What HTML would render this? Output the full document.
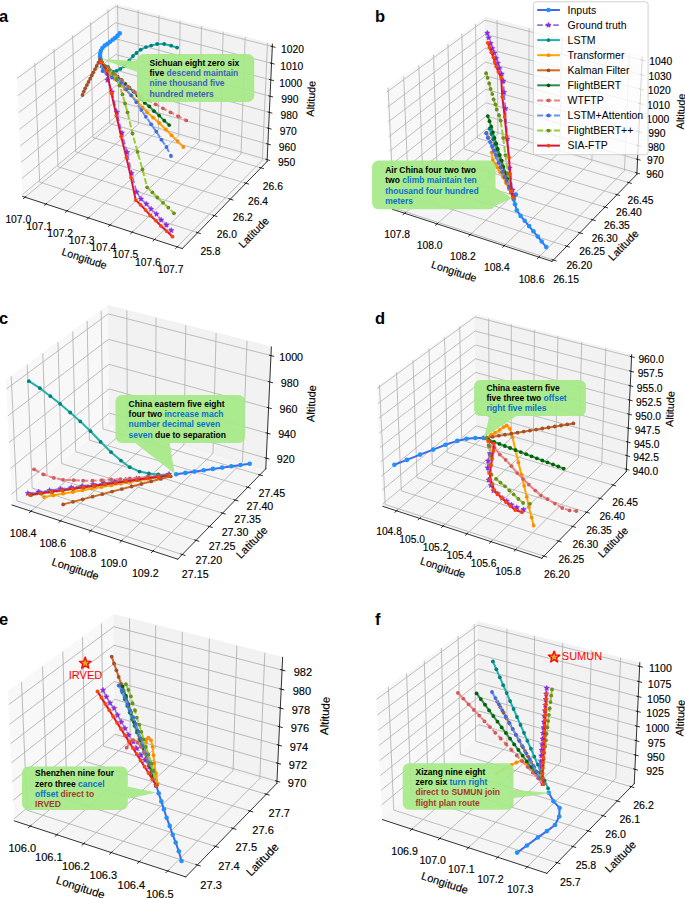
<!DOCTYPE html>
<html><head><meta charset="utf-8"><title>Trajectory prediction figure</title><style>html,body{margin:0;padding:0;background:#fff;overflow:hidden;width:685px;height:898px}svg{display:block}</style></head><body>
<svg width="685" height="898" viewBox="0 0 685 898" version="1.1">
 
 <defs>
  <style type="text/css">*{stroke-linejoin: round; stroke-linecap: butt}</style>
 </defs>
 <g id="figure_1">
  <g id="patch_1">
   <path d="M 0 898 
L 685 898 
L 685 0 
L 0 0 
z
" style="fill: #ffffff"/>
  </g>
  <g id="patch_2">
   <path d="M 1.1715 266.4865 
L 285.3605 266.4865 
L 285.3605 -1 
M 1.1715 -1 
L 1.1715 266.4865 
" style="fill: none; opacity: 0"/>
  </g>
  <g id="pane3d_1">
   <g id="patch_3">
    <path d="M 22.629729 196.4146 
L 116.478218 117.748936 
L 115.173634 4.298985 
L 16.834011 76.062763 
" style="fill: #f2f2f2; opacity: 0.5; stroke: #f2f2f2; stroke-linejoin: miter"/>
   </g>
  </g>
  <g id="pane3d_2">
   <g id="patch_4">
    <path d="M 116.478218 117.748936 
L 267.071558 161.520474 
L 272.445703 44.16287 
L 115.173634 4.298985 
" style="fill: #e6e6e6; opacity: 0.5; stroke: #e6e6e6; stroke-linejoin: miter"/>
   </g>
  </g>
  <g id="pane3d_3">
   <g id="patch_5">
    <path d="M 22.629729 196.4146 
L 182.266025 248.551814 
L 267.071558 161.520474 
L 116.478218 117.748936 
" style="fill: #ececec; opacity: 0.5; stroke: #ececec; stroke-linejoin: miter"/>
   </g>
  </g>
  <g id="grid3d_1">
   <g id="Line3DCollection_1">
    <path d="M 25.107595 197.223871 
L 118.825902 118.431315 
L 117.620346 4.919155 
" style="fill: none; stroke: #b0b0b0; stroke-width: 0.799969"/>
    <path d="M 45.919617 204.021077 
L 138.531777 124.159035 
L 138.163786 10.126318 
" style="fill: none; stroke: #b0b0b0; stroke-width: 0.799969"/>
    <path d="M 67.027348 210.914862 
L 158.494451 129.961396 
L 158.986507 15.404271 
" style="fill: none; stroke: #b0b0b0; stroke-width: 0.799969"/>
    <path d="M 88.437136 217.907299 
L 178.718976 135.839867 
L 180.094242 20.754467 
" style="fill: none; stroke: #b0b0b0; stroke-width: 0.799969"/>
    <path d="M 110.15551 225.00052 
L 199.210539 141.795955 
L 201.492885 26.178399 
" style="fill: none; stroke: #b0b0b0; stroke-width: 0.799969"/>
    <path d="M 132.189192 232.19672 
L 219.974463 147.831208 
L 223.18849 31.677602 
" style="fill: none; stroke: #b0b0b0; stroke-width: 0.799969"/>
    <path d="M 154.545098 239.498159 
L 241.016215 153.947215 
L 245.187283 37.253655 
" style="fill: none; stroke: #b0b0b0; stroke-width: 0.799969"/>
    <path d="M 177.230348 246.907162 
L 262.341408 160.145606 
L 267.495663 42.908179 
" style="fill: none; stroke: #b0b0b0; stroke-width: 0.799969"/>
   </g>
  </g>
  <g id="grid3d_2">
   <g id="Line3DCollection_2">
    <path d="M 34.737572 62.997559 
L 39.662639 182.137278 
L 197.713394 232.699012 
" style="fill: none; stroke: #b0b0b0; stroke-width: 0.799969"/>
    <path d="M 53.990124 48.947924 
L 58.005204 166.762176 
L 214.320808 215.65572 
" style="fill: none; stroke: #b0b0b0; stroke-width: 0.799969"/>
    <path d="M 72.601241 35.366378 
L 75.762583 151.877589 
L 230.371097 199.184176 
" style="fill: none; stroke: #b0b0b0; stroke-width: 0.799969"/>
    <path d="M 90.602456 22.229912 
L 92.962341 137.460411 
L 245.891832 183.256083 
" style="fill: none; stroke: #b0b0b0; stroke-width: 0.799969"/>
    <path d="M 108.023265 9.516999 
L 109.630337 123.488965 
L 260.908797 167.844983 
" style="fill: none; stroke: #b0b0b0; stroke-width: 0.799969"/>
   </g>
  </g>
  <g id="grid3d_3">
   <g id="Line3DCollection_3">
    <path d="M 267.1571 159.652461 
L 116.45741 115.939367 
L 22.53763 194.502103 
" style="fill: none; stroke: #b0b0b0; stroke-width: 0.799969"/>
    <path d="M 267.870533 144.072892 
L 116.283917 100.85197 
L 21.769315 178.547533 
" style="fill: none; stroke: #b0b0b0; stroke-width: 0.799969"/>
    <path d="M 268.592497 128.307044 
L 116.108448 85.592792 
L 20.991463 162.394932 
" style="fill: none; stroke: #b0b0b0; stroke-width: 0.799969"/>
    <path d="M 269.323145 112.351556 
L 115.930971 70.158882 
L 20.203896 146.040591 
" style="fill: none; stroke: #b0b0b0; stroke-width: 0.799969"/>
    <path d="M 270.062635 96.202987 
L 115.751449 54.547222 
L 19.40643 129.480705 
" style="fill: none; stroke: #b0b0b0; stroke-width: 0.799969"/>
    <path d="M 270.811128 79.857809 
L 115.569848 38.754723 
L 18.598879 112.711377 
" style="fill: none; stroke: #b0b0b0; stroke-width: 0.799969"/>
    <path d="M 271.56879 63.312411 
L 115.386131 22.778225 
L 17.781049 95.728606 
" style="fill: none; stroke: #b0b0b0; stroke-width: 0.799969"/>
    <path d="M 272.33579 46.563091 
L 115.200261 6.614493 
L 16.952743 78.528291 
" style="fill: none; stroke: #b0b0b0; stroke-width: 0.799969"/>
   </g>
  </g>
  <g id="axis3d_1">
   <g id="line2d_1">
    <path d="M 22.629729 196.4146 
L 182.266025 248.551814 
" style="fill: none; stroke: #000000; stroke-width: 0.8; stroke-linecap: square"/>
   </g>
   <g id="xtick_1">
    <g id="line2d_2">
     <path d="M 25.923528 196.537886 
L 23.472237 198.598779 
" style="fill: none; stroke: #000000; stroke-width: 0.799969; stroke-linecap: square"/>
    </g>
    <g id="text_1">
     <g transform="translate(0.7 2.3)" stroke="#000" stroke-width="0.15"><text style="font-size: 10.299601px; font-family: 'Liberation Sans', sans-serif; text-anchor: middle" x="17.574021" y="220.347779" transform="rotate(-0 17.574021 220.347779)">107.0</text></g>
    </g>
   </g>
   <g id="xtick_2">
    <g id="line2d_3">
     <path d="M 46.72638 203.325383 
L 44.302613 205.415465 
" style="fill: none; stroke: #000000; stroke-width: 0.799969; stroke-linecap: square"/>
    </g>
    <g id="text_2">
     <g transform="translate(0.7 2.3)" stroke="#000" stroke-width="0.15"><text style="font-size: 10.299601px; font-family: 'Liberation Sans', sans-serif; text-anchor: middle" x="38.405471" y="227.279602" transform="rotate(-0 38.405471 227.279602)">107.1</text></g>
    </g>
   </g>
   <g id="xtick_3">
    <g id="line2d_4">
     <path d="M 67.824598 210.209252 
L 65.429386 212.329147 
" style="fill: none; stroke: #000000; stroke-width: 0.799969; stroke-linecap: square"/>
    </g>
    <g id="text_3">
     <g transform="translate(0.7 2.3)" stroke="#000" stroke-width="0.15"><text style="font-size: 10.299601px; font-family: 'Liberation Sans', sans-serif; text-anchor: middle" x="59.533949" y="234.310263" transform="rotate(-0 59.533949 234.310263)">107.2</text></g>
    </g>
   </g>
   <g id="xtick_4">
    <g id="line2d_5">
     <path d="M 89.224517 217.191558 
L 86.85893 219.34191 
" style="fill: none; stroke: #000000; stroke-width: 0.799969; stroke-linecap: square"/>
    </g>
    <g id="text_4">
     <g transform="translate(0.7 2.3)" stroke="#000" stroke-width="0.15"><text style="font-size: 10.299601px; font-family: 'Liberation Sans', sans-serif; text-anchor: middle" x="80.965852" y="241.441891" transform="rotate(-0 80.965852 241.441891)">107.3</text></g>
    </g>
   </g>
   <g id="xtick_5">
    <g id="line2d_6">
     <path d="M 110.932655 224.27443 
L 108.597798 226.455898 
" style="fill: none; stroke: #000000; stroke-width: 0.799969; stroke-linecap: square"/>
    </g>
    <g id="text_5">
     <g transform="translate(0.7 2.3)" stroke="#000" stroke-width="0.15"><text style="font-size: 10.299601px; font-family: 'Liberation Sans', sans-serif; text-anchor: middle" x="102.707765" y="248.676677" transform="rotate(-0 102.707765 248.676677)">107.4</text></g>
    </g>
   </g>
   <g id="xtick_6">
    <g id="line2d_7">
     <path d="M 132.955719 231.460055 
L 130.652738 233.67332 
" style="fill: none; stroke: #000000; stroke-width: 0.799969; stroke-linecap: square"/>
    </g>
    <g id="text_6">
     <g transform="translate(0.7 2.3)" stroke="#000" stroke-width="0.15"><text style="font-size: 10.299601px; font-family: 'Liberation Sans', sans-serif; text-anchor: middle" x="124.766462" y="256.016876" transform="rotate(-0 124.766462 256.016876)">107.5</text></g>
    </g>
   </g>
   <g id="xtick_7">
    <g id="line2d_8">
     <path d="M 155.300612 238.750685 
L 153.030693 240.996448 
" style="fill: none; stroke: #000000; stroke-width: 0.799969; stroke-linecap: square"/>
    </g>
    <g id="text_7">
     <g transform="translate(0.7 2.3)" stroke="#000" stroke-width="0.15"><text style="font-size: 10.299601px; font-family: 'Liberation Sans', sans-serif; text-anchor: middle" x="147.148918" y="263.464807" transform="rotate(-0 147.148918 263.464807)">107.6</text></g>
    </g>
   </g>
   <g id="xtick_8">
    <g id="line2d_9">
     <path d="M 177.97444 246.148639 
L 175.738812 248.427621 
" style="fill: none; stroke: #000000; stroke-width: 0.799969; stroke-linecap: square"/>
    </g>
    <g id="text_8">
     <g transform="translate(0.7 2.3)" stroke="#000" stroke-width="0.15"><text style="font-size: 10.299601px; font-family: 'Liberation Sans', sans-serif; text-anchor: middle" x="169.862313" y="271.022861" transform="rotate(-0 169.862313 271.022861)">107.7</text></g>
    </g>
   </g>
   <g id="text_9">
    <g transform="translate(0 2.3)" stroke="#000" stroke-width="0.15"><text style="font-size: 10.699586px; font-family: 'Liberation Sans', sans-serif; text-anchor: middle" x="83.202413" y="259.678118" transform="rotate(-341.912962 83.202413 259.678118)">Longitude</text></g>
   </g>
  </g>
  <g id="axis3d_2">
   <g id="line2d_10">
    <path d="M 267.071558 161.520474 
L 182.266025 248.551814 
" style="fill: none; stroke: #000000; stroke-width: 0.8; stroke-linecap: square"/>
   </g>
   <g id="xtick_9">
    <g id="line2d_11">
     <path d="M 196.382153 232.273137 
L 200.379286 233.551853 
" style="fill: none; stroke: #000000; stroke-width: 0.799969; stroke-linecap: square"/>
    </g>
    <g id="text_10">
     <g transform="translate(0 2)" stroke="#000" stroke-width="0.15"><text style="font-size: 10.299601px; font-family: 'Liberation Sans', sans-serif; text-anchor: middle" x="210.472783" y="253.448944" transform="rotate(-0 210.472783 253.448944)">25.8</text></g>
    </g>
   </g>
   <g id="xtick_10">
    <g id="line2d_12">
     <path d="M 213.005309 215.244249 
L 216.955117 216.479699 
" style="fill: none; stroke: #000000; stroke-width: 0.799969; stroke-linecap: square"/>
    </g>
    <g id="text_11">
     <g transform="translate(0 2)" stroke="#000" stroke-width="0.15"><text style="font-size: 10.299601px; font-family: 'Liberation Sans', sans-serif; text-anchor: middle" x="226.871472" y="236.169576" transform="rotate(-0 226.871472 236.169576)">26.0</text></g>
    </g>
   </g>
   <g id="xtick_11">
    <g id="line2d_13">
     <path d="M 229.071042 198.786389 
L 232.974425 199.980733 
" style="fill: none; stroke: #000000; stroke-width: 0.799969; stroke-linecap: square"/>
    </g>
    <g id="text_12">
     <g transform="translate(0 2)" stroke="#000" stroke-width="0.15"><text style="font-size: 10.299601px; font-family: 'Liberation Sans', sans-serif; text-anchor: middle" x="242.719742" y="219.470186" transform="rotate(-0 242.719742 219.470186)">26.2</text></g>
    </g>
   </g>
   <g id="xtick_12">
    <g id="line2d_14">
     <path d="M 244.606926 182.87131 
L 248.464772 184.026565 
" style="fill: none; stroke: #000000; stroke-width: 0.799969; stroke-linecap: square"/>
    </g>
    <g id="text_13">
     <g transform="translate(0 2)" stroke="#000" stroke-width="0.15"><text style="font-size: 10.299601px; font-family: 'Liberation Sans', sans-serif; text-anchor: middle" x="258.044848" y="203.322055" transform="rotate(-0 258.044848 203.322055)">26.4</text></g>
    </g>
   </g>
   <g id="xtick_13">
    <g id="line2d_15">
     <path d="M 259.638749 167.472595 
L 263.451934 168.59065 
" style="fill: none; stroke: #000000; stroke-width: 0.799969; stroke-linecap: square"/>
    </g>
    <g id="text_14">
     <g transform="translate(0 2)" stroke="#000" stroke-width="0.15"><text style="font-size: 10.299601px; font-family: 'Liberation Sans', sans-serif; text-anchor: middle" x="272.872275" y="187.698332" transform="rotate(-0 272.872275 187.698332)">26.6</text></g>
    </g>
   </g>
   <g id="text_15">
    <g transform="translate(0.8 2)" stroke="#000" stroke-width="0.15"><text style="font-size: 10.699586px; font-family: 'Liberation Sans', sans-serif; text-anchor: middle" x="255.516006" y="233.026659" transform="rotate(-45.742112 255.516006 233.026659)">Latitude</text></g>
   </g>
  </g>
  <g id="axis3d_3">
   <g id="line2d_16">
    <path d="M 267.071558 161.520474 
L 272.445703 44.16287 
" style="fill: none; stroke: #000000; stroke-width: 0.8; stroke-linecap: square"/>
   </g>
   <g id="xtick_14">
    <g id="line2d_17">
     <path d="M 265.892272 159.285576 
L 269.689765 160.387105 
" style="fill: none; stroke: #000000; stroke-width: 0.799969; stroke-linecap: square"/>
    </g>
    <g id="text_16">
     <g transform="translate(1.2 1.8)" stroke="#000" stroke-width="0.15"><text style="font-size: 10.299601px; font-family: 'Liberation Sans', sans-serif; text-anchor: middle" x="285.421253" y="164.514456" transform="rotate(-0 285.421253 164.514456)">950</text></g>
    </g>
   </g>
   <g id="xtick_15">
    <g id="line2d_18">
     <path d="M 266.597908 143.710036 
L 270.418831 144.799472 
" style="fill: none; stroke: #000000; stroke-width: 0.799969; stroke-linecap: square"/>
    </g>
    <g id="text_17">
     <g transform="translate(1.2 1.8)" stroke="#000" stroke-width="0.15"><text style="font-size: 10.299601px; font-family: 'Liberation Sans', sans-serif; text-anchor: middle" x="286.240903" y="148.963504" transform="rotate(-0 286.240903 148.963504)">960</text></g>
    </g>
   </g>
   <g id="xtick_16">
    <g id="line2d_19">
     <path d="M 267.311977 127.948341 
L 271.156622 129.025313 
" style="fill: none; stroke: #000000; stroke-width: 0.799969; stroke-linecap: square"/>
    </g>
    <g id="text_18">
     <g transform="translate(1.2 1.8)" stroke="#000" stroke-width="0.15"><text style="font-size: 10.299601px; font-family: 'Liberation Sans', sans-serif; text-anchor: middle" x="287.070325" y="133.227145" transform="rotate(-0 287.070325 133.227145)">970</text></g>
    </g>
   </g>
   <g id="xtick_17">
    <g id="line2d_20">
     <path d="M 268.034632 111.997133 
L 271.903294 113.061262 
" style="fill: none; stroke: #000000; stroke-width: 0.799969; stroke-linecap: square"/>
    </g>
    <g id="text_19">
     <g transform="translate(1.2 1.8)" stroke="#000" stroke-width="0.15"><text style="font-size: 10.299601px; font-family: 'Liberation Sans', sans-serif; text-anchor: middle" x="287.909696" y="117.302042" transform="rotate(-0 287.909696 117.302042)">980</text></g>
    </g>
   </g>
   <g id="xtick_18">
    <g id="line2d_21">
     <path d="M 268.766029 95.852972 
L 272.659009 96.903869 
" style="fill: none; stroke: #000000; stroke-width: 0.799969; stroke-linecap: square"/>
    </g>
    <g id="text_20">
     <g transform="translate(1.2 1.8)" stroke="#000" stroke-width="0.15"><text style="font-size: 10.299601px; font-family: 'Liberation Sans', sans-serif; text-anchor: middle" x="288.759194" y="101.184779" transform="rotate(-0 288.759194 101.184779)">990</text></g>
    </g>
   </g>
   <g id="xtick_19">
    <g id="line2d_22">
     <path d="M 269.506327 79.512338 
L 273.423932 80.549599 
" style="fill: none; stroke: #000000; stroke-width: 0.799969; stroke-linecap: square"/>
    </g>
    <g id="text_21">
     <g transform="translate(1.2 1.8)" stroke="#000" stroke-width="0.15"><text style="font-size: 10.299601px; font-family: 'Liberation Sans', sans-serif; text-anchor: middle" x="289.619006" y="84.871858" transform="rotate(-0 289.619006 84.871858)">1000</text></g>
    </g>
   </g>
   <g id="xtick_20">
    <g id="line2d_23">
     <path d="M 270.255689 62.971621 
L 274.198233 63.994832 
" style="fill: none; stroke: #000000; stroke-width: 0.799969; stroke-linecap: square"/>
    </g>
    <g id="text_22">
     <g transform="translate(1.2 1.8)" stroke="#000" stroke-width="0.15"><text style="font-size: 10.299601px; font-family: 'Liberation Sans', sans-serif; text-anchor: middle" x="290.489319" y="68.359693" transform="rotate(-0 290.489319 68.359693)">1010</text></g>
    </g>
   </g>
   <g id="xtick_21">
    <g id="line2d_24">
     <path d="M 271.014283 46.227124 
L 274.982085 47.235859 
" style="fill: none; stroke: #000000; stroke-width: 0.799969; stroke-linecap: square"/>
    </g>
    <g id="text_23">
     <g transform="translate(1.2 1.8)" stroke="#000" stroke-width="0.15"><text style="font-size: 10.299601px; font-family: 'Liberation Sans', sans-serif; text-anchor: middle" x="291.370327" y="51.644612" transform="rotate(-0 291.370327 51.644612)">1020</text></g>
    </g>
   </g>
   <g id="text_24">
    <g transform="translate(1.8 0)" stroke="#000" stroke-width="0.15"><text style="font-size: 10.699586px; font-family: 'Liberation Sans', sans-serif; text-anchor: middle" x="312.855012" y="98.842372" transform="rotate(-87.378092 312.855012 98.842372)">Altitude</text></g>
   </g>
  </g>
  <g id="axes_1"/>
  <g id="patch_6">
   <path d="M 370.8625 279.3535 
L 655.1675 279.3535 
L 655.1675 -1 
M 370.8625 -1 
L 370.8625 279.3535 
" style="fill: none; opacity: 0"/>
  </g>
  <g id="pane3d_4">
   <g id="patch_7">
    <path d="M 392.329488 209.252998 
L 486.216284 130.555224 
L 484.911168 17.058966 
L 386.531405 88.852036 
" style="fill: #f2f2f2; opacity: 0.5; stroke: #f2f2f2; stroke-linejoin: miter"/>
   </g>
  </g>
  <g id="pane3d_5">
   <g id="patch_8">
    <path d="M 486.216284 130.555224 
L 636.871093 174.344629 
L 642.247432 56.939122 
L 484.911168 17.058966 
" style="fill: #e6e6e6; opacity: 0.5; stroke: #e6e6e6; stroke-linejoin: miter"/>
   </g>
  </g>
  <g id="pane3d_6">
   <g id="patch_9">
    <path d="M 392.329488 209.252998 
L 552.030944 261.411493 
L 636.871093 174.344629 
L 486.216284 130.555224 
" style="fill: #ececec; opacity: 0.5; stroke: #ececec; stroke-linejoin: miter"/>
   </g>
  </g>
  <g id="grid3d_4">
   <g id="Line3DCollection_4">
    <path d="M 404.634074 213.271676 
L 497.871237 133.942859 
L 497.059324 20.138169 
" style="fill: none; stroke: #b0b0b0; stroke-width: 0.800296"/>
    <path d="M 437.079005 223.86819 
L 528.565149 142.864367 
L 529.071091 28.252219 
" style="fill: none; stroke: #b0b0b0; stroke-width: 0.800296"/>
    <path d="M 470.242755 234.699471 
L 559.882177 151.966991 
L 561.761107 36.538185 
" style="fill: none; stroke: #b0b0b0; stroke-width: 0.800296"/>
    <path d="M 504.14948 245.773407 
L 591.841491 161.256302 
L 595.15116 45.00159 
" style="fill: none; stroke: #b0b0b0; stroke-width: 0.800296"/>
    <path d="M 538.824428 257.098245 
L 624.463053 170.738102 
L 629.263978 53.648195 
" style="fill: none; stroke: #b0b0b0; stroke-width: 0.800296"/>
   </g>
  </g>
  <g id="grid3d_5">
   <g id="Line3DCollection_5">
    <path d="M 388.110727 87.699518 
L 393.831063 207.994348 
L 553.393739 260.01293 
" style="fill: none; stroke: #b0b0b0; stroke-width: 0.800296"/>
    <path d="M 403.669581 76.345375 
L 408.633748 195.586444 
L 566.818004 246.236332 
" style="fill: none; stroke: #b0b0b0; stroke-width: 0.800296"/>
    <path d="M 418.814211 65.293514 
L 423.059405 183.494573 
L 579.882354 232.829094 
" style="fill: none; stroke: #b0b0b0; stroke-width: 0.800296"/>
    <path d="M 433.560942 54.532022 
L 437.122257 171.706811 
L 592.601073 219.77656 
" style="fill: none; stroke: #b0b0b0; stroke-width: 0.800296"/>
    <path d="M 447.925252 44.049602 
L 450.835822 160.211829 
L 604.987698 207.064835 
" style="fill: none; stroke: #b0b0b0; stroke-width: 0.800296"/>
    <path d="M 461.921826 33.83554 
L 464.212952 148.998853 
L 617.055068 194.680746 
" style="fill: none; stroke: #b0b0b0; stroke-width: 0.800296"/>
    <path d="M 475.564607 23.87966 
L 477.265879 138.057632 
L 628.815368 182.611785 
" style="fill: none; stroke: #b0b0b0; stroke-width: 0.800296"/>
   </g>
  </g>
  <g id="grid3d_6">
   <g id="Line3DCollection_6">
    <path d="M 636.934999 172.949082 
L 486.200738 129.203328 
L 392.260684 207.824228 
" style="fill: none; stroke: #b0b0b0; stroke-width: 0.800296"/>
    <path d="M 637.557182 159.362199 
L 486.049428 116.044969 
L 391.590667 193.910897 
" style="fill: none; stroke: #b0b0b0; stroke-width: 0.800296"/>
    <path d="M 638.185846 145.633783 
L 485.896616 102.756074 
L 390.913405 179.847119 
" style="fill: none; stroke: #b0b0b0; stroke-width: 0.800296"/>
    <path d="M 638.821093 131.761609 
L 485.742281 89.334691 
L 390.22878 165.63044 
" style="fill: none; stroke: #b0b0b0; stroke-width: 0.800296"/>
    <path d="M 639.463027 117.743409 
L 485.586399 75.778828 
L 389.536672 151.258354 
" style="fill: none; stroke: #b0b0b0; stroke-width: 0.800296"/>
    <path d="M 640.111754 103.576863 
L 485.428948 62.086454 
L 388.836956 136.728298 
" style="fill: none; stroke: #b0b0b0; stroke-width: 0.800296"/>
    <path d="M 640.767383 89.259606 
L 485.269903 48.255497 
L 388.129506 122.037653 
" style="fill: none; stroke: #b0b0b0; stroke-width: 0.800296"/>
    <path d="M 641.430024 74.789218 
L 485.10924 34.283841 
L 387.414195 107.183743 
" style="fill: none; stroke: #b0b0b0; stroke-width: 0.800296"/>
    <path d="M 642.09979 60.163231 
L 484.946934 20.169329 
L 386.690889 92.16383 
" style="fill: none; stroke: #b0b0b0; stroke-width: 0.800296"/>
   </g>
  </g>
  <g id="axis3d_4">
   <g id="line2d_25">
    <path d="M 392.329488 209.252998 
L 552.030944 261.411493 
" style="fill: none; stroke: #000000; stroke-width: 0.8; stroke-linecap: square"/>
   </g>
   <g id="xtick_22">
    <g id="line2d_26">
     <path d="M 405.446036 212.580835 
L 403.006661 214.656325 
" style="fill: none; stroke: #000000; stroke-width: 0.800296; stroke-linecap: square"/>
    </g>
    <g id="text_25">
     <g transform="translate(0.1 1.7)" stroke="#000" stroke-width="0.15"><text style="font-size: 10.303805px; font-family: 'Liberation Sans', sans-serif; text-anchor: middle" x="397.10647" y="236.468535" transform="rotate(-0 397.10647 236.468535)">107.8</text></g>
    </g>
   </g>
   <g id="xtick_23">
    <g id="line2d_27">
     <path d="M 437.876429 223.162134 
L 435.480696 225.283368 
" style="fill: none; stroke: #000000; stroke-width: 0.800296; stroke-linecap: square"/>
    </g>
    <g id="text_26">
     <g transform="translate(0.1 1.7)" stroke="#000" stroke-width="0.15"><text style="font-size: 10.303805px; font-family: 'Liberation Sans', sans-serif; text-anchor: middle" x="429.582884" y="247.275308" transform="rotate(-0 429.582884 247.275308)">108.0</text></g>
    </g>
   </g>
   <g id="xtick_24">
    <g id="line2d_28">
     <path d="M 471.024793 233.977692 
L 468.675247 236.146199 
" style="fill: none; stroke: #000000; stroke-width: 0.800296; stroke-linecap: square"/>
    </g>
    <g id="text_27">
     <g transform="translate(0.1 1.7)" stroke="#000" stroke-width="0.15"><text style="font-size: 10.303805px; font-family: 'Liberation Sans', sans-serif; text-anchor: middle" x="462.781376" y="258.322357" transform="rotate(-0 462.781376 258.322357)">108.2</text></g>
    </g>
   </g>
   <g id="xtick_25">
    <g id="line2d_29">
     <path d="M 504.915238 245.035373 
L 502.614562 247.252752 
" style="fill: none; stroke: #000000; stroke-width: 0.800296; stroke-linecap: square"/>
    </g>
    <g id="text_28">
     <g transform="translate(0.1 1.7)" stroke="#000" stroke-width="0.15"><text style="font-size: 10.303805px; font-family: 'Liberation Sans', sans-serif; text-anchor: middle" x="496.726298" y="269.617787" transform="rotate(-0 496.726298 269.617787)">108.4</text></g>
    </g>
   </g>
   <g id="xtick_26">
    <g id="line2d_30">
     <path d="M 539.572966 256.343401 
L 537.323992 258.611323 
" style="fill: none; stroke: #000000; stroke-width: 0.800296; stroke-linecap: square"/>
    </g>
    <g id="text_29">
     <g transform="translate(0.1 1.7)" stroke="#000" stroke-width="0.15"><text style="font-size: 10.303805px; font-family: 'Liberation Sans', sans-serif; text-anchor: middle" x="531.443111" y="281.17007" transform="rotate(-0 531.443111 281.17007)">108.6</text></g>
    </g>
   </g>
   <g id="text_30">
    <g transform="translate(0 2.3)" stroke="#000" stroke-width="0.15"><text style="font-size: 10.703953px; font-family: 'Liberation Sans', sans-serif; text-anchor: middle" x="452.926897" y="272.542339" transform="rotate(-341.912962 452.926897 272.542339)">Longitude</text></g>
   </g>
  </g>
  <g id="axis3d_5">
   <g id="line2d_31">
    <path d="M 636.871093 174.344629 
L 552.030944 261.411493 
" style="fill: none; stroke: #000000; stroke-width: 0.8; stroke-linecap: square"/>
   </g>
   <g id="xtick_27">
    <g id="line2d_32">
     <path d="M 552.048787 259.574466 
L 556.087136 260.890997 
" style="fill: none; stroke: #000000; stroke-width: 0.800296; stroke-linecap: square"/>
    </g>
    <g id="text_31">
     <g transform="translate(-0.3 1.6)" stroke="#000" stroke-width="0.15"><text style="font-size: 10.303805px; font-family: 'Liberation Sans', sans-serif; text-anchor: middle" x="566.335189" y="280.971891" transform="rotate(-0 566.335189 280.971891)">26.15</text></g>
    </g>
   </g>
   <g id="xtick_28">
    <g id="line2d_33">
     <path d="M 565.485592 245.8097 
L 569.486241 247.090689 
" style="fill: none; stroke: #000000; stroke-width: 0.800296; stroke-linecap: square"/>
    </g>
    <g id="text_32">
     <g transform="translate(-0.3 1.6)" stroke="#000" stroke-width="0.15"><text style="font-size: 10.303805px; font-family: 'Liberation Sans', sans-serif; text-anchor: middle" x="579.590972" y="267.004216" transform="rotate(-0 579.590972 267.004216)">26.20</text></g>
    </g>
   </g>
   <g id="xtick_29">
    <g id="line2d_34">
     <path d="M 578.562299 232.413822 
L 582.525803 233.66069 
" style="fill: none; stroke: #000000; stroke-width: 0.800296; stroke-linecap: square"/>
    </g>
    <g id="text_33">
     <g transform="translate(-0.3 1.6)" stroke="#000" stroke-width="0.15"><text style="font-size: 10.303805px; font-family: 'Liberation Sans', sans-serif; text-anchor: middle" x="592.491164" y="253.411229" transform="rotate(-0 592.491164 253.411229)">26.25</text></g>
    </g>
   </g>
   <g id="xtick_30">
    <g id="line2d_35">
     <path d="M 591.29319 219.372198 
L 595.220102 220.586291 
" style="fill: none; stroke: #000000; stroke-width: 0.800296; stroke-linecap: square"/>
    </g>
    <g id="text_34">
     <g transform="translate(-0.3 1.6)" stroke="#000" stroke-width="0.15"><text style="font-size: 10.303805px; font-family: 'Liberation Sans', sans-serif; text-anchor: middle" x="605.049882" y="240.178054" transform="rotate(-0 605.049882 240.178054)">26.30</text></g>
    </g>
   </g>
   <g id="xtick_31">
    <g id="line2d_36">
     <path d="M 603.691806 206.670961 
L 607.582673 207.853554 
" style="fill: none; stroke: #000000; stroke-width: 0.800296; stroke-linecap: square"/>
    </g>
    <g id="text_35">
     <g transform="translate(-0.3 1.6)" stroke="#000" stroke-width="0.15"><text style="font-size: 10.303805px; font-family: 'Liberation Sans', sans-serif; text-anchor: middle" x="617.280508" y="227.290591" transform="rotate(-0 617.280508 227.290591)">26.35</text></g>
    </g>
   </g>
   <g id="xtick_32">
    <g id="line2d_37">
     <path d="M 615.770987 194.296956 
L 619.626351 195.449258 
" style="fill: none; stroke: #000000; stroke-width: 0.800296; stroke-linecap: square"/>
    </g>
    <g id="text_36">
     <g transform="translate(-0.3 1.6)" stroke="#000" stroke-width="0.15"><text style="font-size: 10.303805px; font-family: 'Liberation Sans', sans-serif; text-anchor: middle" x="629.195734" y="214.735467" transform="rotate(-0 629.195734 214.735467)">26.40</text></g>
    </g>
   </g>
   <g id="xtick_33">
    <g id="line2d_38">
     <path d="M 627.54292 182.237697 
L 631.363316 183.360858 
" style="fill: none; stroke: #000000; stroke-width: 0.800296; stroke-linecap: square"/>
    </g>
    <g id="text_37">
     <g transform="translate(-0.3 1.6)" stroke="#000" stroke-width="0.15"><text style="font-size: 10.303805px; font-family: 'Liberation Sans', sans-serif; text-anchor: middle" x="640.807604" y="202.499989" transform="rotate(-0 640.807604 202.499989)">26.45</text></g>
    </g>
   </g>
   <g id="text_38">
    <g transform="translate(0.8 2)" stroke="#000" stroke-width="0.15"><text style="font-size: 10.703953px; font-family: 'Liberation Sans', sans-serif; text-anchor: middle" x="625.310824" y="245.880001" transform="rotate(-45.742112 625.310824 245.880001)">Latitude</text></g>
   </g>
  </g>
  <g id="axis3d_6">
   <g id="line2d_39">
    <path d="M 636.871093 174.344629 
L 642.247432 56.939122 
" style="fill: none; stroke: #000000; stroke-width: 0.8; stroke-linecap: square"/>
   </g>
   <g id="xtick_34">
    <g id="line2d_40">
     <path d="M 635.669892 172.581926 
L 639.468224 173.684269 
" style="fill: none; stroke: #000000; stroke-width: 0.800296; stroke-linecap: square"/>
    </g>
    <g id="text_39">
     <g transform="translate(-0.4 0)" stroke="#000" stroke-width="0.15"><text style="font-size: 10.303805px; font-family: 'Liberation Sans', sans-serif; text-anchor: middle" x="655.20338" y="177.812201" transform="rotate(-0 655.20338 177.812201)">960</text></g>
    </g>
   </g>
   <g id="xtick_35">
    <g id="line2d_41">
     <path d="M 636.285274 158.998551 
L 640.104039 160.090365 
" style="fill: none; stroke: #000000; stroke-width: 0.800296; stroke-linecap: square"/>
    </g>
    <g id="text_40">
     <g transform="translate(-0.4 0)" stroke="#000" stroke-width="0.15"><text style="font-size: 10.303805px; font-family: 'Liberation Sans', sans-serif; text-anchor: middle" x="655.918196" y="164.250232" transform="rotate(-0 655.918196 164.250232)">970</text></g>
    </g>
   </g>
   <g id="xtick_36">
    <g id="line2d_42">
     <path d="M 636.907065 145.273736 
L 640.746483 146.354741 
" style="fill: none; stroke: #000000; stroke-width: 0.800296; stroke-linecap: square"/>
    </g>
    <g id="text_41">
     <g transform="translate(-0.4 0)" stroke="#000" stroke-width="0.15"><text style="font-size: 10.303805px; font-family: 'Liberation Sans', sans-serif; text-anchor: middle" x="656.640437" y="150.547391" transform="rotate(-0 656.640437 150.547391)">980</text></g>
    </g>
   </g>
   <g id="xtick_37">
    <g id="line2d_43">
     <path d="M 637.535363 131.40526 
L 641.395659 132.475169 
" style="fill: none; stroke: #000000; stroke-width: 0.800296; stroke-linecap: square"/>
    </g>
    <g id="text_42">
     <g transform="translate(-0.4 0)" stroke="#000" stroke-width="0.15"><text style="font-size: 10.303805px; font-family: 'Liberation Sans', sans-serif; text-anchor: middle" x="657.370219" y="136.701469" transform="rotate(-0 657.370219 136.701469)">990</text></g>
    </g>
   </g>
   <g id="xtick_38">
    <g id="line2d_44">
     <path d="M 638.170273 117.390854 
L 642.051675 118.449374 
" style="fill: none; stroke: #000000; stroke-width: 0.800296; stroke-linecap: square"/>
    </g>
    <g id="text_43">
     <g transform="translate(-0.4 0)" stroke="#000" stroke-width="0.15"><text style="font-size: 10.303805px; font-family: 'Liberation Sans', sans-serif; text-anchor: middle" x="658.107662" y="122.710215" transform="rotate(-0 658.107662 122.710215)">1000</text></g>
    </g>
   </g>
   <g id="xtick_39">
    <g id="line2d_45">
     <path d="M 638.8119 103.228205 
L 642.714638 104.275032 
" style="fill: none; stroke: #000000; stroke-width: 0.800296; stroke-linecap: square"/>
    </g>
    <g id="text_44">
     <g transform="translate(-0.4 0)" stroke="#000" stroke-width="0.15"><text style="font-size: 10.303805px; font-family: 'Liberation Sans', sans-serif; text-anchor: middle" x="658.852885" y="108.571329" transform="rotate(-0 658.852885 108.571329)">1010</text></g>
    </g>
   </g>
   <g id="xtick_40">
    <g id="line2d_46">
     <path d="M 639.460349 88.914946 
L 643.384661 89.949772 
" style="fill: none; stroke: #000000; stroke-width: 0.800296; stroke-linecap: square"/>
    </g>
    <g id="text_45">
     <g transform="translate(-0.4 0)" stroke="#000" stroke-width="0.15"><text style="font-size: 10.303805px; font-family: 'Liberation Sans', sans-serif; text-anchor: middle" x="659.606014" y="94.28246" transform="rotate(-0 659.606014 94.28246)">1020</text></g>
    </g>
   </g>
   <g id="xtick_41">
    <g id="line2d_47">
     <path d="M 640.115731 74.448663 
L 644.061855 75.471171 
" style="fill: none; stroke: #000000; stroke-width: 0.800296; stroke-linecap: square"/>
    </g>
    <g id="text_46">
     <g transform="translate(-0.4 0)" stroke="#000" stroke-width="0.15"><text style="font-size: 10.303805px; font-family: 'Liberation Sans', sans-serif; text-anchor: middle" x="660.367175" y="79.841211" transform="rotate(-0 660.367175 79.841211)">1030</text></g>
    </g>
   </g>
   <g id="xtick_42">
    <g id="line2d_48">
     <path d="M 640.778157 59.826888 
L 644.746337 60.836752 
" style="fill: none; stroke: #000000; stroke-width: 0.800296; stroke-linecap: square"/>
    </g>
    <g id="text_47">
     <g transform="translate(-0.4 0)" stroke="#000" stroke-width="0.15"><text style="font-size: 10.303805px; font-family: 'Liberation Sans', sans-serif; text-anchor: middle" x="661.136496" y="65.24513" transform="rotate(-0 661.136496 65.24513)">1040</text></g>
    </g>
   </g>
   <g id="text_48">
    <g transform="translate(1.8 0)" stroke="#000" stroke-width="0.15"><text style="font-size: 10.703953px; font-family: 'Liberation Sans', sans-serif; text-anchor: middle" x="682.673234" y="111.640943" transform="rotate(-87.378092 682.673234 111.640943)">Altitude</text></g>
   </g>
  </g>
  <g id="axes_2"/>
  <g id="patch_10">
   <path d="M -1 577.7635 
L 284.7645 577.7635 
L 284.7645 282.7505 
L -1 282.7505 
" style="fill: none; opacity: 0"/>
  </g>
  <g id="pane3d_7">
   <g id="patch_11">
    <path d="M 12.027016 505.022749 
L 109.449943 423.360919 
L 108.095671 305.589963 
L 6.010555 380.087031 
" style="fill: #f2f2f2; opacity: 0.5; stroke: #f2f2f2; stroke-linejoin: miter"/>
   </g>
  </g>
  <g id="pane3d_8">
   <g id="patch_12">
    <path d="M 109.449943 423.360919 
L 265.778981 468.799599 
L 271.357813 346.972157 
L 108.095671 305.589963 
" style="fill: #e6e6e6; opacity: 0.5; stroke: #e6e6e6; stroke-linejoin: miter"/>
   </g>
  </g>
  <g id="pane3d_9">
   <g id="patch_13">
    <path d="M 12.027016 505.022749 
L 177.743431 559.14573 
L 265.778981 468.799599 
L 109.449943 423.360919 
" style="fill: #ececec; opacity: 0.5; stroke: #ececec; stroke-linejoin: miter"/>
   </g>
  </g>
  <g id="grid3d_7">
   <g id="Line3DCollection_7">
    <path d="M 30.979084 511.212494 
L 127.398455 428.577843 
L 126.80519 310.332281 
" style="fill: none; stroke: #b0b0b0; stroke-width: 0.830438"/>
    <path d="M 60.598909 520.886329 
L 155.413508 436.720713 
L 156.026184 317.738951 
" style="fill: none; stroke: #b0b0b0; stroke-width: 0.830438"/>
    <path d="M 90.79414 530.748091 
L 183.927275 445.008539 
L 185.790062 325.283226 
" style="fill: none; stroke: #b0b0b0; stroke-width: 0.830438"/>
    <path d="M 121.581709 540.803311 
L 212.953192 453.445227 
L 216.112095 332.968978 
" style="fill: none; stroke: #b0b0b0; stroke-width: 0.830438"/>
    <path d="M 152.979217 551.057737 
L 242.505184 462.034825 
L 247.008132 340.800222 
" style="fill: none; stroke: #b0b0b0; stroke-width: 0.830438"/>
   </g>
  </g>
  <g id="grid3d_8">
   <g id="Line3DCollection_8">
    <path d="M 11.223738 376.282688 
L 16.984219 500.867523 
L 182.241781 554.529316 
" style="fill: none; stroke: #b0b0b0; stroke-width: 0.830438"/>
    <path d="M 27.226509 364.604594 
L 32.213209 488.102281 
L 196.048475 540.360251 
" style="fill: none; stroke: #b0b0b0; stroke-width: 0.830438"/>
    <path d="M 42.805689 353.235618 
L 47.056499 475.660342 
L 209.487139 526.568877 
" style="fill: none; stroke: #b0b0b0; stroke-width: 0.830438"/>
    <path d="M 57.977879 342.163645 
L 61.528556 463.529576 
L 222.572294 513.140288 
" style="fill: none; stroke: #b0b0b0; stroke-width: 0.830438"/>
    <path d="M 72.758819 331.377188 
L 75.643136 451.698455 
L 235.317709 500.060358 
" style="fill: none; stroke: #b0b0b0; stroke-width: 0.830438"/>
    <path d="M 87.163452 320.865343 
L 89.413323 440.156011 
L 247.736444 487.31568 
" style="fill: none; stroke: #b0b0b0; stroke-width: 0.830438"/>
    <path d="M 101.205967 310.617755 
L 102.85157 428.891807 
L 259.840902 474.893529 
" style="fill: none; stroke: #b0b0b0; stroke-width: 0.830438"/>
   </g>
  </g>
  <g id="grid3d_9">
   <g id="Line3DCollection_9">
    <path d="M 266.265895 458.166642 
L 109.331516 413.062185 
L 11.502714 494.135275 
" style="fill: none; stroke: #b0b0b0; stroke-width: 0.830438"/>
    <path d="M 267.408152 433.222661 
L 109.053868 388.917161 
L 10.272142 468.581647 
" style="fill: none; stroke: #b0b0b0; stroke-width: 0.830438"/>
    <path d="M 268.571474 407.818675 
L 108.771346 364.348321 
L 9.018003 442.538636 
" style="fill: none; stroke: #b0b0b0; stroke-width: 0.830438"/>
    <path d="M 269.75645 381.941842 
L 108.48382 339.344406 
L 7.739613 415.99205 
" style="fill: none; stroke: #b0b0b0; stroke-width: 0.830438"/>
    <path d="M 270.963688 355.578835 
L 108.191158 313.893756 
L 6.436263 388.927139 
" style="fill: none; stroke: #b0b0b0; stroke-width: 0.830438"/>
   </g>
  </g>
  <g id="axis3d_7">
   <g id="line2d_49">
    <path d="M 12.027016 505.022749 
L 177.743431 559.14573 
" style="fill: none; stroke: #000000; stroke-width: 0.8; stroke-linecap: square"/>
   </g>
   <g id="xtick_43">
    <g id="line2d_50">
     <path d="M 31.818897 510.492746 
L 29.295845 512.655087 
" style="fill: none; stroke: #000000; stroke-width: 0.830438; stroke-linecap: square"/>
    </g>
    <g id="text_49">
     <g transform="translate(0 1.5)" stroke="#000" stroke-width="0.15"><text style="font-size: 10.691886px; font-family: 'Liberation Sans', sans-serif; text-anchor: middle" x="23.17377" y="535.323046" transform="rotate(-0 23.17377 535.323046)">108.4</text></g>
    </g>
   </g>
   <g id="xtick_44">
    <g id="line2d_51">
     <path d="M 61.425391 520.152672 
L 58.942354 522.35683 
" style="fill: none; stroke: #000000; stroke-width: 0.830438; stroke-linecap: square"/>
    </g>
    <g id="text_50">
     <g transform="translate(0 1.5)" stroke="#000" stroke-width="0.15"><text style="font-size: 10.691886px; font-family: 'Liberation Sans', sans-serif; text-anchor: middle" x="52.822616" y="545.188924" transform="rotate(-0 52.822616 545.188924)">108.6</text></g>
    </g>
   </g>
   <g id="xtick_45">
    <g id="line2d_52">
     <path d="M 91.606613 530.000118 
L 89.16563 532.247319 
" style="fill: none; stroke: #000000; stroke-width: 0.830438; stroke-linecap: square"/>
    </g>
    <g id="text_51">
     <g transform="translate(0 1.5)" stroke="#000" stroke-width="0.15"><text style="font-size: 10.691886px; font-family: 'Liberation Sans', sans-serif; text-anchor: middle" x="83.049481" y="555.247142" transform="rotate(-0 83.049481 555.247142)">108.8</text></g>
    </g>
   </g>
   <g id="xtick_46">
    <g id="line2d_53">
     <path d="M 122.379462 540.040599 
L 119.982669 542.332115 
" style="fill: none; stroke: #000000; stroke-width: 0.830438; stroke-linecap: square"/>
    </g>
    <g id="text_52">
     <g transform="translate(0 1.5)" stroke="#000" stroke-width="0.15"><text style="font-size: 10.691886px; font-family: 'Liberation Sans', sans-serif; text-anchor: middle" x="113.871435" y="565.503381" transform="rotate(-0 113.871435 565.503381)">109.0</text></g>
    </g>
   </g>
   <g id="xtick_47">
    <g id="line2d_54">
     <path d="M 153.761505 550.279845 
L 151.411142 552.617002 
" style="fill: none; stroke: #000000; stroke-width: 0.830438; stroke-linecap: square"/>
    </g>
    <g id="text_53">
     <g transform="translate(0 1.5)" stroke="#000" stroke-width="0.15"><text style="font-size: 10.691886px; font-family: 'Liberation Sans', sans-serif; text-anchor: middle" x="145.306226" y="575.963545" transform="rotate(-0 145.306226 575.963545)">109.2</text></g>
    </g>
   </g>
   <g id="text_54">
    <g transform="translate(-0.7 1.8)" stroke="#000" stroke-width="0.15"><text style="font-size: 11.107105px; font-family: 'Liberation Sans', sans-serif; text-anchor: middle" x="74.906752" y="570.695805" transform="rotate(-341.912962 74.906752 570.695805)">Longitude</text></g>
   </g>
  </g>
  <g id="axis3d_8">
   <g id="line2d_55">
    <path d="M 265.778981 468.799599 
L 177.743431 559.14573 
" style="fill: none; stroke: #000000; stroke-width: 0.8; stroke-linecap: square"/>
   </g>
   <g id="xtick_48">
    <g id="line2d_56">
     <path d="M 180.849041 554.07707 
L 185.03087 555.434978 
" style="fill: none; stroke: #000000; stroke-width: 0.830438; stroke-linecap: square"/>
    </g>
    <g id="text_55">
     <g transform="translate(-0.4 1.7)" stroke="#000" stroke-width="0.15"><text style="font-size: 10.691886px; font-family: 'Liberation Sans', sans-serif; text-anchor: middle" x="195.631965" y="576.233751" transform="rotate(-0 195.631965 576.233751)">27.15</text></g>
    </g>
   </g>
   <g id="xtick_49">
    <g id="line2d_57">
     <path d="M 194.668667 539.920139 
L 198.811616 541.241601 
" style="fill: none; stroke: #000000; stroke-width: 0.830438; stroke-linecap: square"/>
    </g>
    <g id="text_56">
     <g transform="translate(-0.4 1.7)" stroke="#000" stroke-width="0.15"><text style="font-size: 10.691886px; font-family: 'Liberation Sans', sans-serif; text-anchor: middle" x="209.265332" y="561.868214" transform="rotate(-0 209.265332 561.868214)">27.20</text></g>
    </g>
   </g>
   <g id="xtick_50">
    <g id="line2d_58">
     <path d="M 208.120074 526.140415 
L 212.224715 527.42688 
" style="fill: none; stroke: #000000; stroke-width: 0.830438; stroke-linecap: square"/>
    </g>
    <g id="text_57">
     <g transform="translate(-0.4 1.7)" stroke="#000" stroke-width="0.15"><text style="font-size: 10.691886px; font-family: 'Liberation Sans', sans-serif; text-anchor: middle" x="222.535091" y="547.885813" transform="rotate(-0 222.535091 547.885813)">27.25</text></g>
    </g>
   </g>
   <g id="xtick_51">
    <g id="line2d_59">
     <path d="M 221.217783 512.723021 
L 225.284686 513.975861 
" style="fill: none; stroke: #000000; stroke-width: 0.830438; stroke-linecap: square"/>
    </g>
    <g id="text_58">
     <g transform="translate(-0.4 1.7)" stroke="#000" stroke-width="0.15"><text style="font-size: 10.691886px; font-family: 'Liberation Sans', sans-serif; text-anchor: middle" x="235.455596" y="534.271422" transform="rotate(-0 235.455596 534.271422)">27.30</text></g>
    </g>
   </g>
   <g id="xtick_52">
    <g id="line2d_60">
     <path d="M 233.975565 499.653852 
L 238.005292 500.874367 
" style="fill: none; stroke: #000000; stroke-width: 0.830438; stroke-linecap: square"/>
    </g>
    <g id="text_59">
     <g transform="translate(-0.4 1.7)" stroke="#000" stroke-width="0.15"><text style="font-size: 10.691886px; font-family: 'Liberation Sans', sans-serif; text-anchor: middle" x="248.040456" y="521.010701" transform="rotate(-0 248.040456 521.010701)">27.35</text></g>
    </g>
   </g>
   <g id="xtick_53">
    <g id="line2d_61">
     <path d="M 246.406482 486.919524 
L 250.399592 488.108951 
" style="fill: none; stroke: #000000; stroke-width: 0.830438; stroke-linecap: square"/>
    </g>
    <g id="text_60">
     <g transform="translate(-0.4 1.7)" stroke="#000" stroke-width="0.15"><text style="font-size: 10.691886px; font-family: 'Liberation Sans', sans-serif; text-anchor: middle" x="260.302583" y="508.090045" transform="rotate(-0 260.302583 508.090045)">27.40</text></g>
    </g>
   </g>
   <g id="xtick_54">
    <g id="line2d_62">
     <path d="M 258.522939 474.507333 
L 262.479982 475.666844 
" style="fill: none; stroke: #000000; stroke-width: 0.830438; stroke-linecap: square"/>
    </g>
    <g id="text_61">
     <g transform="translate(-0.4 1.7)" stroke="#000" stroke-width="0.15"><text style="font-size: 10.691886px; font-family: 'Liberation Sans', sans-serif; text-anchor: middle" x="272.254235" y="495.496538" transform="rotate(-0 272.254235 495.496538)">27.45</text></g>
    </g>
   </g>
   <g id="text_62">
    <g transform="translate(0.8 2)" stroke="#000" stroke-width="0.15"><text style="font-size: 11.107105px; font-family: 'Liberation Sans', sans-serif; text-anchor: middle" x="253.783309" y="543.029263" transform="rotate(-45.742112 253.783309 543.029263)">Latitude</text></g>
   </g>
  </g>
  <g id="axis3d_9">
   <g id="line2d_63">
    <path d="M 265.778981 468.799599 
L 271.357813 346.972157 
" style="fill: none; stroke: #000000; stroke-width: 0.8; stroke-linecap: square"/>
   </g>
   <g id="xtick_55">
    <g id="line2d_64">
     <path d="M 264.948542 457.788022 
L 268.903745 458.924786 
" style="fill: none; stroke: #000000; stroke-width: 0.830438; stroke-linecap: square"/>
    </g>
    <g id="text_63">
     <g transform="translate(0.5 0.05)" stroke="#000" stroke-width="0.15"><text style="font-size: 10.691886px; font-family: 'Liberation Sans', sans-serif; text-anchor: middle" x="285.284956" y="463.22972" transform="rotate(-0 285.284956 463.22972)">920</text></g>
    </g>
   </g>
   <g id="xtick_56">
    <g id="line2d_65">
     <path d="M 266.07831 432.850588 
L 270.07104 433.967703 
" style="fill: none; stroke: #000000; stroke-width: 0.830438; stroke-linecap: square"/>
    </g>
    <g id="text_64">
     <g transform="translate(0.5 0.05)" stroke="#000" stroke-width="0.15"><text style="font-size: 10.691886px; font-family: 'Liberation Sans', sans-serif; text-anchor: middle" x="286.597237" y="438.33223" transform="rotate(-0 286.597237 438.33223)">940</text></g>
    </g>
   </g>
   <g id="xtick_57">
    <g id="line2d_66">
     <path d="M 267.228904 407.453456 
L 271.259879 408.55 
" style="fill: none; stroke: #000000; stroke-width: 0.830438; stroke-linecap: square"/>
    </g>
    <g id="text_65">
     <g transform="translate(0.5 0.05)" stroke="#000" stroke-width="0.15"><text style="font-size: 10.691886px; font-family: 'Liberation Sans', sans-serif; text-anchor: middle" x="287.93365" y="412.97691" transform="rotate(-0 287.93365 412.97691)">960</text></g>
    </g>
   </g>
   <g id="xtick_58">
    <g id="line2d_67">
     <path d="M 268.400906 381.583798 
L 272.470864 382.658808 
" style="fill: none; stroke: #000000; stroke-width: 0.830438; stroke-linecap: square"/>
    </g>
    <g id="text_66">
     <g transform="translate(0.5 0.05)" stroke="#000" stroke-width="0.15"><text style="font-size: 10.691886px; font-family: 'Liberation Sans', sans-serif; text-anchor: middle" x="289.294865" y="387.151017" transform="rotate(-0 289.294865 387.151017)">980</text></g>
    </g>
   </g>
   <g id="xtick_59">
    <g id="line2d_68">
     <path d="M 269.594918 355.228301 
L 273.70462 356.280771 
" style="fill: none; stroke: #000000; stroke-width: 0.830438; stroke-linecap: square"/>
    </g>
    <g id="text_67">
     <g transform="translate(0.5 0.05)" stroke="#000" stroke-width="0.15"><text style="font-size: 10.691886px; font-family: 'Liberation Sans', sans-serif; text-anchor: middle" x="290.68158" y="360.841326" transform="rotate(-0 290.68158 360.841326)">1000</text></g>
    </g>
   </g>
   <g id="text_68">
    <g transform="translate(1.8 0)" stroke="#000" stroke-width="0.15"><text style="font-size: 11.107105px; font-family: 'Liberation Sans', sans-serif; text-anchor: middle" x="313.306204" y="403.734255" transform="rotate(-87.378092 313.306204 403.734255)">Altitude</text></g>
   </g>
  </g>
  <g id="axes_3"/>
  <g id="patch_14">
   <path d="M 361.469 576.14 
L 644.529 576.14 
L 644.529 293.08 
L 361.469 293.08 
L 361.469 576.14 
z
" style="fill: none; opacity: 0"/>
  </g>
  <g id="pane3d_10">
   <g id="patch_15">
    <path d="M 382.841982 506.346475 
L 476.317638 427.993327 
L 475.018237 314.99408 
L 377.069289 386.472761 
" style="fill: #f2f2f2; opacity: 0.5; stroke: #f2f2f2; stroke-linejoin: miter"/>
   </g>
  </g>
  <g id="pane3d_11">
   <g id="patch_16">
    <path d="M 476.317638 427.993327 
L 626.312714 471.590974 
L 631.66551 354.699597 
L 475.018237 314.99408 
" style="fill: #e6e6e6; opacity: 0.5; stroke: #e6e6e6; stroke-linejoin: miter"/>
   </g>
  </g>
  <g id="pane3d_12">
   <g id="patch_17">
    <path d="M 382.841982 506.346475 
L 541.844089 558.276563 
L 626.312714 471.590974 
L 476.317638 427.993327 
" style="fill: #ececec; opacity: 0.5; stroke: #ececec; stroke-linejoin: miter"/>
   </g>
  </g>
  <g id="grid3d_10">
   <g id="Line3DCollection_10">
    <path d="M 396.618493 510.845884 
L 489.36625 431.786043 
L 488.619305 318.441554 
" style="fill: none; stroke: #b0b0b0; stroke-width: 0.796791"/>
    <path d="M 419.675244 518.376219 
L 511.182408 438.127139 
L 511.370274 324.208261 
" style="fill: none; stroke: #b0b0b0; stroke-width: 0.796791"/>
    <path d="M 443.095263 526.025197 
L 533.313675 444.559824 
L 534.464125 330.061879 
" style="fill: none; stroke: #b0b0b0; stroke-width: 0.796791"/>
    <path d="M 466.887203 533.795644 
L 555.766926 451.086098 
L 557.908669 336.004388 
" style="fill: none; stroke: #b0b0b0; stroke-width: 0.796791"/>
    <path d="M 491.059994 541.690478 
L 578.549241 457.708017 
L 581.711954 342.037827 
" style="fill: none; stroke: #b0b0b0; stroke-width: 0.796791"/>
    <path d="M 515.622854 549.712708 
L 601.667905 464.427701 
L 605.882279 348.164299 
" style="fill: none; stroke: #b0b0b0; stroke-width: 0.796791"/>
   </g>
  </g>
  <g id="grid3d_11">
   <g id="Line3DCollection_11">
    <path d="M 379.489719 384.706441 
L 385.143333 504.417437 
L 543.932663 556.133172 
" style="fill: none; stroke: #b0b0b0; stroke-width: 0.796791"/>
    <path d="M 396.486537 372.302937 
L 401.316102 490.861102 
L 558.597316 541.083631 
" style="fill: none; stroke: #b0b0b0; stroke-width: 0.796791"/>
    <path d="M 412.987135 360.261553 
L 417.037087 477.683461 
L 572.830826 526.476547 
" style="fill: none; stroke: #b0b0b0; stroke-width: 0.796791"/>
    <path d="M 429.012929 348.566658 
L 432.324956 464.868865 
L 586.651933 512.292692 
" style="fill: none; stroke: #b0b0b0; stroke-width: 0.796791"/>
    <path d="M 444.584124 337.203509 
L 447.197366 452.402516 
L 600.078303 498.513934 
" style="fill: none; stroke: #b0b0b0; stroke-width: 0.796791"/>
    <path d="M 459.719791 326.158189 
L 461.671026 440.270408 
L 613.126609 485.123162 
" style="fill: none; stroke: #b0b0b0; stroke-width: 0.796791"/>
   </g>
  </g>
  <g id="grid3d_12">
   <g id="Line3DCollection_12">
    <path d="M 626.417903 469.293935 
L 476.292051 425.768172 
L 382.72873 503.994721 
" style="fill: none; stroke: #b0b0b0; stroke-width: 0.796791"/>
    <path d="M 627.038955 455.731729 
L 476.14102 412.634151 
L 382.059912 490.106289 
" style="fill: none; stroke: #b0b0b0; stroke-width: 0.796791"/>
    <path d="M 627.666492 442.02793 
L 475.988488 399.369547 
L 381.383846 476.067342 
" style="fill: none; stroke: #b0b0b0; stroke-width: 0.796791"/>
    <path d="M 628.300615 428.180309 
L 475.834431 385.972401 
L 380.700414 461.875418 
" style="fill: none; stroke: #b0b0b0; stroke-width: 0.796791"/>
    <path d="M 628.941428 414.18659 
L 475.678828 372.440717 
L 380.009493 447.528004 
" style="fill: none; stroke: #b0b0b0; stroke-width: 0.796791"/>
    <path d="M 629.589038 400.044449 
L 475.521654 358.772458 
L 379.310961 433.022531 
" style="fill: none; stroke: #b0b0b0; stroke-width: 0.796791"/>
    <path d="M 630.243553 385.751512 
L 475.362885 344.965547 
L 378.604691 418.356371 
" style="fill: none; stroke: #b0b0b0; stroke-width: 0.796791"/>
    <path d="M 630.905084 371.305353 
L 475.202498 331.017862 
L 377.890553 403.526841 
" style="fill: none; stroke: #b0b0b0; stroke-width: 0.796791"/>
    <path d="M 631.573746 356.703496 
L 475.040467 316.92724 
L 377.168416 388.531195 
" style="fill: none; stroke: #b0b0b0; stroke-width: 0.796791"/>
   </g>
  </g>
  <g id="axis3d_10">
   <g id="line2d_69">
    <path d="M 382.841982 506.346475 
L 541.844089 558.276563 
" style="fill: none; stroke: #000000; stroke-width: 0.8; stroke-linecap: square"/>
   </g>
   <g id="xtick_60">
    <g id="line2d_70">
     <path d="M 397.426227 510.157356 
L 394.999552 512.225897 
" style="fill: none; stroke: #000000; stroke-width: 0.796791; stroke-linecap: square"/>
    </g>
    <g id="text_69">
     <g transform="translate(-0.1 1.5)" stroke="#000" stroke-width="0.15"><text style="font-size: 10.258684px; font-family: 'Liberation Sans', sans-serif; text-anchor: middle" x="389.125277" y="533.951031" transform="rotate(-0 389.125277 533.951031)">104.8</text></g>
    </g>
   </g>
   <g id="xtick_61">
    <g id="line2d_71">
     <path d="M 420.472681 517.67689 
L 418.076917 519.777905 
" style="fill: none; stroke: #000000; stroke-width: 0.796791; stroke-linecap: square"/>
    </g>
    <g id="text_70">
     <g transform="translate(-0.1 1.5)" stroke="#000" stroke-width="0.15"><text style="font-size: 10.258684px; font-family: 'Liberation Sans', sans-serif; text-anchor: middle" x="412.204233" y="541.630728" transform="rotate(-0 412.204233 541.630728)">105.0</text></g>
    </g>
   </g>
   <g id="xtick_62">
    <g id="line2d_72">
     <path d="M 443.881977 525.314811 
L 441.518402 527.44907 
" style="fill: none; stroke: #000000; stroke-width: 0.796791; stroke-linecap: square"/>
    </g>
    <g id="text_71">
     <g transform="translate(-0.1 1.5)" stroke="#000" stroke-width="0.15"><text style="font-size: 10.258684px; font-family: 'Liberation Sans', sans-serif; text-anchor: middle" x="435.648094" y="549.43185" transform="rotate(-0 435.648094 549.43185)">105.2</text></g>
    </g>
   </g>
   <g id="xtick_63">
    <g id="line2d_73">
     <path d="M 467.662751 533.073936 
L 465.332695 535.242236 
" style="fill: none; stroke: #000000; stroke-width: 0.796791; stroke-linecap: square"/>
    </g>
    <g id="text_72">
     <g transform="translate(-0.1 1.5)" stroke="#000" stroke-width="0.15"><text style="font-size: 10.258684px; font-family: 'Liberation Sans', sans-serif; text-anchor: middle" x="459.465581" y="557.3573" transform="rotate(-0 459.465581 557.3573)">105.4</text></g>
    </g>
   </g>
   <g id="xtick_64">
    <g id="line2d_74">
     <path d="M 491.823917 540.957175 
L 489.52876 543.160336 
" style="fill: none; stroke: #000000; stroke-width: 0.796791; stroke-linecap: square"/>
    </g>
    <g id="text_73">
     <g transform="translate(-0.1 1.5)" stroke="#000" stroke-width="0.15"><text style="font-size: 10.258684px; font-family: 'Liberation Sans', sans-serif; text-anchor: middle" x="483.665701" y="565.410072" transform="rotate(-0 483.665701 565.410072)">105.6</text></g>
    </g>
   </g>
   <g id="xtick_65">
    <g id="line2d_75">
     <path d="M 516.374674 548.967529 
L 514.115852 551.206398 
" style="fill: none; stroke: #000000; stroke-width: 0.796791; stroke-linecap: square"/>
    </g>
    <g id="text_74">
     <g transform="translate(-0.1 1.5)" stroke="#000" stroke-width="0.15"><text style="font-size: 10.258684px; font-family: 'Liberation Sans', sans-serif; text-anchor: middle" x="508.257746" y="573.593262" transform="rotate(-0 508.257746 573.593262)">105.8</text></g>
    </g>
   </g>
   <g id="text_75">
    <g transform="translate(-1.4 1.8)" stroke="#000" stroke-width="0.15"><text style="font-size: 10.65708px; font-family: 'Liberation Sans', sans-serif; text-anchor: middle" x="443.174028" y="569.358666" transform="rotate(-341.912962 443.174028 569.358666)">Longitude</text></g>
   </g>
  </g>
  <g id="axis3d_11">
   <g id="line2d_76">
    <path d="M 626.312714 471.590974 
L 541.844089 558.276563 
" style="fill: none; stroke: #000000; stroke-width: 0.8; stroke-linecap: square"/>
   </g>
   <g id="xtick_66">
    <g id="line2d_77">
     <path d="M 542.59428 555.697278 
L 546.612902 557.006093 
" style="fill: none; stroke: #000000; stroke-width: 0.796791; stroke-linecap: square"/>
    </g>
    <g id="text_76">
     <g transform="translate(0 1.3)" stroke="#000" stroke-width="0.15"><text style="font-size: 10.258684px; font-family: 'Liberation Sans', sans-serif; text-anchor: middle" x="556.808263" y="576.989931" transform="rotate(-0 556.808263 576.989931)">26.20</text></g>
    </g>
   </g>
   <g id="xtick_67">
    <g id="line2d_78">
     <path d="M 557.27265 540.660643 
L 561.250035 541.930688 
" style="fill: none; stroke: #000000; stroke-width: 0.796791; stroke-linecap: square"/>
    </g>
    <g id="text_77">
     <g transform="translate(0 1.3)" stroke="#000" stroke-width="0.15"><text style="font-size: 10.258684px; font-family: 'Liberation Sans', sans-serif; text-anchor: middle" x="571.288844" y="561.731681" transform="rotate(-0 571.288844 561.731681)">26.25</text></g>
    </g>
   </g>
   <g id="xtick_68">
    <g id="line2d_79">
     <path d="M 571.519656 526.065901 
L 575.456472 527.298874 
" style="fill: none; stroke: #000000; stroke-width: 0.796791; stroke-linecap: square"/>
    </g>
    <g id="text_78">
     <g transform="translate(0 1.3)" stroke="#000" stroke-width="0.15"><text style="font-size: 10.258684px; font-family: 'Liberation Sans', sans-serif; text-anchor: middle" x="585.343461" y="546.922271" transform="rotate(-0 585.343461 546.922271)">26.30</text></g>
    </g>
   </g>
   <g id="xtick_69">
    <g id="line2d_80">
     <path d="M 585.354036 511.893856 
L 589.250949 513.091355 
" style="fill: none; stroke: #000000; stroke-width: 0.796791; stroke-linecap: square"/>
    </g>
    <g id="text_79">
     <g transform="translate(0 1.3)" stroke="#000" stroke-width="0.15"><text style="font-size: 10.258684px; font-family: 'Liberation Sans', sans-serif; text-anchor: middle" x="598.990639" y="532.542181" transform="rotate(-0 598.990639 532.542181)">26.35</text></g>
    </g>
   </g>
   <g id="xtick_70">
    <g id="line2d_81">
     <path d="M 598.793462 498.126404 
L 602.651129 499.289941 
" style="fill: none; stroke: #000000; stroke-width: 0.796791; stroke-linecap: square"/>
    </g>
    <g id="text_80">
     <g transform="translate(0 1.3)" stroke="#000" stroke-width="0.15"><text style="font-size: 10.258684px; font-family: 'Liberation Sans', sans-serif; text-anchor: middle" x="612.24784" y="518.573011" transform="rotate(-0 612.24784 518.573011)">26.40</text></g>
    </g>
   </g>
   <g id="xtick_71">
    <g id="line2d_82">
     <path d="M 611.854609 484.746466 
L 615.673679 485.877463 
" style="fill: none; stroke: #000000; stroke-width: 0.796791; stroke-linecap: square"/>
    </g>
    <g id="text_81">
     <g transform="translate(0 1.3)" stroke="#000" stroke-width="0.15"><text style="font-size: 10.258684px; font-family: 'Liberation Sans', sans-serif; text-anchor: middle" x="625.131546" y="504.997395" transform="rotate(-0 625.131546 504.997395)">26.45</text></g>
    </g>
   </g>
   <g id="text_82">
    <g transform="translate(0.8 2)" stroke="#000" stroke-width="0.15"><text style="font-size: 10.65708px; font-family: 'Liberation Sans', sans-serif; text-anchor: middle" x="614.803069" y="542.813085" transform="rotate(-45.742112 614.803069 542.813085)">Latitude</text></g>
   </g>
  </g>
  <g id="axis3d_12">
   <g id="line2d_83">
    <path d="M 626.312714 471.590974 
L 631.66551 354.699597 
" style="fill: none; stroke: #000000; stroke-width: 0.8; stroke-linecap: square"/>
   </g>
   <g id="xtick_72">
    <g id="line2d_84">
     <path d="M 625.157881 468.928619 
L 628.940945 470.025437 
" style="fill: none; stroke: #000000; stroke-width: 0.796791; stroke-linecap: square"/>
    </g>
    <g id="text_83">
     <g transform="translate(0.7 0.9)" stroke="#000" stroke-width="0.15"><text style="font-size: 10.258684px; font-family: 'Liberation Sans', sans-serif; text-anchor: middle" x="644.612473" y="474.137409" transform="rotate(-0 644.612473 474.137409)">940.0</text></g>
    </g>
   </g>
   <g id="xtick_73">
    <g id="line2d_85">
     <path d="M 625.772146 455.369919 
L 629.575605 456.456215 
" style="fill: none; stroke: #000000; stroke-width: 0.796791; stroke-linecap: square"/>
    </g>
    <g id="text_84">
     <g transform="translate(0.7 0.9)" stroke="#000" stroke-width="0.15"><text style="font-size: 10.258684px; font-family: 'Liberation Sans', sans-serif; text-anchor: middle" x="645.32599" y="460.600099" transform="rotate(-0 645.32599 460.600099)">942.5</text></g>
    </g>
   </g>
   <g id="xtick_74">
    <g id="line2d_86">
     <path d="M 626.392821 441.669719 
L 630.216897 442.745214 
" style="fill: none; stroke: #000000; stroke-width: 0.796791; stroke-linecap: square"/>
    </g>
    <g id="text_85">
     <g transform="translate(0.7 0.9)" stroke="#000" stroke-width="0.15"><text style="font-size: 10.258684px; font-family: 'Liberation Sans', sans-serif; text-anchor: middle" x="646.046934" y="446.921858" transform="rotate(-0 646.046934 446.921858)">945.0</text></g>
    </g>
   </g>
   <g id="xtick_75">
    <g id="line2d_87">
     <path d="M 627.020008 427.825793 
L 630.864925 428.890199 
" style="fill: none; stroke: #000000; stroke-width: 0.796791; stroke-linecap: square"/>
    </g>
    <g id="text_86">
     <g transform="translate(0.7 0.9)" stroke="#000" stroke-width="0.15"><text style="font-size: 10.258684px; font-family: 'Liberation Sans', sans-serif; text-anchor: middle" x="646.775423" y="433.100472" transform="rotate(-0 646.775423 433.100472)">947.5</text></g>
    </g>
   </g>
   <g id="xtick_76">
    <g id="line2d_88">
     <path d="M 627.653809 413.835867 
L 631.519796 414.88889 
" style="fill: none; stroke: #000000; stroke-width: 0.796791; stroke-linecap: square"/>
    </g>
    <g id="text_87">
     <g transform="translate(0.7 0.9)" stroke="#000" stroke-width="0.15"><text style="font-size: 10.258684px; font-family: 'Liberation Sans', sans-serif; text-anchor: middle" x="647.511576" y="419.133684" transform="rotate(-0 647.511576 419.133684)">950.0</text></g>
    </g>
   </g>
   <g id="xtick_77">
    <g id="line2d_89">
     <path d="M 628.294329 399.697619 
L 632.181618 400.738956 
" style="fill: none; stroke: #000000; stroke-width: 0.796791; stroke-linecap: square"/>
    </g>
    <g id="text_88">
     <g transform="translate(0.7 0.9)" stroke="#000" stroke-width="0.15"><text style="font-size: 10.258684px; font-family: 'Liberation Sans', sans-serif; text-anchor: middle" x="648.255514" y="405.019187" transform="rotate(-0 648.255514 405.019187)">952.5</text></g>
    </g>
   </g>
   <g id="xtick_78">
    <g id="line2d_90">
     <path d="M 628.941677 385.408678 
L 632.850502 386.43802 
" style="fill: none; stroke: #000000; stroke-width: 0.796791; stroke-linecap: square"/>
    </g>
    <g id="text_89">
     <g transform="translate(0.7 0.9)" stroke="#000" stroke-width="0.15"><text style="font-size: 10.258684px; font-family: 'Liberation Sans', sans-serif; text-anchor: middle" x="649.007362" y="390.754624" transform="rotate(-0 649.007362 390.754624)">955.0</text></g>
    </g>
   </g>
   <g id="xtick_79">
    <g id="line2d_91">
     <path d="M 629.595961 370.966622 
L 633.526563 371.983651 
" style="fill: none; stroke: #000000; stroke-width: 0.796791; stroke-linecap: square"/>
    </g>
    <g id="text_90">
     <g transform="translate(0.7 0.9)" stroke="#000" stroke-width="0.15"><text style="font-size: 10.258684px; font-family: 'Liberation Sans', sans-serif; text-anchor: middle" x="649.767246" y="376.33759" transform="rotate(-0 649.767246 376.33759)">957.5</text></g>
    </g>
   </g>
   <g id="xtick_80">
    <g id="line2d_92">
     <path d="M 630.257294 356.368976 
L 634.209917 357.373367 
" style="fill: none; stroke: #000000; stroke-width: 0.796791; stroke-linecap: square"/>
    </g>
    <g id="text_91">
     <g transform="translate(0.7 0.9)" stroke="#000" stroke-width="0.15"><text style="font-size: 10.258684px; font-family: 'Liberation Sans', sans-serif; text-anchor: middle" x="650.535296" y="361.765628" transform="rotate(-0 650.535296 361.765628)">960.0</text></g>
    </g>
   </g>
   <g id="text_92">
    <g transform="translate(1.8 0)" stroke="#000" stroke-width="0.15"><text style="font-size: 10.65708px; font-family: 'Liberation Sans', sans-serif; text-anchor: middle" x="671.914284" y="409.161873" transform="rotate(-87.378092 671.914284 409.161873)">Altitude</text></g>
   </g>
  </g>
  <g id="axes_4"/>
  <g id="patch_18">
   <path d="M -1 896.1575 
L 296.5165 896.1575 
L 296.5165 590.8925 
L -1 590.8925 
" style="fill: none; opacity: 0"/>
  </g>
  <g id="pane3d_13">
   <g id="patch_19">
    <path d="M 14.301113 820.888934 
L 115.109585 736.389273 
L 113.708251 614.525657 
L 8.075573 691.611574 
" style="fill: #f2f2f2; opacity: 0.5; stroke: #f2f2f2; stroke-linejoin: miter"/>
   </g>
  </g>
  <g id="pane3d_14">
   <g id="patch_20">
    <path d="M 115.109585 736.389273 
L 276.871215 783.406993 
L 282.643917 657.345924 
L 113.708251 614.525657 
" style="fill: #e6e6e6; opacity: 0.5; stroke: #e6e6e6; stroke-linejoin: miter"/>
   </g>
  </g>
  <g id="pane3d_15">
   <g id="patch_21">
    <path d="M 14.301113 820.888934 
L 185.776341 876.892743 
L 276.871215 783.406993 
L 115.109585 736.389273 
" style="fill: #ececec; opacity: 0.5; stroke: #ececec; stroke-linejoin: miter"/>
   </g>
  </g>
  <g id="grid3d_13">
   <g id="Line3DCollection_13">
    <path d="M 30.283041 826.108632 
L 130.24665 740.78902 
L 129.486412 618.524961 
" style="fill: none; stroke: #b0b0b0; stroke-width: 0.859296"/>
    <path d="M 56.834856 834.780455 
L 155.367267 748.090592 
L 155.684706 625.165465 
" style="fill: none; stroke: #b0b0b0; stroke-width: 0.859296"/>
    <path d="M 83.833456 843.598197 
L 180.875352 755.504785 
L 182.304664 631.912849 
" style="fill: none; stroke: #b0b0b0; stroke-width: 0.859296"/>
    <path d="M 111.290211 852.565573 
L 206.779939 763.034226 
L 209.356549 638.769713 
" style="fill: none; stroke: #b0b0b0; stroke-width: 0.859296"/>
    <path d="M 139.216885 861.686425 
L 233.090345 770.681623 
L 236.850958 645.738744 
" style="fill: none; stroke: #b0b0b0; stroke-width: 0.859296"/>
    <path d="M 167.625645 870.964726 
L 259.816183 778.449768 
L 264.79884 652.822717 
" style="fill: none; stroke: #b0b0b0; stroke-width: 0.859296"/>
   </g>
  </g>
  <g id="grid3d_14">
   <g id="Line3DCollection_14">
    <path d="M 21.487814 681.823932 
L 27.05845 810.195481 
L 197.348949 865.016401 
" style="fill: none; stroke: #b0b0b0; stroke-width: 0.859296"/>
    <path d="M 42.519555 666.475925 
L 47.087989 793.406324 
L 215.492305 846.396854 
" style="fill: none; stroke: #b0b0b0; stroke-width: 0.859296"/>
    <path d="M 62.842204 651.645382 
L 66.470999 777.159101 
L 233.019711 828.409424 
" style="fill: none; stroke: #b0b0b0; stroke-width: 0.859296"/>
    <path d="M 82.491027 637.306565 
L 85.238286 761.427988 
L 249.96201 811.022457 
" style="fill: none; stroke: #b0b0b0; stroke-width: 0.859296"/>
    <path d="M 101.498991 623.435419 
L 103.418731 746.188779 
L 266.348019 794.206381 
" style="fill: none; stroke: #b0b0b0; stroke-width: 0.859296"/>
   </g>
  </g>
  <g id="grid3d_15">
   <g id="Line3DCollection_15">
    <path d="M 276.97037 781.241694 
L 115.085465 734.291725 
L 14.194356 818.672067 
" style="fill: none; stroke: #b0b0b0; stroke-width: 0.859296"/>
    <path d="M 277.792297 763.292922 
L 114.885594 716.910417 
L 13.309184 800.290891 
" style="fill: none; stroke: #b0b0b0; stroke-width: 0.859296"/>
    <path d="M 278.624767 745.113891 
L 114.683281 699.316785 
L 12.412223 781.664916 
" style="fill: none; stroke: #b0b0b0; stroke-width: 0.859296"/>
    <path d="M 279.467986 726.700142 
L 114.478482 681.506915 
L 11.503236 762.789219 
" style="fill: none; stroke: #b0b0b0; stroke-width: 0.859296"/>
    <path d="M 280.322163 708.0471 
L 114.27115 663.476796 
L 10.581981 743.658745 
" style="fill: none; stroke: #b0b0b0; stroke-width: 0.859296"/>
    <path d="M 281.187513 689.15007 
L 114.061238 645.222316 
L 9.648205 724.268299 
" style="fill: none; stroke: #b0b0b0; stroke-width: 0.859296"/>
    <path d="M 282.064257 670.004232 
L 113.848698 626.739263 
L 8.701654 704.612547 
" style="fill: none; stroke: #b0b0b0; stroke-width: 0.859296"/>
   </g>
  </g>
  <g id="axis3d_13">
   <g id="line2d_93">
    <path d="M 14.301113 820.888934 
L 185.776341 876.892743 
" style="fill: none; stroke: #000000; stroke-width: 0.8; stroke-linecap: square"/>
   </g>
   <g id="xtick_81">
    <g id="line2d_94">
     <path d="M 31.153643 825.365567 
L 28.538095 827.597955 
" style="fill: none; stroke: #000000; stroke-width: 0.859296; stroke-linecap: square"/>
    </g>
    <g id="text_93">
     <g transform="translate(0.1 1.4)" stroke="#000" stroke-width="0.15"><text style="font-size: 11.063439px; font-family: 'Liberation Sans', sans-serif; text-anchor: middle" x="22.203065" y="851.033568" transform="rotate(-0 22.203065 851.033568)">106.0</text></g>
    </g>
   </g>
   <g id="xtick_82">
    <g id="line2d_95">
     <path d="M 57.693576 834.024944 
L 55.113694 836.294751 
" style="fill: none; stroke: #000000; stroke-width: 0.859296; stroke-linecap: square"/>
    </g>
    <g id="text_94">
     <g transform="translate(0.1 1.4)" stroke="#000" stroke-width="0.15"><text style="font-size: 11.063439px; font-family: 'Liberation Sans', sans-serif; text-anchor: middle" x="48.780565" y="859.877432" transform="rotate(-0 48.780565 859.877432)">106.1</text></g>
    </g>
   </g>
   <g id="xtick_83">
    <g id="line2d_96">
     <path d="M 84.679769 842.829924 
L 82.137129 845.138101 
" style="fill: none; stroke: #000000; stroke-width: 0.859296; stroke-linecap: square"/>
    </g>
    <g id="text_95">
     <g transform="translate(0.1 1.4)" stroke="#000" stroke-width="0.15"><text style="font-size: 11.063439px; font-family: 'Liberation Sans', sans-serif; text-anchor: middle" x="75.806866" y="868.870638" transform="rotate(-0 75.806866 868.870638)">106.2</text></g>
    </g>
   </g>
   <g id="xtick_84">
    <g id="line2d_97">
     <path d="M 112.123572 851.784213 
L 109.619816 854.131739 
" style="fill: none; stroke: #000000; stroke-width: 0.859296; stroke-linecap: square"/>
    </g>
    <g id="text_96">
     <g transform="translate(0.1 1.4)" stroke="#000" stroke-width="0.15"><text style="font-size: 11.063439px; font-family: 'Liberation Sans', sans-serif; text-anchor: middle" x="103.293434" y="878.017002" transform="rotate(-0 103.293434 878.017002)">106.3</text></g>
    </g>
   </g>
   <g id="xtick_85">
    <g id="line2d_98">
     <path d="M 140.036724 860.891639 
L 137.573562 863.27953 
" style="fill: none; stroke: #000000; stroke-width: 0.859296; stroke-linecap: square"/>
    </g>
    <g id="text_97">
     <g transform="translate(0.1 1.4)" stroke="#000" stroke-width="0.15"><text style="font-size: 11.063439px; font-family: 'Liberation Sans', sans-serif; text-anchor: middle" x="131.252126" y="887.320468" transform="rotate(-0 131.252126 887.320468)">106.4</text></g>
    </g>
   </g>
   <g id="xtick_86">
    <g id="line2d_99">
     <path d="M 168.43137 870.156166 
L 166.010583 872.585471 
" style="fill: none; stroke: #000000; stroke-width: 0.859296; stroke-linecap: square"/>
    </g>
    <g id="text_98">
     <g transform="translate(0.1 1.4)" stroke="#000" stroke-width="0.15"><text style="font-size: 11.063439px; font-family: 'Liberation Sans', sans-serif; text-anchor: middle" x="159.695212" y="896.78512" transform="rotate(-0 159.695212 896.78512)">106.5</text></g>
    </g>
   </g>
   <g id="text_99">
    <g transform="translate(0 2.3)" stroke="#000" stroke-width="0.15"><text style="font-size: 11.493088px; font-family: 'Liberation Sans', sans-serif; text-anchor: middle" x="79.365983" y="888.844196" transform="rotate(-341.912962 79.365983 888.844196)">Longitude</text></g>
   </g>
  </g>
  <g id="axis3d_14">
   <g id="line2d_100">
    <path d="M 276.871215 783.406993 
L 185.776341 876.892743 
" style="fill: none; stroke: #000000; stroke-width: 0.8; stroke-linecap: square"/>
   </g>
   <g id="xtick_87">
    <g id="line2d_101">
     <path d="M 195.914268 864.55454 
L 200.222001 865.941311 
" style="fill: none; stroke: #000000; stroke-width: 0.859296; stroke-linecap: square"/>
    </g>
    <g id="text_100">
     <g transform="translate(0 1.2)" stroke="#000" stroke-width="0.15"><text style="font-size: 11.063439px; font-family: 'Liberation Sans', sans-serif; text-anchor: middle" x="211.117635" y="887.376615" transform="rotate(-0 211.117635 887.376615)">27.3</text></g>
    </g>
   </g>
   <g id="xtick_88">
    <g id="line2d_102">
     <path d="M 214.07475 845.950803 
L 218.330998 847.290085 
" style="fill: none; stroke: #000000; stroke-width: 0.859296; stroke-linecap: square"/>
    </g>
    <g id="text_101">
     <g transform="translate(0 1.2)" stroke="#000" stroke-width="0.15"><text style="font-size: 11.063439px; font-family: 'Liberation Sans', sans-serif; text-anchor: middle" x="229.033054" y="868.499061" transform="rotate(-0 229.033054 868.499061)">27.4</text></g>
    </g>
   </g>
   <g id="xtick_89">
    <g id="line2d_103">
     <path d="M 231.618956 827.978384 
L 235.824702 829.272575 
" style="fill: none; stroke: #000000; stroke-width: 0.859296; stroke-linecap: square"/>
    </g>
    <g id="text_102">
     <g transform="translate(0 1.2)" stroke="#000" stroke-width="0.15"><text style="font-size: 11.063439px; font-family: 'Liberation Sans', sans-serif; text-anchor: middle" x="246.339934" y="850.262728" transform="rotate(-0 246.339934 850.262728)">27.5</text></g>
    </g>
   </g>
   <g id="xtick_90">
    <g id="line2d_104">
     <path d="M 248.577732 810.605683 
L 252.733948 811.857023 
" style="fill: none; stroke: #000000; stroke-width: 0.859296; stroke-linecap: square"/>
    </g>
    <g id="text_103">
     <g transform="translate(0 1.2)" stroke="#000" stroke-width="0.15"><text style="font-size: 11.063439px; font-family: 'Liberation Sans', sans-serif; text-anchor: middle" x="263.068762" y="832.63549" transform="rotate(-0 263.068762 832.63549)">27.6</text></g>
    </g>
   </g>
   <g id="xtick_91">
    <g id="line2d_105">
     <path d="M 264.9799 793.803176 
L 269.087545 795.013758 
" style="fill: none; stroke: #000000; stroke-width: 0.859296; stroke-linecap: square"/>
    </g>
    <g id="text_104">
     <g transform="translate(0 1.2)" stroke="#000" stroke-width="0.15"><text style="font-size: 11.063439px; font-family: 'Liberation Sans', sans-serif; text-anchor: middle" x="279.248024" y="815.587333" transform="rotate(-0 279.248024 815.587333)">27.7</text></g>
    </g>
   </g>
   <g id="text_105">
    <g transform="translate(0.8 2)" stroke="#000" stroke-width="0.15"><text style="font-size: 11.493088px; font-family: 'Liberation Sans', sans-serif; text-anchor: middle" x="264.458681" y="860.216213" transform="rotate(-45.742112 264.458681 860.216213)">Latitude</text></g>
   </g>
  </g>
  <g id="axis3d_15">
   <g id="line2d_106">
    <path d="M 276.871215 783.406993 
L 282.643917 657.345924 
" style="fill: none; stroke: #000000; stroke-width: 0.8; stroke-linecap: square"/>
   </g>
   <g id="xtick_92">
    <g id="line2d_107">
     <path d="M 275.611661 780.84764 
L 279.691023 782.03074 
" style="fill: none; stroke: #000000; stroke-width: 0.859296; stroke-linecap: square"/>
    </g>
    <g id="text_106">
     <g transform="translate(0.5 0.3)" stroke="#000" stroke-width="0.15"><text style="font-size: 11.063439px; font-family: 'Liberation Sans', sans-serif; text-anchor: middle" x="296.59011" y="786.464553" transform="rotate(-0 296.59011 786.464553)">970</text></g>
    </g>
   </g>
   <g id="xtick_93">
    <g id="line2d_108">
     <path d="M 276.424603 762.903515 
L 280.530959 764.072669 
" style="fill: none; stroke: #000000; stroke-width: 0.859296; stroke-linecap: square"/>
    </g>
    <g id="text_107">
     <g transform="translate(0.5 0.3)" stroke="#000" stroke-width="0.15"><text style="font-size: 11.063439px; font-family: 'Liberation Sans', sans-serif; text-anchor: middle" x="297.534404" y="768.548777" transform="rotate(-0 297.534404 768.548777)">972</text></g>
    </g>
   </g>
   <g id="xtick_94">
    <g id="line2d_109">
     <path d="M 277.247971 744.729282 
L 281.381679 745.884035 
" style="fill: none; stroke: #000000; stroke-width: 0.859296; stroke-linecap: square"/>
    </g>
    <g id="text_108">
     <g transform="translate(0.5 0.3)" stroke="#000" stroke-width="0.15"><text style="font-size: 11.063439px; font-family: 'Liberation Sans', sans-serif; text-anchor: middle" x="298.490777" y="750.403821" transform="rotate(-0 298.490777 750.403821)">974</text></g>
    </g>
   </g>
   <g id="xtick_95">
    <g id="line2d_110">
     <path d="M 278.081965 726.320489 
L 282.243393 727.46037 
" style="fill: none; stroke: #000000; stroke-width: 0.859296; stroke-linecap: square"/>
    </g>
    <g id="text_109">
     <g transform="translate(0.5 0.3)" stroke="#000" stroke-width="0.15"><text style="font-size: 11.063439px; font-family: 'Liberation Sans', sans-serif; text-anchor: middle" x="299.459463" y="732.025257" transform="rotate(-0 299.459463 732.025257)">976</text></g>
    </g>
   </g>
   <g id="xtick_96">
    <g id="line2d_111">
     <path d="M 278.926792 707.672564 
L 283.116313 708.797087 
" style="fill: none; stroke: #000000; stroke-width: 0.859296; stroke-linecap: square"/>
    </g>
    <g id="text_110">
     <g transform="translate(0.5 0.3)" stroke="#000" stroke-width="0.15"><text style="font-size: 11.063439px; font-family: 'Liberation Sans', sans-serif; text-anchor: middle" x="300.440701" y="713.408546" transform="rotate(-0 300.440701 713.408546)">978</text></g>
    </g>
   </g>
   <g id="xtick_97">
    <g id="line2d_112">
     <path d="M 279.782666 688.780817 
L 284.000661 689.889482 
" style="fill: none; stroke: #000000; stroke-width: 0.859296; stroke-linecap: square"/>
    </g>
    <g id="text_111">
     <g transform="translate(0.5 0.3)" stroke="#000" stroke-width="0.15"><text style="font-size: 11.063439px; font-family: 'Liberation Sans', sans-serif; text-anchor: middle" x="301.434737" y="694.549029" transform="rotate(-0 301.434737 694.549029)">980</text></g>
    </g>
   </g>
   <g id="xtick_98">
    <g id="line2d_113">
     <path d="M 280.649803 669.640436 
L 284.896663 670.732726 
" style="fill: none; stroke: #000000; stroke-width: 0.859296; stroke-linecap: square"/>
    </g>
    <g id="text_112">
     <g transform="translate(0.5 0.3)" stroke="#000" stroke-width="0.15"><text style="font-size: 11.063439px; font-family: 'Liberation Sans', sans-serif; text-anchor: middle" x="302.441823" y="675.441923" transform="rotate(-0 302.441823 675.441923)">982</text></g>
    </g>
   </g>
   <g id="text_113">
    <g transform="translate(2.8 0)" stroke="#000" stroke-width="0.15"><text style="font-size: 11.493088px; font-family: 'Liberation Sans', sans-serif; text-anchor: middle" x="326.050057" y="716.080563" transform="rotate(-87.378092 326.050057 716.080563)">Altitude</text></g>
   </g>
  </g>
  <g id="axes_5"/>
  <g id="patch_22">
   <path d="M 360.237 891.797 
L 653.107 891.797 
L 653.107 598.927 
L 360.237 598.927 
L 360.237 891.797 
z
" style="fill: none; opacity: 0"/>
  </g>
  <g id="pane3d_16">
   <g id="patch_23">
    <path d="M 382.350705 819.584644 
L 479.065943 738.516013 
L 477.721509 621.600555 
L 376.377947 695.55647 
" style="fill: #f2f2f2; opacity: 0.5; stroke: #f2f2f2; stroke-linejoin: miter"/>
   </g>
  </g>
  <g id="pane3d_17">
   <g id="patch_24">
    <path d="M 479.065943 738.516013 
L 634.259393 783.624622 
L 639.7977 662.682145 
L 477.721509 621.600555 
" style="fill: #e6e6e6; opacity: 0.5; stroke: #e6e6e6; stroke-linejoin: miter"/>
   </g>
  </g>
  <g id="pane3d_18">
   <g id="patch_25">
    <path d="M 382.350705 819.584644 
L 546.863342 873.314471 
L 634.259393 783.624622 
L 479.065943 738.516013 
" style="fill: #ececec; opacity: 0.5; stroke: #ececec; stroke-linejoin: miter"/>
   </g>
  </g>
  <g id="grid3d_16">
   <g id="Line3DCollection_16">
    <path d="M 411.827259 829.211686 
L 506.973646 746.62768 
L 506.816473 628.97528 
" style="fill: none; stroke: #b0b0b0; stroke-width: 0.824405"/>
    <path d="M 439.897285 838.379357 
L 533.508611 754.340347 
L 534.50078 635.992445 
" style="fill: none; stroke: #b0b0b0; stroke-width: 0.824405"/>
    <path d="M 468.485806 847.716368 
L 560.492626 762.183535 
L 562.674085 643.133557 
" style="fill: none; stroke: #b0b0b0; stroke-width: 0.824405"/>
    <path d="M 497.60732 857.227454 
L 587.937187 770.160585 
L 591.349457 650.401928 
" style="fill: none; stroke: #b0b0b0; stroke-width: 0.824405"/>
    <path d="M 527.276873 866.91753 
L 615.854187 778.274955 
L 620.54044 657.800991 
" style="fill: none; stroke: #b0b0b0; stroke-width: 0.824405"/>
   </g>
  </g>
  <g id="grid3d_17">
   <g id="Line3DCollection_17">
    <path d="M 388.355065 686.816115 
L 393.742615 810.035719 
L 557.197726 862.70885 
" style="fill: none; stroke: #b0b0b0; stroke-width: 0.824405"/>
    <path d="M 406.593983 673.506184 
L 411.109995 795.478036 
L 572.932166 846.561444 
" style="fill: none; stroke: #b0b0b0; stroke-width: 0.824405"/>
    <path d="M 424.27657 660.602237 
L 427.970288 781.345404 
L 588.183327 830.91 
" style="fill: none; stroke: #b0b0b0; stroke-width: 0.824405"/>
    <path d="M 441.427898 648.085979 
L 444.345384 767.619474 
L 602.973139 815.732015 
" style="fill: none; stroke: #b0b0b0; stroke-width: 0.824405"/>
    <path d="M 458.071555 635.940197 
L 460.255929 754.28294 
L 617.322222 801.006326 
" style="fill: none; stroke: #b0b0b0; stroke-width: 0.824405"/>
    <path d="M 474.229752 624.14868 
L 475.721415 741.319463 
L 631.249989 786.713011 
" style="fill: none; stroke: #b0b0b0; stroke-width: 0.824405"/>
   </g>
  </g>
  <g id="grid3d_18">
   <g id="Line3DCollection_18">
    <path d="M 634.914343 769.322187 
L 478.906657 724.664049 
L 381.645427 804.939092 
" style="fill: none; stroke: #b0b0b0; stroke-width: 0.824405"/>
    <path d="M 635.566385 755.083271 
L 478.748157 710.880478 
L 380.943002 790.352785 
" style="fill: none; stroke: #b0b0b0; stroke-width: 0.824405"/>
    <path d="M 636.225304 740.694163 
L 478.588065 696.95848 
L 380.232885 775.606739 
" style="fill: none; stroke: #b0b0b0; stroke-width: 0.824405"/>
    <path d="M 636.89121 726.152474 
L 478.426357 682.895958 
L 379.514948 760.698316 
" style="fill: none; stroke: #b0b0b0; stroke-width: 0.824405"/>
    <path d="M 637.564215 711.455762 
L 478.263009 668.690776 
L 378.789062 745.624819 
" style="fill: none; stroke: #b0b0b0; stroke-width: 0.824405"/>
    <path d="M 638.244433 696.601537 
L 478.097995 654.340749 
L 378.055093 730.383491 
" style="fill: none; stroke: #b0b0b0; stroke-width: 0.824405"/>
    <path d="M 638.931981 681.587253 
L 477.93129 639.843653 
L 377.312907 714.971514 
" style="fill: none; stroke: #b0b0b0; stroke-width: 0.824405"/>
    <path d="M 639.626977 666.410307 
L 477.762868 625.197214 
L 376.562364 699.386004 
" style="fill: none; stroke: #b0b0b0; stroke-width: 0.824405"/>
   </g>
  </g>
  <g id="axis3d_16">
   <g id="line2d_114">
    <path d="M 382.350705 819.584644 
L 546.863342 873.314471 
" style="fill: none; stroke: #000000; stroke-width: 0.8; stroke-linecap: square"/>
   </g>
   <g id="xtick_99">
    <g id="line2d_115">
     <path d="M 412.656219 828.492175 
L 410.165758 830.653815 
" style="fill: none; stroke: #000000; stroke-width: 0.824405; stroke-linecap: square"/>
    </g>
    <g id="text_114">
     <g transform="translate(0.5 1.3)" stroke="#000" stroke-width="0.15"><text style="font-size: 10.614219px; font-family: 'Liberation Sans', sans-serif; text-anchor: middle" x="404.088861" y="853.21615" transform="rotate(-0 404.088861 853.21615)">106.9</text></g>
    </g>
   </g>
   <g id="xtick_100">
    <g id="line2d_116">
     <path d="M 440.713481 837.646622 
L 438.261336 839.848021 
" style="fill: none; stroke: #000000; stroke-width: 0.824405; stroke-linecap: square"/>
    </g>
    <g id="text_115">
     <g transform="translate(0.5 1.3)" stroke="#000" stroke-width="0.15"><text style="font-size: 10.614219px; font-family: 'Liberation Sans', sans-serif; text-anchor: middle" x="432.187032" y="862.566029" transform="rotate(-0 432.187032 862.566029)">107.0</text></g>
    </g>
   </g>
   <g id="xtick_101">
    <g id="line2d_117">
     <path d="M 469.288622 846.97004 
L 466.876641 849.212305 
" style="fill: none; stroke: #000000; stroke-width: 0.824405; stroke-linecap: square"/>
    </g>
    <g id="text_116">
     <g transform="translate(0.5 1.3)" stroke="#000" stroke-width="0.15"><text style="font-size: 10.614219px; font-family: 'Liberation Sans', sans-serif; text-anchor: middle" x="460.806067" y="872.08923" transform="rotate(-0 460.806067 872.08923)">107.1</text></g>
    </g>
   </g>
   <g id="xtick_102">
    <g id="line2d_118">
     <path d="M 498.396114 856.467153 
L 496.026228 858.751432 
" style="fill: none; stroke: #000000; stroke-width: 0.824405; stroke-linecap: square"/>
    </g>
    <g id="text_117">
     <g transform="translate(0.5 1.3)" stroke="#000" stroke-width="0.15"><text style="font-size: 10.614219px; font-family: 'Liberation Sans', sans-serif; text-anchor: middle" x="489.960586" y="881.790617" transform="rotate(-0 489.960586 881.790617)">107.2</text></g>
    </g>
   </g>
   <g id="xtick_103">
    <g id="line2d_119">
     <path d="M 528.050974 866.142859 
L 525.725202 868.470344 
" style="fill: none; stroke: #000000; stroke-width: 0.824405; stroke-linecap: square"/>
    </g>
    <g id="text_118">
     <g transform="translate(0.5 1.3)" stroke="#000" stroke-width="0.15"><text style="font-size: 10.614219px; font-family: 'Liberation Sans', sans-serif; text-anchor: middle" x="519.66576" y="891.675238" transform="rotate(-0 519.66576 891.675238)">107.3</text></g>
    </g>
   </g>
   <g id="text_119">
    <g transform="translate(-1.2 1.8)" stroke="#000" stroke-width="0.15"><text style="font-size: 11.026422px; font-family: 'Liberation Sans', sans-serif; text-anchor: middle" x="444.773677" y="884.780645" transform="rotate(-341.912962 444.773677 884.780645)">Longitude</text></g>
   </g>
  </g>
  <g id="axis3d_17">
   <g id="line2d_120">
    <path d="M 634.259393 783.624622 
L 546.863342 873.314471 
" style="fill: none; stroke: #000000; stroke-width: 0.8; stroke-linecap: square"/>
   </g>
   <g id="xtick_104">
    <g id="line2d_121">
     <path d="M 555.82058 862.265067 
L 559.955564 863.597559 
" style="fill: none; stroke: #000000; stroke-width: 0.824405; stroke-linecap: square"/>
    </g>
    <g id="text_120">
     <g transform="translate(0 1.4)" stroke="#000" stroke-width="0.15"><text style="font-size: 10.614219px; font-family: 'Liberation Sans', sans-serif; text-anchor: middle" x="570.416992" y="884.172083" transform="rotate(-0 570.416992 884.172083)">25.7</text></g>
    </g>
   </g>
   <g id="xtick_105">
    <g id="line2d_122">
     <path d="M 571.569851 846.131393 
L 575.66025 847.422635 
" style="fill: none; stroke: #000000; stroke-width: 0.824405; stroke-linecap: square"/>
    </g>
    <g id="text_121">
     <g transform="translate(0 1.4)" stroke="#000" stroke-width="0.15"><text style="font-size: 10.614219px; font-family: 'Liberation Sans', sans-serif; text-anchor: middle" x="585.953787" y="867.800896" transform="rotate(-0 585.953787 867.800896)">25.8</text></g>
    </g>
   </g>
   <g id="xtick_106">
    <g id="line2d_123">
     <path d="M 586.835588 830.493055 
L 590.88217 831.744933 
" style="fill: none; stroke: #000000; stroke-width: 0.824405; stroke-linecap: square"/>
    </g>
    <g id="text_122">
     <g transform="translate(0 1.4)" stroke="#000" stroke-width="0.15"><text style="font-size: 10.614219px; font-family: 'Liberation Sans', sans-serif; text-anchor: middle" x="601.013115" y="851.932818" transform="rotate(-0 601.013115 851.932818)">25.9</text></g>
    </g>
   </g>
   <g id="xtick_107">
    <g id="line2d_124">
     <path d="M 601.639724 815.327584 
L 605.643247 816.541872 
" style="fill: none; stroke: #000000; stroke-width: 0.824405; stroke-linecap: square"/>
    </g>
    <g id="text_123">
     <g transform="translate(0 1.4)" stroke="#000" stroke-width="0.15"><text style="font-size: 10.614219px; font-family: 'Liberation Sans', sans-serif; text-anchor: middle" x="615.616654" y="836.545007" transform="rotate(-0 615.616654 836.545007)">26.0</text></g>
    </g>
   </g>
   <g id="xtick_108">
    <g id="line2d_125">
     <path d="M 616.002883 800.613855 
L 619.964097 801.792219 
" style="fill: none; stroke: #000000; stroke-width: 0.824405; stroke-linecap: square"/>
    </g>
    <g id="text_124">
     <g transform="translate(0 1.4)" stroke="#000" stroke-width="0.15"><text style="font-size: 10.614219px; font-family: 'Liberation Sans', sans-serif; text-anchor: middle" x="629.784786" y="821.615985" transform="rotate(-0 629.784786 821.615985)">26.1</text></g>
    </g>
   </g>
   <g id="xtick_109">
    <g id="line2d_126">
     <path d="M 629.944478 786.331977 
L 633.864124 787.475989 
" style="fill: none; stroke: #000000; stroke-width: 0.824405; stroke-linecap: square"/>
    </g>
    <g id="text_125">
     <g transform="translate(0 1.4)" stroke="#000" stroke-width="0.15"><text style="font-size: 10.614219px; font-family: 'Liberation Sans', sans-serif; text-anchor: middle" x="643.5367" y="807.125535" transform="rotate(-0 643.5367 807.125535)">26.2</text></g>
    </g>
   </g>
   <g id="text_126">
    <g transform="translate(0.8 2)" stroke="#000" stroke-width="0.15"><text style="font-size: 11.026422px; font-family: 'Liberation Sans', sans-serif; text-anchor: middle" x="622.350859" y="857.315075" transform="rotate(-45.742112 622.350859 857.315075)">Latitude</text></g>
   </g>
  </g>
  <g id="axis3d_18">
   <g id="line2d_127">
    <path d="M 634.259393 783.624622 
L 639.7977 662.682145 
" style="fill: none; stroke: #000000; stroke-width: 0.8; stroke-linecap: square"/>
   </g>
   <g id="xtick_110">
    <g id="line2d_128">
     <path d="M 633.604685 768.947289 
L 637.536792 770.072878 
" style="fill: none; stroke: #000000; stroke-width: 0.824405; stroke-linecap: square"/>
    </g>
    <g id="text_127">
     <g transform="translate(1.2 0.8)" stroke="#000" stroke-width="0.15"><text style="font-size: 10.614219px; font-family: 'Liberation Sans', sans-serif; text-anchor: middle" x="653.820791" y="774.355387" transform="rotate(-0 653.820791 774.355387)">925</text></g>
    </g>
   </g>
   <g id="xtick_111">
    <g id="line2d_129">
     <path d="M 634.249597 754.712105 
L 638.203125 755.826497 
" style="fill: none; stroke: #000000; stroke-width: 0.824405; stroke-linecap: square"/>
    </g>
    <g id="text_128">
     <g transform="translate(1.2 0.8)" stroke="#000" stroke-width="0.15"><text style="font-size: 10.614219px; font-family: 'Liberation Sans', sans-serif; text-anchor: middle" x="654.56989" y="760.142966" transform="rotate(-0 654.56989 760.142966)">950</text></g>
    </g>
   </g>
   <g id="xtick_112">
    <g id="line2d_130">
     <path d="M 634.901309 740.326827 
L 638.876492 741.429723 
" style="fill: none; stroke: #000000; stroke-width: 0.824405; stroke-linecap: square"/>
    </g>
    <g id="text_129">
     <g transform="translate(1.2 0.8)" stroke="#000" stroke-width="0.15"><text style="font-size: 10.614219px; font-family: 'Liberation Sans', sans-serif; text-anchor: middle" x="655.326869" y="745.781059" transform="rotate(-0 655.326869 745.781059)">975</text></g>
    </g>
   </g>
   <g id="xtick_113">
    <g id="line2d_131">
     <path d="M 635.559929 725.789071 
L 639.557006 726.880162 
" style="fill: none; stroke: #000000; stroke-width: 0.824405; stroke-linecap: square"/>
    </g>
    <g id="text_130">
     <g transform="translate(1.2 0.8)" stroke="#000" stroke-width="0.15"><text style="font-size: 10.614219px; font-family: 'Liberation Sans', sans-serif; text-anchor: middle" x="656.091852" y="731.267296" transform="rotate(-0 656.091852 731.267296)">1000</text></g>
    </g>
   </g>
   <g id="xtick_114">
    <g id="line2d_132">
     <path d="M 636.225567 711.096398 
L 640.244779 712.17537 
" style="fill: none; stroke: #000000; stroke-width: 0.824405; stroke-linecap: square"/>
    </g>
    <g id="text_131">
     <g transform="translate(1.2 0.8)" stroke="#000" stroke-width="0.15"><text style="font-size: 10.614219px; font-family: 'Liberation Sans', sans-serif; text-anchor: middle" x="656.864966" y="716.599254" transform="rotate(-0 656.864966 716.599254)">1025</text></g>
    </g>
   </g>
   <g id="xtick_115">
    <g id="line2d_133">
     <path d="M 636.898337 696.246318 
L 640.93993 697.312848 
" style="fill: none; stroke: #000000; stroke-width: 0.824405; stroke-linecap: square"/>
    </g>
    <g id="text_132">
     <g transform="translate(1.2 0.8)" stroke="#000" stroke-width="0.15"><text style="font-size: 10.614219px; font-family: 'Liberation Sans', sans-serif; text-anchor: middle" x="657.646342" y="701.774462" transform="rotate(-0 657.646342 701.774462)">1050</text></g>
    </g>
   </g>
   <g id="xtick_116">
    <g id="line2d_134">
     <path d="M 637.578353 681.236289 
L 641.642578 682.290045 
" style="fill: none; stroke: #000000; stroke-width: 0.824405; stroke-linecap: square"/>
    </g>
    <g id="text_133">
     <g transform="translate(1.2 0.8)" stroke="#000" stroke-width="0.15"><text style="font-size: 10.614219px; font-family: 'Liberation Sans', sans-serif; text-anchor: middle" x="658.436113" y="686.790393" transform="rotate(-0 658.436113 686.790393)">1075</text></g>
    </g>
   </g>
   <g id="xtick_117">
    <g id="line2d_135">
     <path d="M 638.265732 666.063713 
L 642.352845 667.104355 
" style="fill: none; stroke: #000000; stroke-width: 0.824405; stroke-linecap: square"/>
    </g>
    <g id="text_134">
     <g transform="translate(1.2 0.8)" stroke="#000" stroke-width="0.15"><text style="font-size: 10.614219px; font-family: 'Liberation Sans', sans-serif; text-anchor: middle" x="659.234415" y="671.644465" transform="rotate(-0 659.234415 671.644465)">1100</text></g>
    </g>
   </g>
   <g id="text_135">
    <g transform="translate(2.6 -0.8)" stroke="#000" stroke-width="0.15"><text style="font-size: 11.026422px; font-family: 'Liberation Sans', sans-serif; text-anchor: middle" x="681.441375" y="719.031918" transform="rotate(-87.378092 681.441375 719.031918)">Altitude</text></g>
   </g>
  </g>
  <g id="axes_6"/>
 </g>
<g><path d="M119.7 33.4 L117.4 35.9 L115 38 L112.7 39.8 L110.1 41.8 L107.4 43.9 L104.8 45.6 L102.4 48 L100.8 50.9 L100.1 54.1 L100.1 56.7 L100.8 59.5" fill="none" stroke="#4169e1" stroke-width="2.0" stroke-linejoin="round" stroke-linecap="round"/><circle cx="119.7" cy="33.4" r="2.3" fill="#1e90ff"/><circle cx="117.4" cy="35.9" r="2.3" fill="#1e90ff"/><circle cx="115" cy="38" r="2.3" fill="#1e90ff"/><circle cx="112.7" cy="39.8" r="2.3" fill="#1e90ff"/><circle cx="110.1" cy="41.8" r="2.3" fill="#1e90ff"/><circle cx="107.4" cy="43.9" r="2.3" fill="#1e90ff"/><circle cx="104.8" cy="45.6" r="2.3" fill="#1e90ff"/><circle cx="102.4" cy="48" r="2.3" fill="#1e90ff"/><circle cx="100.8" cy="50.9" r="2.3" fill="#1e90ff"/><circle cx="100.1" cy="54.1" r="2.3" fill="#1e90ff"/><circle cx="100.1" cy="56.7" r="2.3" fill="#1e90ff"/><circle cx="100.8" cy="59.5" r="2.3" fill="#1e90ff"/><path d="M101.3 62.2 L103.5 68 L107.5 80 L112 92 L116.9 112.3 L121.9 133 L127.2 152.4 L131.6 173.3 L136.6 192 L141 199 L146.4 204 L151.1 209.1 L156.5 214.2 L161.2 220 L166.3 225 L171.3 230.5" fill="none" stroke="#9370db" stroke-width="1.6" stroke-linejoin="round" stroke-linecap="butt" stroke-dasharray="5.6,2.4"/><path d="M101.3 59.4 L102.1 61.1 L104 61.3 L102.6 62.6 L102.9 64.5 L101.3 63.6 L99.7 64.5 L100 62.6 L98.6 61.3 L100.5 61.1 Z" fill="#8a2be2" stroke="#8a2be2" stroke-width="0.5"/><path d="M103.5 65.2 L104.3 66.9 L106.2 67.1 L104.8 68.4 L105.1 70.3 L103.5 69.4 L101.9 70.3 L102.2 68.4 L100.8 67.1 L102.7 66.9 Z" fill="#8a2be2" stroke="#8a2be2" stroke-width="0.5"/><path d="M107.5 77.2 L108.3 78.9 L110.2 79.1 L108.8 80.4 L109.1 82.3 L107.5 81.4 L105.9 82.3 L106.2 80.4 L104.8 79.1 L106.7 78.9 Z" fill="#8a2be2" stroke="#8a2be2" stroke-width="0.5"/><path d="M112 89.2 L112.8 90.9 L114.7 91.1 L113.3 92.4 L113.6 94.3 L112 93.4 L110.4 94.3 L110.7 92.4 L109.3 91.1 L111.2 90.9 Z" fill="#8a2be2" stroke="#8a2be2" stroke-width="0.5"/><path d="M116.9 109.5 L117.7 111.2 L119.6 111.4 L118.2 112.7 L118.5 114.6 L116.9 113.7 L115.3 114.6 L115.6 112.7 L114.2 111.4 L116.1 111.2 Z" fill="#8a2be2" stroke="#8a2be2" stroke-width="0.5"/><path d="M121.9 130.2 L122.7 131.9 L124.6 132.1 L123.2 133.4 L123.5 135.3 L121.9 134.4 L120.3 135.3 L120.6 133.4 L119.2 132.1 L121.1 131.9 Z" fill="#8a2be2" stroke="#8a2be2" stroke-width="0.5"/><path d="M127.2 149.6 L128 151.3 L129.9 151.5 L128.5 152.8 L128.8 154.7 L127.2 153.8 L125.6 154.7 L125.9 152.8 L124.5 151.5 L126.4 151.3 Z" fill="#8a2be2" stroke="#8a2be2" stroke-width="0.5"/><path d="M131.6 170.5 L132.4 172.2 L134.3 172.4 L132.9 173.7 L133.2 175.6 L131.6 174.7 L130 175.6 L130.3 173.7 L128.9 172.4 L130.8 172.2 Z" fill="#8a2be2" stroke="#8a2be2" stroke-width="0.5"/><path d="M136.6 189.2 L137.4 190.9 L139.3 191.1 L137.9 192.4 L138.2 194.3 L136.6 193.4 L135 194.3 L135.3 192.4 L133.9 191.1 L135.8 190.9 Z" fill="#8a2be2" stroke="#8a2be2" stroke-width="0.5"/><path d="M141 196.2 L141.8 197.9 L143.7 198.1 L142.3 199.4 L142.6 201.3 L141 200.4 L139.4 201.3 L139.7 199.4 L138.3 198.1 L140.2 197.9 Z" fill="#8a2be2" stroke="#8a2be2" stroke-width="0.5"/><path d="M146.4 201.2 L147.2 202.9 L149.1 203.1 L147.7 204.4 L148 206.3 L146.4 205.4 L144.8 206.3 L145.1 204.4 L143.7 203.1 L145.6 202.9 Z" fill="#8a2be2" stroke="#8a2be2" stroke-width="0.5"/><path d="M151.1 206.3 L151.9 208 L153.8 208.2 L152.4 209.5 L152.7 211.4 L151.1 210.5 L149.5 211.4 L149.8 209.5 L148.4 208.2 L150.3 208 Z" fill="#8a2be2" stroke="#8a2be2" stroke-width="0.5"/><path d="M156.5 211.4 L157.3 213.1 L159.2 213.3 L157.8 214.6 L158.1 216.5 L156.5 215.6 L154.9 216.5 L155.2 214.6 L153.8 213.3 L155.7 213.1 Z" fill="#8a2be2" stroke="#8a2be2" stroke-width="0.5"/><path d="M161.2 217.2 L162 218.9 L163.9 219.1 L162.5 220.4 L162.8 222.3 L161.2 221.4 L159.6 222.3 L159.9 220.4 L158.5 219.1 L160.4 218.9 Z" fill="#8a2be2" stroke="#8a2be2" stroke-width="0.5"/><path d="M166.3 222.2 L167.1 223.9 L169 224.1 L167.6 225.4 L167.9 227.3 L166.3 226.4 L164.7 227.3 L165 225.4 L163.6 224.1 L165.5 223.9 Z" fill="#8a2be2" stroke="#8a2be2" stroke-width="0.5"/><path d="M171.3 227.7 L172.1 229.4 L174 229.6 L172.6 230.9 L172.9 232.8 L171.3 231.9 L169.7 232.8 L170 230.9 L168.6 229.6 L170.5 229.4 Z" fill="#8a2be2" stroke="#8a2be2" stroke-width="0.5"/><path d="M101.3 62.2 L101.9 66.7 L106.9 71.1 L112.5 71.7 L116.5 70.8 L120.3 68.9 L124.2 66.1 L129.2 60.6 L133 56 L136.5 53 L140.7 49.7 L146 47.1 L151.2 45.6 L157.2 44 L164.2 44 L171.2 45.7 L177.1 47.6" fill="none" stroke="#20b2aa" stroke-width="2.0" stroke-linejoin="round" stroke-linecap="round"/><circle cx="101.3" cy="62.2" r="1.9" fill="#008080"/><circle cx="101.9" cy="66.7" r="1.9" fill="#008080"/><circle cx="106.9" cy="71.1" r="1.9" fill="#008080"/><circle cx="112.5" cy="71.7" r="1.9" fill="#008080"/><circle cx="116.5" cy="70.8" r="1.9" fill="#008080"/><circle cx="120.3" cy="68.9" r="1.9" fill="#008080"/><circle cx="124.2" cy="66.1" r="1.9" fill="#008080"/><circle cx="129.2" cy="60.6" r="1.9" fill="#008080"/><circle cx="133" cy="56" r="1.9" fill="#008080"/><circle cx="136.5" cy="53" r="1.9" fill="#008080"/><circle cx="140.7" cy="49.7" r="1.9" fill="#008080"/><circle cx="146" cy="47.1" r="1.9" fill="#008080"/><circle cx="151.2" cy="45.6" r="1.9" fill="#008080"/><circle cx="157.2" cy="44" r="1.9" fill="#008080"/><circle cx="164.2" cy="44" r="1.9" fill="#008080"/><circle cx="171.2" cy="45.7" r="1.9" fill="#008080"/><circle cx="177.1" cy="47.6" r="1.9" fill="#008080"/><path d="M101.3 62.2 L109.1 73.4 L114.7 78.9 L119.7 83.4 L124.7 89 L130.8 95 L137 101.2 L142.5 107.3 L147 112.3 L153.1 117.5 L159.2 122.9 L165.8 129.5 L171.6 135.3 L177.5 141.1 L183.3 147" fill="none" stroke="#ffa500" stroke-width="2.0" stroke-linejoin="round" stroke-linecap="round"/><circle cx="101.3" cy="62.2" r="1.9" fill="#ff8c00"/><circle cx="109.1" cy="73.4" r="1.9" fill="#ff8c00"/><circle cx="114.7" cy="78.9" r="1.9" fill="#ff8c00"/><circle cx="119.7" cy="83.4" r="1.9" fill="#ff8c00"/><circle cx="124.7" cy="89" r="1.9" fill="#ff8c00"/><circle cx="130.8" cy="95" r="1.9" fill="#ff8c00"/><circle cx="137" cy="101.2" r="1.9" fill="#ff8c00"/><circle cx="142.5" cy="107.3" r="1.9" fill="#ff8c00"/><circle cx="147" cy="112.3" r="1.9" fill="#ff8c00"/><circle cx="153.1" cy="117.5" r="1.9" fill="#ff8c00"/><circle cx="159.2" cy="122.9" r="1.9" fill="#ff8c00"/><circle cx="165.8" cy="129.5" r="1.9" fill="#ff8c00"/><circle cx="171.6" cy="135.3" r="1.9" fill="#ff8c00"/><circle cx="177.5" cy="141.1" r="1.9" fill="#ff8c00"/><circle cx="183.3" cy="147" r="1.9" fill="#ff8c00"/><path d="M100 59.5 L84.7 89.4 L82.5 95" fill="none" stroke="#d2691e" stroke-width="2.0" stroke-linejoin="round" stroke-linecap="round"/><circle cx="100" cy="59.5" r="1.9" fill="#a0522d"/><circle cx="98.4" cy="62.7" r="1.9" fill="#a0522d"/><circle cx="96.7" cy="65.9" r="1.9" fill="#a0522d"/><circle cx="95.1" cy="69.1" r="1.9" fill="#a0522d"/><circle cx="93.4" cy="72.3" r="1.9" fill="#a0522d"/><circle cx="91.8" cy="75.5" r="1.9" fill="#a0522d"/><circle cx="90.2" cy="78.7" r="1.9" fill="#a0522d"/><circle cx="88.5" cy="81.9" r="1.9" fill="#a0522d"/><circle cx="86.9" cy="85.1" r="1.9" fill="#a0522d"/><circle cx="85.2" cy="88.3" r="1.9" fill="#a0522d"/><circle cx="83.8" cy="91.6" r="1.9" fill="#a0522d"/><circle cx="82.5" cy="95" r="1.9" fill="#a0522d"/><path d="M101.3 62.2 L108 67.2 L117.5 76.7 L121.4 80 L125.3 84 L129.5 88 L133.5 91.5 L137.5 95.5 L141.2 99.2 L144.8 102.9 L149.3 106.4 L154.1 111.2 L159.2 115.6 L164.3 120.7 L169.2 125.1" fill="none" stroke="#2e8b57" stroke-width="2.0" stroke-linejoin="round" stroke-linecap="round"/><circle cx="101.3" cy="62.2" r="1.9" fill="#006400"/><circle cx="108" cy="67.2" r="1.9" fill="#006400"/><circle cx="117.5" cy="76.7" r="1.9" fill="#006400"/><circle cx="121.4" cy="80" r="1.9" fill="#006400"/><circle cx="125.3" cy="84" r="1.9" fill="#006400"/><circle cx="129.5" cy="88" r="1.9" fill="#006400"/><circle cx="133.5" cy="91.5" r="1.9" fill="#006400"/><circle cx="137.5" cy="95.5" r="1.9" fill="#006400"/><circle cx="141.2" cy="99.2" r="1.9" fill="#006400"/><circle cx="144.8" cy="102.9" r="1.9" fill="#006400"/><circle cx="149.3" cy="106.4" r="1.9" fill="#006400"/><circle cx="154.1" cy="111.2" r="1.9" fill="#006400"/><circle cx="159.2" cy="115.6" r="1.9" fill="#006400"/><circle cx="164.3" cy="120.7" r="1.9" fill="#006400"/><circle cx="169.2" cy="125.1" r="1.9" fill="#006400"/><path d="M101.3 62.2 L108 68 L115 74.5 L122 80.5 L128.1 86.7 L134.7 92.3 L141 96.5 L148.3 100.3 L155.6 104.3 L162.9 108.3 L170.6 112.4 L178.2 116.3 L186.2 120.4" fill="none" stroke="#f08080" stroke-width="2.0" stroke-linejoin="round" stroke-linecap="butt" stroke-dasharray="6,2.4"/><circle cx="101.3" cy="62.2" r="1.9" fill="#cd5c5c"/><circle cx="108" cy="68" r="1.9" fill="#cd5c5c"/><circle cx="115" cy="74.5" r="1.9" fill="#cd5c5c"/><circle cx="122" cy="80.5" r="1.9" fill="#cd5c5c"/><circle cx="128.1" cy="86.7" r="1.9" fill="#cd5c5c"/><circle cx="134.7" cy="92.3" r="1.9" fill="#cd5c5c"/><circle cx="141" cy="96.5" r="1.9" fill="#cd5c5c"/><circle cx="148.3" cy="100.3" r="1.9" fill="#cd5c5c"/><circle cx="155.6" cy="104.3" r="1.9" fill="#cd5c5c"/><circle cx="162.9" cy="108.3" r="1.9" fill="#cd5c5c"/><circle cx="170.6" cy="112.4" r="1.9" fill="#cd5c5c"/><circle cx="178.2" cy="116.3" r="1.9" fill="#cd5c5c"/><circle cx="186.2" cy="120.4" r="1.9" fill="#cd5c5c"/><path d="M101.3 62.2 L102.5 71.1 L107 74 L112 77.5 L116.8 80 L121.4 82.8 L126.4 89.5 L131.4 95.6 L136.4 102.3 L141.4 110.1 L145.9 116.8 L151.2 124.3 L156.3 131.6 L161.4 139.7 L166.5 147 L171 156" fill="none" stroke="#6495ed" stroke-width="2.0" stroke-linejoin="round" stroke-linecap="butt" stroke-dasharray="6,2.4"/><circle cx="101.3" cy="62.2" r="1.9" fill="#4169e1"/><circle cx="102.5" cy="71.1" r="1.9" fill="#4169e1"/><circle cx="107" cy="74" r="1.9" fill="#4169e1"/><circle cx="112" cy="77.5" r="1.9" fill="#4169e1"/><circle cx="116.8" cy="80" r="1.9" fill="#4169e1"/><circle cx="121.4" cy="82.8" r="1.9" fill="#4169e1"/><circle cx="126.4" cy="89.5" r="1.9" fill="#4169e1"/><circle cx="131.4" cy="95.6" r="1.9" fill="#4169e1"/><circle cx="136.4" cy="102.3" r="1.9" fill="#4169e1"/><circle cx="141.4" cy="110.1" r="1.9" fill="#4169e1"/><circle cx="145.9" cy="116.8" r="1.9" fill="#4169e1"/><circle cx="151.2" cy="124.3" r="1.9" fill="#4169e1"/><circle cx="156.3" cy="131.6" r="1.9" fill="#4169e1"/><circle cx="161.4" cy="139.7" r="1.9" fill="#4169e1"/><circle cx="166.5" cy="147" r="1.9" fill="#4169e1"/><circle cx="171" cy="156" r="1.9" fill="#4169e1"/><path d="M101.3 62.2 L105 66 L109 70 L113 74 L116.5 79 L119.5 85.5 L122.5 94.5 L125 103.5 L127.5 112.3 L132.5 133.5 L137.5 151.9 L142.5 169.4 L147.1 187.3 L152.3 192.3 L157.3 197.5 L163.1 202.8 L168.4 207.7 L174 213.3" fill="none" stroke="#9acd32" stroke-width="2.0" stroke-linejoin="round" stroke-linecap="butt" stroke-dasharray="6,2.4"/><circle cx="101.3" cy="62.2" r="1.9" fill="#6b8e23"/><circle cx="105" cy="66" r="1.9" fill="#6b8e23"/><circle cx="109" cy="70" r="1.9" fill="#6b8e23"/><circle cx="113" cy="74" r="1.9" fill="#6b8e23"/><circle cx="116.5" cy="79" r="1.9" fill="#6b8e23"/><circle cx="119.5" cy="85.5" r="1.9" fill="#6b8e23"/><circle cx="122.5" cy="94.5" r="1.9" fill="#6b8e23"/><circle cx="125" cy="103.5" r="1.9" fill="#6b8e23"/><circle cx="127.5" cy="112.3" r="1.9" fill="#6b8e23"/><circle cx="132.5" cy="133.5" r="1.9" fill="#6b8e23"/><circle cx="137.5" cy="151.9" r="1.9" fill="#6b8e23"/><circle cx="142.5" cy="169.4" r="1.9" fill="#6b8e23"/><circle cx="147.1" cy="187.3" r="1.9" fill="#6b8e23"/><circle cx="152.3" cy="192.3" r="1.9" fill="#6b8e23"/><circle cx="157.3" cy="197.5" r="1.9" fill="#6b8e23"/><circle cx="163.1" cy="202.8" r="1.9" fill="#6b8e23"/><circle cx="168.4" cy="207.7" r="1.9" fill="#6b8e23"/><circle cx="174" cy="213.3" r="1.9" fill="#6b8e23"/><path d="M101.3 62.2 L106.7 70.6 L111.4 93.2 L116.4 115.5 L121.2 136.6 L126.4 157.4 L131 177.6 L135.7 200.1 L140.6 204.8 L145.6 210.1 L150.3 215.3 L155.8 220.6 L160.8 225.8 L166.6 231.1 L172.5 236.7" fill="none" stroke="#dc143c" stroke-width="2.0" stroke-linejoin="round" stroke-linecap="round"/><circle cx="101.3" cy="62.2" r="1.9" fill="#ff4500"/><circle cx="106.7" cy="70.6" r="1.9" fill="#ff4500"/><circle cx="111.4" cy="93.2" r="1.9" fill="#ff4500"/><circle cx="116.4" cy="115.5" r="1.9" fill="#ff4500"/><circle cx="121.2" cy="136.6" r="1.9" fill="#ff4500"/><circle cx="126.4" cy="157.4" r="1.9" fill="#ff4500"/><circle cx="131" cy="177.6" r="1.9" fill="#ff4500"/><circle cx="135.7" cy="200.1" r="1.9" fill="#ff4500"/><circle cx="140.6" cy="204.8" r="1.9" fill="#ff4500"/><circle cx="145.6" cy="210.1" r="1.9" fill="#ff4500"/><circle cx="150.3" cy="215.3" r="1.9" fill="#ff4500"/><circle cx="155.8" cy="220.6" r="1.9" fill="#ff4500"/><circle cx="160.8" cy="225.8" r="1.9" fill="#ff4500"/><circle cx="166.6" cy="231.1" r="1.9" fill="#ff4500"/><circle cx="172.5" cy="236.7" r="1.9" fill="#ff4500"/></g><g><path d="M515.9 194.5 L513.8 199.5 L515 204.2 L516.8 210.3 L520.6 215.9 L524.7 220.8 L529.1 226.1 L533.4 231.3 L537.8 236.6 L541.7 241.5 L546.2 247.1" fill="none" stroke="#4169e1" stroke-width="2.0" stroke-linejoin="round" stroke-linecap="round"/><circle cx="515.9" cy="194.5" r="2.3" fill="#1e90ff"/><circle cx="513.8" cy="199.5" r="2.3" fill="#1e90ff"/><circle cx="515" cy="204.2" r="2.3" fill="#1e90ff"/><circle cx="516.8" cy="210.3" r="2.3" fill="#1e90ff"/><circle cx="520.6" cy="215.9" r="2.3" fill="#1e90ff"/><circle cx="524.7" cy="220.8" r="2.3" fill="#1e90ff"/><circle cx="529.1" cy="226.1" r="2.3" fill="#1e90ff"/><circle cx="533.4" cy="231.3" r="2.3" fill="#1e90ff"/><circle cx="537.8" cy="236.6" r="2.3" fill="#1e90ff"/><circle cx="541.7" cy="241.5" r="2.3" fill="#1e90ff"/><circle cx="546.2" cy="247.1" r="2.3" fill="#1e90ff"/><path d="M487.3 33.1 L488.7 37.8 L490.6 43.4 L492.3 48.4 L494.3 53.2 L496.2 58.4 L497.8 63.2 L499.5 68.4 L501.7 74 L503.4 81 L504 92.4 L505.4 108.5 L507.3 139 L509.5 167.9 L512.5 190 L513.5 196" fill="none" stroke="#9370db" stroke-width="1.6" stroke-linejoin="round" stroke-linecap="butt" stroke-dasharray="5.6,2.4"/><path d="M487.3 30.3 L488.1 32 L490 32.2 L488.6 33.5 L488.9 35.4 L487.3 34.5 L485.7 35.4 L486 33.5 L484.6 32.2 L486.5 32 Z" fill="#8a2be2" stroke="#8a2be2" stroke-width="0.5"/><path d="M488.7 35 L489.5 36.7 L491.4 36.9 L490 38.2 L490.3 40.1 L488.7 39.2 L487.1 40.1 L487.4 38.2 L486 36.9 L487.9 36.7 Z" fill="#8a2be2" stroke="#8a2be2" stroke-width="0.5"/><path d="M490.6 40.6 L491.4 42.3 L493.3 42.5 L491.9 43.8 L492.2 45.7 L490.6 44.8 L489 45.7 L489.3 43.8 L487.9 42.5 L489.8 42.3 Z" fill="#8a2be2" stroke="#8a2be2" stroke-width="0.5"/><path d="M492.3 45.6 L493.1 47.3 L495 47.5 L493.6 48.8 L493.9 50.7 L492.3 49.8 L490.7 50.7 L491 48.8 L489.6 47.5 L491.5 47.3 Z" fill="#8a2be2" stroke="#8a2be2" stroke-width="0.5"/><path d="M494.3 50.4 L495.1 52.1 L497 52.3 L495.6 53.6 L495.9 55.5 L494.3 54.6 L492.7 55.5 L493 53.6 L491.6 52.3 L493.5 52.1 Z" fill="#8a2be2" stroke="#8a2be2" stroke-width="0.5"/><path d="M496.2 55.6 L497 57.3 L498.9 57.5 L497.5 58.8 L497.8 60.7 L496.2 59.8 L494.6 60.7 L494.9 58.8 L493.5 57.5 L495.4 57.3 Z" fill="#8a2be2" stroke="#8a2be2" stroke-width="0.5"/><path d="M497.8 60.4 L498.6 62.1 L500.5 62.3 L499.1 63.6 L499.4 65.5 L497.8 64.6 L496.2 65.5 L496.5 63.6 L495.1 62.3 L497 62.1 Z" fill="#8a2be2" stroke="#8a2be2" stroke-width="0.5"/><path d="M499.5 65.6 L500.3 67.3 L502.2 67.5 L500.8 68.8 L501.1 70.7 L499.5 69.8 L497.9 70.7 L498.2 68.8 L496.8 67.5 L498.7 67.3 Z" fill="#8a2be2" stroke="#8a2be2" stroke-width="0.5"/><path d="M501.7 71.2 L502.5 72.9 L504.4 73.1 L503 74.4 L503.3 76.3 L501.7 75.4 L500.1 76.3 L500.4 74.4 L499 73.1 L500.9 72.9 Z" fill="#8a2be2" stroke="#8a2be2" stroke-width="0.5"/><path d="M503.4 78.2 L504.2 79.9 L506.1 80.1 L504.7 81.4 L505 83.3 L503.4 82.4 L501.8 83.3 L502.1 81.4 L500.7 80.1 L502.6 79.9 Z" fill="#8a2be2" stroke="#8a2be2" stroke-width="0.5"/><path d="M504 89.6 L504.8 91.3 L506.7 91.5 L505.3 92.8 L505.6 94.7 L504 93.8 L502.4 94.7 L502.7 92.8 L501.3 91.5 L503.2 91.3 Z" fill="#8a2be2" stroke="#8a2be2" stroke-width="0.5"/><path d="M505.4 105.7 L506.2 107.4 L508.1 107.6 L506.7 108.9 L507 110.8 L505.4 109.9 L503.8 110.8 L504.1 108.9 L502.7 107.6 L504.6 107.4 Z" fill="#8a2be2" stroke="#8a2be2" stroke-width="0.5"/><path d="M507.3 136.2 L508.1 137.9 L510 138.1 L508.6 139.4 L508.9 141.3 L507.3 140.4 L505.7 141.3 L506 139.4 L504.6 138.1 L506.5 137.9 Z" fill="#8a2be2" stroke="#8a2be2" stroke-width="0.5"/><path d="M509.5 165.1 L510.3 166.8 L512.2 167 L510.8 168.3 L511.1 170.2 L509.5 169.3 L507.9 170.2 L508.2 168.3 L506.8 167 L508.7 166.8 Z" fill="#8a2be2" stroke="#8a2be2" stroke-width="0.5"/><path d="M512.5 187.2 L513.3 188.9 L515.2 189.1 L513.8 190.4 L514.1 192.3 L512.5 191.4 L510.9 192.3 L511.2 190.4 L509.8 189.1 L511.7 188.9 Z" fill="#8a2be2" stroke="#8a2be2" stroke-width="0.5"/><path d="M513.5 193.2 L514.3 194.9 L516.2 195.1 L514.8 196.4 L515.1 198.3 L513.5 197.4 L511.9 198.3 L512.2 196.4 L510.8 195.1 L512.7 194.9 Z" fill="#8a2be2" stroke="#8a2be2" stroke-width="0.5"/><path d="M489.5 128.7 L512.9 197.4" fill="none" stroke="#20b2aa" stroke-width="2.0" stroke-linejoin="round" stroke-linecap="round"/><circle cx="489.5" cy="128.7" r="1.9" fill="#008080"/><circle cx="491.3" cy="134" r="1.9" fill="#008080"/><circle cx="493.1" cy="139.3" r="1.9" fill="#008080"/><circle cx="494.9" cy="144.6" r="1.9" fill="#008080"/><circle cx="496.7" cy="149.8" r="1.9" fill="#008080"/><circle cx="498.5" cy="155.1" r="1.9" fill="#008080"/><circle cx="500.3" cy="160.4" r="1.9" fill="#008080"/><circle cx="502.1" cy="165.7" r="1.9" fill="#008080"/><circle cx="503.9" cy="171" r="1.9" fill="#008080"/><circle cx="505.7" cy="176.3" r="1.9" fill="#008080"/><circle cx="507.5" cy="181.5" r="1.9" fill="#008080"/><circle cx="509.3" cy="186.8" r="1.9" fill="#008080"/><circle cx="511.1" cy="192.1" r="1.9" fill="#008080"/><circle cx="512.9" cy="197.4" r="1.9" fill="#008080"/><path d="M491.7 152.3 L492.8 160.1 L495 164 L497.3 167.4 L500 172 L503 177 L506 183 L509 189 L512.9 197.4" fill="none" stroke="#ffa500" stroke-width="2.0" stroke-linejoin="round" stroke-linecap="round"/><circle cx="491.7" cy="152.3" r="1.9" fill="#ff8c00"/><circle cx="492.8" cy="160.1" r="1.9" fill="#ff8c00"/><circle cx="495" cy="164" r="1.9" fill="#ff8c00"/><circle cx="497.3" cy="167.4" r="1.9" fill="#ff8c00"/><circle cx="500" cy="172" r="1.9" fill="#ff8c00"/><circle cx="503" cy="177" r="1.9" fill="#ff8c00"/><circle cx="506" cy="183" r="1.9" fill="#ff8c00"/><circle cx="509" cy="189" r="1.9" fill="#ff8c00"/><circle cx="512.9" cy="197.4" r="1.9" fill="#ff8c00"/><path d="M505 176 L512.9 197.4" fill="none" stroke="#d2691e" stroke-width="2.0" stroke-linejoin="round" stroke-linecap="round"/><circle cx="505" cy="176" r="1.9" fill="#a0522d"/><circle cx="507" cy="181.3" r="1.9" fill="#a0522d"/><circle cx="508.9" cy="186.7" r="1.9" fill="#a0522d"/><circle cx="510.9" cy="192.1" r="1.9" fill="#a0522d"/><circle cx="512.9" cy="197.4" r="1.9" fill="#a0522d"/><path d="M487.8 116.1 L489.5 121.2 L491.2 126.7 L492.8 132.3 L494.5 137.9 L496.2 143.4 L497.8 149 L499.8 155.1 L501.7 160.7 L503.4 166.8 L505.5 173 L507.5 179 L509.5 185 L511.2 191 L512.9 197.4" fill="none" stroke="#2e8b57" stroke-width="2.0" stroke-linejoin="round" stroke-linecap="round"/><circle cx="487.8" cy="116.1" r="1.9" fill="#006400"/><circle cx="489.5" cy="121.2" r="1.9" fill="#006400"/><circle cx="491.2" cy="126.7" r="1.9" fill="#006400"/><circle cx="492.8" cy="132.3" r="1.9" fill="#006400"/><circle cx="494.5" cy="137.9" r="1.9" fill="#006400"/><circle cx="496.2" cy="143.4" r="1.9" fill="#006400"/><circle cx="497.8" cy="149" r="1.9" fill="#006400"/><circle cx="499.8" cy="155.1" r="1.9" fill="#006400"/><circle cx="501.7" cy="160.7" r="1.9" fill="#006400"/><circle cx="503.4" cy="166.8" r="1.9" fill="#006400"/><circle cx="505.5" cy="173" r="1.9" fill="#006400"/><circle cx="507.5" cy="179" r="1.9" fill="#006400"/><circle cx="509.5" cy="185" r="1.9" fill="#006400"/><circle cx="511.2" cy="191" r="1.9" fill="#006400"/><circle cx="512.9" cy="197.4" r="1.9" fill="#006400"/><path d="M486.7 132.9 L512.9 197.4" fill="none" stroke="#f08080" stroke-width="2.0" stroke-linejoin="round" stroke-linecap="butt" stroke-dasharray="6,2.4"/><circle cx="486.7" cy="132.9" r="1.9" fill="#cd5c5c"/><circle cx="488.7" cy="137.9" r="1.9" fill="#cd5c5c"/><circle cx="490.7" cy="142.8" r="1.9" fill="#cd5c5c"/><circle cx="492.7" cy="147.8" r="1.9" fill="#cd5c5c"/><circle cx="494.8" cy="152.7" r="1.9" fill="#cd5c5c"/><circle cx="496.8" cy="157.7" r="1.9" fill="#cd5c5c"/><circle cx="498.8" cy="162.7" r="1.9" fill="#cd5c5c"/><circle cx="500.8" cy="167.6" r="1.9" fill="#cd5c5c"/><circle cx="502.8" cy="172.6" r="1.9" fill="#cd5c5c"/><circle cx="504.8" cy="177.6" r="1.9" fill="#cd5c5c"/><circle cx="506.9" cy="182.5" r="1.9" fill="#cd5c5c"/><circle cx="508.9" cy="187.5" r="1.9" fill="#cd5c5c"/><circle cx="510.9" cy="192.4" r="1.9" fill="#cd5c5c"/><circle cx="512.9" cy="197.4" r="1.9" fill="#cd5c5c"/><path d="M486.1 133.2 L487.8 137.9 L490 141.8 L492 146.2 L493.9 150.7 L495.8 155.1 L498.4 162.9 L500.6 167.4 L502.3 171.8 L504.5 176.8 L506.7 180.7 L509.5 188 L512.9 197.4" fill="none" stroke="#6495ed" stroke-width="2.0" stroke-linejoin="round" stroke-linecap="butt" stroke-dasharray="6,2.4"/><circle cx="486.1" cy="133.2" r="1.9" fill="#4169e1"/><circle cx="487.8" cy="137.9" r="1.9" fill="#4169e1"/><circle cx="490" cy="141.8" r="1.9" fill="#4169e1"/><circle cx="492" cy="146.2" r="1.9" fill="#4169e1"/><circle cx="493.9" cy="150.7" r="1.9" fill="#4169e1"/><circle cx="495.8" cy="155.1" r="1.9" fill="#4169e1"/><circle cx="498.4" cy="162.9" r="1.9" fill="#4169e1"/><circle cx="500.6" cy="167.4" r="1.9" fill="#4169e1"/><circle cx="502.3" cy="171.8" r="1.9" fill="#4169e1"/><circle cx="504.5" cy="176.8" r="1.9" fill="#4169e1"/><circle cx="506.7" cy="180.7" r="1.9" fill="#4169e1"/><circle cx="509.5" cy="188" r="1.9" fill="#4169e1"/><circle cx="512.9" cy="197.4" r="1.9" fill="#4169e1"/><path d="M486.1 73.2 L487.6 77.9 L489.2 83.5 L490.6 88.8 L492.3 94.1 L493.6 99.3 L495.4 104.4 L496.7 109.6 L499 115.2 L500.6 120.6 L503.2 137.9 L505.4 155.1 L507.9 173.5 L512.9 197.4" fill="none" stroke="#9acd32" stroke-width="2.0" stroke-linejoin="round" stroke-linecap="butt" stroke-dasharray="6,2.4"/><circle cx="486.1" cy="73.2" r="1.9" fill="#6b8e23"/><circle cx="487.6" cy="77.9" r="1.9" fill="#6b8e23"/><circle cx="489.2" cy="83.5" r="1.9" fill="#6b8e23"/><circle cx="490.6" cy="88.8" r="1.9" fill="#6b8e23"/><circle cx="492.3" cy="94.1" r="1.9" fill="#6b8e23"/><circle cx="493.6" cy="99.3" r="1.9" fill="#6b8e23"/><circle cx="495.4" cy="104.4" r="1.9" fill="#6b8e23"/><circle cx="496.7" cy="109.6" r="1.9" fill="#6b8e23"/><circle cx="499" cy="115.2" r="1.9" fill="#6b8e23"/><circle cx="500.6" cy="120.6" r="1.9" fill="#6b8e23"/><circle cx="503.2" cy="137.9" r="1.9" fill="#6b8e23"/><circle cx="505.4" cy="155.1" r="1.9" fill="#6b8e23"/><circle cx="507.9" cy="173.5" r="1.9" fill="#6b8e23"/><circle cx="512.9" cy="197.4" r="1.9" fill="#6b8e23"/><path d="M487.8 42.8 L489.5 47.3 L491.4 52.3 L493.4 57.3 L494.7 62.1 L496.2 66.5 L498.4 71.8 L501.2 77.7 L502.3 96.8 L504.7 116.9 L506.7 136.7 L509 157.3 L510.1 174 L511.4 191.3 L512.9 197.4" fill="none" stroke="#dc143c" stroke-width="2.0" stroke-linejoin="round" stroke-linecap="round"/><circle cx="487.8" cy="42.8" r="1.9" fill="#ff4500"/><circle cx="489.5" cy="47.3" r="1.9" fill="#ff4500"/><circle cx="491.4" cy="52.3" r="1.9" fill="#ff4500"/><circle cx="493.4" cy="57.3" r="1.9" fill="#ff4500"/><circle cx="494.7" cy="62.1" r="1.9" fill="#ff4500"/><circle cx="496.2" cy="66.5" r="1.9" fill="#ff4500"/><circle cx="498.4" cy="71.8" r="1.9" fill="#ff4500"/><circle cx="501.2" cy="77.7" r="1.9" fill="#ff4500"/><circle cx="502.3" cy="96.8" r="1.9" fill="#ff4500"/><circle cx="504.7" cy="116.9" r="1.9" fill="#ff4500"/><circle cx="506.7" cy="136.7" r="1.9" fill="#ff4500"/><circle cx="509" cy="157.3" r="1.9" fill="#ff4500"/><circle cx="510.1" cy="174" r="1.9" fill="#ff4500"/><circle cx="511.4" cy="191.3" r="1.9" fill="#ff4500"/><circle cx="512.9" cy="197.4" r="1.9" fill="#ff4500"/></g><g><path d="M176.1 474.2 L249.7 463.7" fill="none" stroke="#4169e1" stroke-width="2.0" stroke-linejoin="round" stroke-linecap="round"/><circle cx="176.1" cy="474.2" r="2.3" fill="#1e90ff"/><circle cx="185.3" cy="472.9" r="2.3" fill="#1e90ff"/><circle cx="194.5" cy="471.6" r="2.3" fill="#1e90ff"/><circle cx="203.7" cy="470.3" r="2.3" fill="#1e90ff"/><circle cx="212.9" cy="468.9" r="2.3" fill="#1e90ff"/><circle cx="222.1" cy="467.6" r="2.3" fill="#1e90ff"/><circle cx="231.3" cy="466.3" r="2.3" fill="#1e90ff"/><circle cx="240.5" cy="465" r="2.3" fill="#1e90ff"/><circle cx="249.7" cy="463.7" r="2.3" fill="#1e90ff"/><path d="M27.9 493.4 L169 474.2" fill="none" stroke="#9370db" stroke-width="1.6" stroke-linejoin="round" stroke-linecap="butt" stroke-dasharray="5.6,2.4"/><path d="M27.9 490.6 L28.7 492.3 L30.6 492.5 L29.2 493.8 L29.5 495.7 L27.9 494.8 L26.3 495.7 L26.6 493.8 L25.2 492.5 L27.1 492.3 Z" fill="#8a2be2" stroke="#8a2be2" stroke-width="0.5"/><path d="M38.8 489.1 L39.6 490.8 L41.4 491.1 L40.1 492.4 L40.4 494.2 L38.8 493.3 L37.1 494.2 L37.4 492.4 L36.1 491.1 L37.9 490.8 Z" fill="#8a2be2" stroke="#8a2be2" stroke-width="0.5"/><path d="M49.6 487.6 L50.4 489.3 L52.3 489.6 L50.9 490.9 L51.3 492.7 L49.6 491.8 L48 492.7 L48.3 490.9 L46.9 489.6 L48.8 489.3 Z" fill="#8a2be2" stroke="#8a2be2" stroke-width="0.5"/><path d="M60.5 486.2 L61.3 487.8 L63.1 488.1 L61.8 489.4 L62.1 491.2 L60.5 490.4 L58.8 491.2 L59.1 489.4 L57.8 488.1 L59.6 487.8 Z" fill="#8a2be2" stroke="#8a2be2" stroke-width="0.5"/><path d="M71.3 484.7 L72.1 486.4 L74 486.6 L72.6 487.9 L73 489.8 L71.3 488.9 L69.7 489.8 L70 487.9 L68.7 486.6 L70.5 486.4 Z" fill="#8a2be2" stroke="#8a2be2" stroke-width="0.5"/><path d="M82.2 483.2 L83 484.9 L84.8 485.2 L83.5 486.4 L83.8 488.3 L82.2 487.4 L80.5 488.3 L80.8 486.4 L79.5 485.2 L81.3 484.9 Z" fill="#8a2be2" stroke="#8a2be2" stroke-width="0.5"/><path d="M93 481.7 L93.8 483.4 L95.7 483.7 L94.4 485 L94.7 486.8 L93 485.9 L91.4 486.8 L91.7 485 L90.4 483.7 L92.2 483.4 Z" fill="#8a2be2" stroke="#8a2be2" stroke-width="0.5"/><path d="M103.9 480.3 L104.7 481.9 L106.5 482.2 L105.2 483.5 L105.5 485.3 L103.9 484.5 L102.2 485.3 L102.5 483.5 L101.2 482.2 L103.1 481.9 Z" fill="#8a2be2" stroke="#8a2be2" stroke-width="0.5"/><path d="M114.7 478.8 L115.6 480.5 L117.4 480.7 L116.1 482 L116.4 483.8 L114.7 483 L113.1 483.8 L113.4 482 L112.1 480.7 L113.9 480.5 Z" fill="#8a2be2" stroke="#8a2be2" stroke-width="0.5"/><path d="M125.6 477.3 L126.4 479 L128.2 479.2 L126.9 480.5 L127.2 482.4 L125.6 481.5 L123.9 482.4 L124.3 480.5 L122.9 479.2 L124.8 479 Z" fill="#8a2be2" stroke="#8a2be2" stroke-width="0.5"/><path d="M136.4 475.8 L137.3 477.5 L139.1 477.8 L137.8 479.1 L138.1 480.9 L136.4 480 L134.8 480.9 L135.1 479.1 L133.8 477.8 L135.6 477.5 Z" fill="#8a2be2" stroke="#8a2be2" stroke-width="0.5"/><path d="M147.3 474.4 L148.1 476 L150 476.3 L148.6 477.6 L148.9 479.4 L147.3 478.6 L145.6 479.4 L146 477.6 L144.6 476.3 L146.5 476 Z" fill="#8a2be2" stroke="#8a2be2" stroke-width="0.5"/><path d="M158.1 472.9 L159 474.5 L160.8 474.8 L159.5 476.1 L159.8 477.9 L158.1 477.1 L156.5 477.9 L156.8 476.1 L155.5 474.8 L157.3 474.5 Z" fill="#8a2be2" stroke="#8a2be2" stroke-width="0.5"/><path d="M169 471.4 L169.8 473.1 L171.7 473.3 L170.3 474.6 L170.6 476.5 L169 475.6 L167.4 476.5 L167.7 474.6 L166.3 473.3 L168.2 473.1 Z" fill="#8a2be2" stroke="#8a2be2" stroke-width="0.5"/><path d="M28.9 381.2 L39.9 388.2 L50.4 396.2 L60.2 403.9 L70.2 412.5 L80.3 421.4 L90.5 431.2 L100.6 441.8 L111.1 452.2 L120.9 460.6 L129.8 467.2 L139.6 471.6 L148.9 473.4 L158.3 474.4 L167.2 474.8" fill="none" stroke="#20b2aa" stroke-width="2.0" stroke-linejoin="round" stroke-linecap="round"/><circle cx="28.9" cy="381.2" r="1.9" fill="#008080"/><circle cx="39.9" cy="388.2" r="1.9" fill="#008080"/><circle cx="50.4" cy="396.2" r="1.9" fill="#008080"/><circle cx="60.2" cy="403.9" r="1.9" fill="#008080"/><circle cx="70.2" cy="412.5" r="1.9" fill="#008080"/><circle cx="80.3" cy="421.4" r="1.9" fill="#008080"/><circle cx="90.5" cy="431.2" r="1.9" fill="#008080"/><circle cx="100.6" cy="441.8" r="1.9" fill="#008080"/><circle cx="111.1" cy="452.2" r="1.9" fill="#008080"/><circle cx="120.9" cy="460.6" r="1.9" fill="#008080"/><circle cx="129.8" cy="467.2" r="1.9" fill="#008080"/><circle cx="139.6" cy="471.6" r="1.9" fill="#008080"/><circle cx="148.9" cy="473.4" r="1.9" fill="#008080"/><circle cx="158.3" cy="474.4" r="1.9" fill="#008080"/><circle cx="167.2" cy="474.8" r="1.9" fill="#008080"/><path d="M43.9 497.1 L169 475.3" fill="none" stroke="#ffa500" stroke-width="2.0" stroke-linejoin="round" stroke-linecap="round"/><circle cx="43.9" cy="497.1" r="1.9" fill="#ff8c00"/><circle cx="53.5" cy="495.4" r="1.9" fill="#ff8c00"/><circle cx="63.1" cy="493.7" r="1.9" fill="#ff8c00"/><circle cx="72.8" cy="492.1" r="1.9" fill="#ff8c00"/><circle cx="82.4" cy="490.4" r="1.9" fill="#ff8c00"/><circle cx="92" cy="488.7" r="1.9" fill="#ff8c00"/><circle cx="101.6" cy="487" r="1.9" fill="#ff8c00"/><circle cx="111.3" cy="485.4" r="1.9" fill="#ff8c00"/><circle cx="120.9" cy="483.7" r="1.9" fill="#ff8c00"/><circle cx="130.5" cy="482" r="1.9" fill="#ff8c00"/><circle cx="140.1" cy="480.3" r="1.9" fill="#ff8c00"/><circle cx="149.8" cy="478.7" r="1.9" fill="#ff8c00"/><circle cx="159.4" cy="477" r="1.9" fill="#ff8c00"/><circle cx="169" cy="475.3" r="1.9" fill="#ff8c00"/><path d="M63.2 504.4 L170.7 476.3" fill="none" stroke="#d2691e" stroke-width="2.0" stroke-linejoin="round" stroke-linecap="round"/><circle cx="63.2" cy="504.4" r="1.9" fill="#a0522d"/><circle cx="73" cy="501.8" r="1.9" fill="#a0522d"/><circle cx="82.7" cy="499.3" r="1.9" fill="#a0522d"/><circle cx="92.5" cy="496.7" r="1.9" fill="#a0522d"/><circle cx="102.3" cy="494.2" r="1.9" fill="#a0522d"/><circle cx="112.1" cy="491.6" r="1.9" fill="#a0522d"/><circle cx="121.8" cy="489.1" r="1.9" fill="#a0522d"/><circle cx="131.6" cy="486.5" r="1.9" fill="#a0522d"/><circle cx="141.4" cy="484" r="1.9" fill="#a0522d"/><circle cx="151.2" cy="481.4" r="1.9" fill="#a0522d"/><circle cx="160.9" cy="478.9" r="1.9" fill="#a0522d"/><circle cx="170.7" cy="476.3" r="1.9" fill="#a0522d"/><path d="M30 494.6 L169 475.3" fill="none" stroke="#2e8b57" stroke-width="2.0" stroke-linejoin="round" stroke-linecap="round"/><circle cx="30" cy="494.6" r="1.9" fill="#006400"/><circle cx="40.7" cy="493.1" r="1.9" fill="#006400"/><circle cx="51.4" cy="491.6" r="1.9" fill="#006400"/><circle cx="62.1" cy="490.1" r="1.9" fill="#006400"/><circle cx="72.8" cy="488.7" r="1.9" fill="#006400"/><circle cx="83.5" cy="487.2" r="1.9" fill="#006400"/><circle cx="94.2" cy="485.7" r="1.9" fill="#006400"/><circle cx="104.8" cy="484.2" r="1.9" fill="#006400"/><circle cx="115.5" cy="482.7" r="1.9" fill="#006400"/><circle cx="126.2" cy="481.2" r="1.9" fill="#006400"/><circle cx="136.9" cy="479.8" r="1.9" fill="#006400"/><circle cx="147.6" cy="478.3" r="1.9" fill="#006400"/><circle cx="158.3" cy="476.8" r="1.9" fill="#006400"/><circle cx="169" cy="475.3" r="1.9" fill="#006400"/><path d="M34 469.3 L43.4 474.4 L53.9 477.9 L63.2 479.8 L73.7 480.2 L83.1 480.7 L92.4 480.7 L101.8 480.2 L111.1 479.5 L120.4 479.1 L129.8 478.4 L139.1 477.9 L148.5 476.7 L158 476 L168 475.5" fill="none" stroke="#f08080" stroke-width="2.0" stroke-linejoin="round" stroke-linecap="butt" stroke-dasharray="6,2.4"/><circle cx="34" cy="469.3" r="1.9" fill="#cd5c5c"/><circle cx="43.4" cy="474.4" r="1.9" fill="#cd5c5c"/><circle cx="53.9" cy="477.9" r="1.9" fill="#cd5c5c"/><circle cx="63.2" cy="479.8" r="1.9" fill="#cd5c5c"/><circle cx="73.7" cy="480.2" r="1.9" fill="#cd5c5c"/><circle cx="83.1" cy="480.7" r="1.9" fill="#cd5c5c"/><circle cx="92.4" cy="480.7" r="1.9" fill="#cd5c5c"/><circle cx="101.8" cy="480.2" r="1.9" fill="#cd5c5c"/><circle cx="111.1" cy="479.5" r="1.9" fill="#cd5c5c"/><circle cx="120.4" cy="479.1" r="1.9" fill="#cd5c5c"/><circle cx="129.8" cy="478.4" r="1.9" fill="#cd5c5c"/><circle cx="139.1" cy="477.9" r="1.9" fill="#cd5c5c"/><circle cx="148.5" cy="476.7" r="1.9" fill="#cd5c5c"/><circle cx="158" cy="476" r="1.9" fill="#cd5c5c"/><circle cx="168" cy="475.5" r="1.9" fill="#cd5c5c"/><path d="M30 494 L169 475.3" fill="none" stroke="#6495ed" stroke-width="2.0" stroke-linejoin="round" stroke-linecap="butt" stroke-dasharray="6,2.4"/><circle cx="30" cy="494" r="1.9" fill="#4169e1"/><circle cx="40.7" cy="492.6" r="1.9" fill="#4169e1"/><circle cx="51.4" cy="491.1" r="1.9" fill="#4169e1"/><circle cx="62.1" cy="489.7" r="1.9" fill="#4169e1"/><circle cx="72.8" cy="488.2" r="1.9" fill="#4169e1"/><circle cx="83.5" cy="486.8" r="1.9" fill="#4169e1"/><circle cx="94.2" cy="485.4" r="1.9" fill="#4169e1"/><circle cx="104.8" cy="483.9" r="1.9" fill="#4169e1"/><circle cx="115.5" cy="482.5" r="1.9" fill="#4169e1"/><circle cx="126.2" cy="481.1" r="1.9" fill="#4169e1"/><circle cx="136.9" cy="479.6" r="1.9" fill="#4169e1"/><circle cx="147.6" cy="478.2" r="1.9" fill="#4169e1"/><circle cx="158.3" cy="476.7" r="1.9" fill="#4169e1"/><circle cx="169" cy="475.3" r="1.9" fill="#4169e1"/><path d="M31 495.3 L169 475.3" fill="none" stroke="#9acd32" stroke-width="2.0" stroke-linejoin="round" stroke-linecap="butt" stroke-dasharray="6,2.4"/><circle cx="31" cy="495.3" r="1.9" fill="#6b8e23"/><circle cx="41.6" cy="493.8" r="1.9" fill="#6b8e23"/><circle cx="52.2" cy="492.2" r="1.9" fill="#6b8e23"/><circle cx="62.8" cy="490.7" r="1.9" fill="#6b8e23"/><circle cx="73.5" cy="489.1" r="1.9" fill="#6b8e23"/><circle cx="84.1" cy="487.6" r="1.9" fill="#6b8e23"/><circle cx="94.7" cy="486.1" r="1.9" fill="#6b8e23"/><circle cx="105.3" cy="484.5" r="1.9" fill="#6b8e23"/><circle cx="115.9" cy="483" r="1.9" fill="#6b8e23"/><circle cx="126.5" cy="481.5" r="1.9" fill="#6b8e23"/><circle cx="137.2" cy="479.9" r="1.9" fill="#6b8e23"/><circle cx="147.8" cy="478.4" r="1.9" fill="#6b8e23"/><circle cx="158.4" cy="476.8" r="1.9" fill="#6b8e23"/><circle cx="169" cy="475.3" r="1.9" fill="#6b8e23"/><path d="M29.9 494.8 L169 475.3" fill="none" stroke="#dc143c" stroke-width="2.0" stroke-linejoin="round" stroke-linecap="round"/><circle cx="29.9" cy="494.8" r="1.9" fill="#ff4500"/><circle cx="40.6" cy="493.3" r="1.9" fill="#ff4500"/><circle cx="51.3" cy="491.8" r="1.9" fill="#ff4500"/><circle cx="62" cy="490.3" r="1.9" fill="#ff4500"/><circle cx="72.7" cy="488.8" r="1.9" fill="#ff4500"/><circle cx="83.4" cy="487.3" r="1.9" fill="#ff4500"/><circle cx="94.1" cy="485.8" r="1.9" fill="#ff4500"/><circle cx="104.8" cy="484.3" r="1.9" fill="#ff4500"/><circle cx="115.5" cy="482.8" r="1.9" fill="#ff4500"/><circle cx="126.2" cy="481.3" r="1.9" fill="#ff4500"/><circle cx="136.9" cy="479.8" r="1.9" fill="#ff4500"/><circle cx="147.6" cy="478.3" r="1.9" fill="#ff4500"/><circle cx="158.3" cy="476.8" r="1.9" fill="#ff4500"/><circle cx="169" cy="475.3" r="1.9" fill="#ff4500"/></g><g><path d="M394.4 464.8 L406.9 459.9 L420.1 454.6 L433.2 449.6 L445.5 444.7 L457.2 440.9 L466.5 438.8 L475.3 438 L483.5 437.9" fill="none" stroke="#4169e1" stroke-width="2.0" stroke-linejoin="round" stroke-linecap="round"/><circle cx="394.4" cy="464.8" r="2.3" fill="#1e90ff"/><circle cx="406.9" cy="459.9" r="2.3" fill="#1e90ff"/><circle cx="420.1" cy="454.6" r="2.3" fill="#1e90ff"/><circle cx="433.2" cy="449.6" r="2.3" fill="#1e90ff"/><circle cx="445.5" cy="444.7" r="2.3" fill="#1e90ff"/><circle cx="457.2" cy="440.9" r="2.3" fill="#1e90ff"/><circle cx="466.5" cy="438.8" r="2.3" fill="#1e90ff"/><circle cx="475.3" cy="438" r="2.3" fill="#1e90ff"/><circle cx="483.5" cy="437.9" r="2.3" fill="#1e90ff"/><path d="M486.4 437.8 L489.5 446 L489.8 453.6 L488.2 461 L487.7 467.8 L488.7 480 L490.9 485.3 L493.5 490.6 L497.7 493.7 L502 498 L506.7 501.1 L511.5 504.8 L516.8 507.5 L523.6 509.6" fill="none" stroke="#9370db" stroke-width="1.6" stroke-linejoin="round" stroke-linecap="butt" stroke-dasharray="5.6,2.4"/><path d="M486.4 435 L487.2 436.7 L489.1 436.9 L487.7 438.2 L488 440.1 L486.4 439.2 L484.8 440.1 L485.1 438.2 L483.7 436.9 L485.6 436.7 Z" fill="#8a2be2" stroke="#8a2be2" stroke-width="0.5"/><path d="M489.5 443.2 L490.3 444.9 L492.2 445.1 L490.8 446.4 L491.1 448.3 L489.5 447.4 L487.9 448.3 L488.2 446.4 L486.8 445.1 L488.7 444.9 Z" fill="#8a2be2" stroke="#8a2be2" stroke-width="0.5"/><path d="M489.8 450.8 L490.6 452.5 L492.5 452.7 L491.1 454 L491.4 455.9 L489.8 455 L488.2 455.9 L488.5 454 L487.1 452.7 L489 452.5 Z" fill="#8a2be2" stroke="#8a2be2" stroke-width="0.5"/><path d="M488.2 458.2 L489 459.9 L490.9 460.1 L489.5 461.4 L489.8 463.3 L488.2 462.4 L486.6 463.3 L486.9 461.4 L485.5 460.1 L487.4 459.9 Z" fill="#8a2be2" stroke="#8a2be2" stroke-width="0.5"/><path d="M487.7 465 L488.5 466.7 L490.4 466.9 L489 468.2 L489.3 470.1 L487.7 469.2 L486.1 470.1 L486.4 468.2 L485 466.9 L486.9 466.7 Z" fill="#8a2be2" stroke="#8a2be2" stroke-width="0.5"/><path d="M488.7 477.2 L489.5 478.9 L491.4 479.1 L490 480.4 L490.3 482.3 L488.7 481.4 L487.1 482.3 L487.4 480.4 L486 479.1 L487.9 478.9 Z" fill="#8a2be2" stroke="#8a2be2" stroke-width="0.5"/><path d="M490.9 482.5 L491.7 484.2 L493.6 484.4 L492.2 485.7 L492.5 487.6 L490.9 486.7 L489.3 487.6 L489.6 485.7 L488.2 484.4 L490.1 484.2 Z" fill="#8a2be2" stroke="#8a2be2" stroke-width="0.5"/><path d="M493.5 487.8 L494.3 489.5 L496.2 489.7 L494.8 491 L495.1 492.9 L493.5 492 L491.9 492.9 L492.2 491 L490.8 489.7 L492.7 489.5 Z" fill="#8a2be2" stroke="#8a2be2" stroke-width="0.5"/><path d="M497.7 490.9 L498.5 492.6 L500.4 492.8 L499 494.1 L499.3 496 L497.7 495.1 L496.1 496 L496.4 494.1 L495 492.8 L496.9 492.6 Z" fill="#8a2be2" stroke="#8a2be2" stroke-width="0.5"/><path d="M502 495.2 L502.8 496.9 L504.7 497.1 L503.3 498.4 L503.6 500.3 L502 499.4 L500.4 500.3 L500.7 498.4 L499.3 497.1 L501.2 496.9 Z" fill="#8a2be2" stroke="#8a2be2" stroke-width="0.5"/><path d="M506.7 498.3 L507.5 500 L509.4 500.2 L508 501.5 L508.3 503.4 L506.7 502.5 L505.1 503.4 L505.4 501.5 L504 500.2 L505.9 500 Z" fill="#8a2be2" stroke="#8a2be2" stroke-width="0.5"/><path d="M511.5 502 L512.3 503.7 L514.2 503.9 L512.8 505.2 L513.1 507.1 L511.5 506.2 L509.9 507.1 L510.2 505.2 L508.8 503.9 L510.7 503.7 Z" fill="#8a2be2" stroke="#8a2be2" stroke-width="0.5"/><path d="M516.8 504.7 L517.6 506.4 L519.5 506.6 L518.1 507.9 L518.4 509.8 L516.8 508.9 L515.2 509.8 L515.5 507.9 L514.1 506.6 L516 506.4 Z" fill="#8a2be2" stroke="#8a2be2" stroke-width="0.5"/><path d="M523.6 506.8 L524.4 508.5 L526.3 508.7 L524.9 510 L525.2 511.9 L523.6 511 L522 511.9 L522.3 510 L520.9 508.7 L522.8 508.5 Z" fill="#8a2be2" stroke="#8a2be2" stroke-width="0.5"/><path d="M486.4 437.8 L490.9 435 L495.1 432.9 L499.8 429.8 L503.5 427.1 L506.7 425.5 L509.9 428.7 L512.5 437.2 L515.5 450 L518.4 462.5 L521.5 474.7 L524.2 485.8 L526.8 496.9 L528.9 507 L531.6 517.5 L533.6 525.5" fill="none" stroke="#ffa500" stroke-width="2.0" stroke-linejoin="round" stroke-linecap="round"/><circle cx="486.4" cy="437.8" r="1.9" fill="#ff8c00"/><circle cx="490.9" cy="435" r="1.9" fill="#ff8c00"/><circle cx="495.1" cy="432.9" r="1.9" fill="#ff8c00"/><circle cx="499.8" cy="429.8" r="1.9" fill="#ff8c00"/><circle cx="503.5" cy="427.1" r="1.9" fill="#ff8c00"/><circle cx="506.7" cy="425.5" r="1.9" fill="#ff8c00"/><circle cx="509.9" cy="428.7" r="1.9" fill="#ff8c00"/><circle cx="512.5" cy="437.2" r="1.9" fill="#ff8c00"/><circle cx="515.5" cy="450" r="1.9" fill="#ff8c00"/><circle cx="518.4" cy="462.5" r="1.9" fill="#ff8c00"/><circle cx="521.5" cy="474.7" r="1.9" fill="#ff8c00"/><circle cx="524.2" cy="485.8" r="1.9" fill="#ff8c00"/><circle cx="526.8" cy="496.9" r="1.9" fill="#ff8c00"/><circle cx="528.9" cy="507" r="1.9" fill="#ff8c00"/><circle cx="531.6" cy="517.5" r="1.9" fill="#ff8c00"/><circle cx="533.6" cy="525.5" r="1.9" fill="#ff8c00"/><path d="M486.4 437.8 L573.4 423.4" fill="none" stroke="#d2691e" stroke-width="2.0" stroke-linejoin="round" stroke-linecap="round"/><circle cx="486.4" cy="437.8" r="1.9" fill="#a0522d"/><circle cx="492.6" cy="436.8" r="1.9" fill="#a0522d"/><circle cx="498.8" cy="435.7" r="1.9" fill="#a0522d"/><circle cx="505" cy="434.7" r="1.9" fill="#a0522d"/><circle cx="511.3" cy="433.7" r="1.9" fill="#a0522d"/><circle cx="517.5" cy="432.7" r="1.9" fill="#a0522d"/><circle cx="523.7" cy="431.6" r="1.9" fill="#a0522d"/><circle cx="529.9" cy="430.6" r="1.9" fill="#a0522d"/><circle cx="536.1" cy="429.6" r="1.9" fill="#a0522d"/><circle cx="542.3" cy="428.5" r="1.9" fill="#a0522d"/><circle cx="548.5" cy="427.5" r="1.9" fill="#a0522d"/><circle cx="554.8" cy="426.5" r="1.9" fill="#a0522d"/><circle cx="561" cy="425.5" r="1.9" fill="#a0522d"/><circle cx="567.2" cy="424.4" r="1.9" fill="#a0522d"/><circle cx="573.4" cy="423.4" r="1.9" fill="#a0522d"/><path d="M488.7 439.8 L563.7 468.6" fill="none" stroke="#2e8b57" stroke-width="2.0" stroke-linejoin="round" stroke-linecap="round"/><circle cx="488.7" cy="439.8" r="1.9" fill="#006400"/><circle cx="494.1" cy="441.9" r="1.9" fill="#006400"/><circle cx="499.4" cy="443.9" r="1.9" fill="#006400"/><circle cx="504.8" cy="446" r="1.9" fill="#006400"/><circle cx="510.1" cy="448" r="1.9" fill="#006400"/><circle cx="515.5" cy="450.1" r="1.9" fill="#006400"/><circle cx="520.8" cy="452.1" r="1.9" fill="#006400"/><circle cx="526.2" cy="454.2" r="1.9" fill="#006400"/><circle cx="531.6" cy="456.3" r="1.9" fill="#006400"/><circle cx="536.9" cy="458.3" r="1.9" fill="#006400"/><circle cx="542.3" cy="460.4" r="1.9" fill="#006400"/><circle cx="547.6" cy="462.4" r="1.9" fill="#006400"/><circle cx="553" cy="464.5" r="1.9" fill="#006400"/><circle cx="558.3" cy="466.5" r="1.9" fill="#006400"/><circle cx="563.7" cy="468.6" r="1.9" fill="#006400"/><path d="M488.7 445.1 L494.6 447.7 L499.8 454.6 L505.7 459.9 L511.5 466.2 L517.3 473.1 L523.1 478.9 L528.9 484.7 L535.3 490.6 L541.1 495.6 L547.7 499.2 L555 503.6 L562.3 508 L569.6 510.4 L576.3 511" fill="none" stroke="#f08080" stroke-width="2.0" stroke-linejoin="round" stroke-linecap="butt" stroke-dasharray="6,2.4"/><circle cx="488.7" cy="445.1" r="1.9" fill="#cd5c5c"/><circle cx="494.6" cy="447.7" r="1.9" fill="#cd5c5c"/><circle cx="499.8" cy="454.6" r="1.9" fill="#cd5c5c"/><circle cx="505.7" cy="459.9" r="1.9" fill="#cd5c5c"/><circle cx="511.5" cy="466.2" r="1.9" fill="#cd5c5c"/><circle cx="517.3" cy="473.1" r="1.9" fill="#cd5c5c"/><circle cx="523.1" cy="478.9" r="1.9" fill="#cd5c5c"/><circle cx="528.9" cy="484.7" r="1.9" fill="#cd5c5c"/><circle cx="535.3" cy="490.6" r="1.9" fill="#cd5c5c"/><circle cx="541.1" cy="495.6" r="1.9" fill="#cd5c5c"/><circle cx="547.7" cy="499.2" r="1.9" fill="#cd5c5c"/><circle cx="555" cy="503.6" r="1.9" fill="#cd5c5c"/><circle cx="562.3" cy="508" r="1.9" fill="#cd5c5c"/><circle cx="569.6" cy="510.4" r="1.9" fill="#cd5c5c"/><circle cx="576.3" cy="511" r="1.9" fill="#cd5c5c"/><path d="M486.4 437.8 L489 446 L490.7 455.5 L490 465 L491.4 474.7 L496.1 478.9 L500.4 482.6 L505.1 486.3 L509.4 490.6 L513.6 494.3 L518.4 499 L523.1 503 L530 503.8" fill="none" stroke="#9acd32" stroke-width="2.0" stroke-linejoin="round" stroke-linecap="butt" stroke-dasharray="6,2.4"/><circle cx="486.4" cy="437.8" r="1.9" fill="#6b8e23"/><circle cx="489" cy="446" r="1.9" fill="#6b8e23"/><circle cx="490.7" cy="455.5" r="1.9" fill="#6b8e23"/><circle cx="490" cy="465" r="1.9" fill="#6b8e23"/><circle cx="491.4" cy="474.7" r="1.9" fill="#6b8e23"/><circle cx="496.1" cy="478.9" r="1.9" fill="#6b8e23"/><circle cx="500.4" cy="482.6" r="1.9" fill="#6b8e23"/><circle cx="505.1" cy="486.3" r="1.9" fill="#6b8e23"/><circle cx="509.4" cy="490.6" r="1.9" fill="#6b8e23"/><circle cx="513.6" cy="494.3" r="1.9" fill="#6b8e23"/><circle cx="518.4" cy="499" r="1.9" fill="#6b8e23"/><circle cx="523.1" cy="503" r="1.9" fill="#6b8e23"/><circle cx="530" cy="503.8" r="1.9" fill="#6b8e23"/><path d="M488.2 440.9 L494 443.8 L493.2 450.9 L492.1 458.8 L491.1 465.2 L489.8 473.1 L490.3 479.5 L492.4 484.2 L494 490 L497.7 494.3 L502 498 L506.2 502.2 L510.4 505.9 L515.2 510.1 L522.1 512.2" fill="none" stroke="#dc143c" stroke-width="2.0" stroke-linejoin="round" stroke-linecap="round"/><circle cx="488.2" cy="440.9" r="1.9" fill="#ff4500"/><circle cx="494" cy="443.8" r="1.9" fill="#ff4500"/><circle cx="493.2" cy="450.9" r="1.9" fill="#ff4500"/><circle cx="492.1" cy="458.8" r="1.9" fill="#ff4500"/><circle cx="491.1" cy="465.2" r="1.9" fill="#ff4500"/><circle cx="489.8" cy="473.1" r="1.9" fill="#ff4500"/><circle cx="490.3" cy="479.5" r="1.9" fill="#ff4500"/><circle cx="492.4" cy="484.2" r="1.9" fill="#ff4500"/><circle cx="494" cy="490" r="1.9" fill="#ff4500"/><circle cx="497.7" cy="494.3" r="1.9" fill="#ff4500"/><circle cx="502" cy="498" r="1.9" fill="#ff4500"/><circle cx="506.2" cy="502.2" r="1.9" fill="#ff4500"/><circle cx="510.4" cy="505.9" r="1.9" fill="#ff4500"/><circle cx="515.2" cy="510.1" r="1.9" fill="#ff4500"/><circle cx="522.1" cy="512.2" r="1.9" fill="#ff4500"/></g><g><path d="M156.3 785.5 L158.7 793.2 L161.3 801.4 L163.9 809.3 L166.6 817.7 L169.7 825.9 L172.7 834.7 L175.7 842.6 L178.8 851.3 L181.5 861" fill="none" stroke="#4169e1" stroke-width="2.0" stroke-linejoin="round" stroke-linecap="round"/><circle cx="156.3" cy="785.5" r="2.3" fill="#1e90ff"/><circle cx="158.7" cy="793.2" r="2.3" fill="#1e90ff"/><circle cx="161.3" cy="801.4" r="2.3" fill="#1e90ff"/><circle cx="163.9" cy="809.3" r="2.3" fill="#1e90ff"/><circle cx="166.6" cy="817.7" r="2.3" fill="#1e90ff"/><circle cx="169.7" cy="825.9" r="2.3" fill="#1e90ff"/><circle cx="172.7" cy="834.7" r="2.3" fill="#1e90ff"/><circle cx="175.7" cy="842.6" r="2.3" fill="#1e90ff"/><circle cx="178.8" cy="851.3" r="2.3" fill="#1e90ff"/><circle cx="181.5" cy="861" r="2.3" fill="#1e90ff"/><path d="M103 690.1 L106.4 696.8 L110 703.1 L114.2 708.4 L117.6 715.1 L121.4 722.1 L125.1 728.5 L128.7 735.2 L133.4 741.8 L136.8 748.5 L141 755.2 L145.1 760.2 L149.2 767 L152.6 775 L156.3 785.5" fill="none" stroke="#9370db" stroke-width="1.6" stroke-linejoin="round" stroke-linecap="butt" stroke-dasharray="5.6,2.4"/><path d="M103 687.3 L103.8 689 L105.7 689.2 L104.3 690.5 L104.6 692.4 L103 691.5 L101.4 692.4 L101.7 690.5 L100.3 689.2 L102.2 689 Z" fill="#8a2be2" stroke="#8a2be2" stroke-width="0.5"/><path d="M106.4 694 L107.2 695.7 L109.1 695.9 L107.7 697.2 L108 699.1 L106.4 698.2 L104.8 699.1 L105.1 697.2 L103.7 695.9 L105.6 695.7 Z" fill="#8a2be2" stroke="#8a2be2" stroke-width="0.5"/><path d="M110 700.3 L110.8 702 L112.7 702.2 L111.3 703.5 L111.6 705.4 L110 704.5 L108.4 705.4 L108.7 703.5 L107.3 702.2 L109.2 702 Z" fill="#8a2be2" stroke="#8a2be2" stroke-width="0.5"/><path d="M114.2 705.6 L115 707.3 L116.9 707.5 L115.5 708.8 L115.8 710.7 L114.2 709.8 L112.6 710.7 L112.9 708.8 L111.5 707.5 L113.4 707.3 Z" fill="#8a2be2" stroke="#8a2be2" stroke-width="0.5"/><path d="M117.6 712.3 L118.4 714 L120.3 714.2 L118.9 715.5 L119.2 717.4 L117.6 716.5 L116 717.4 L116.3 715.5 L114.9 714.2 L116.8 714 Z" fill="#8a2be2" stroke="#8a2be2" stroke-width="0.5"/><path d="M121.4 719.3 L122.2 721 L124.1 721.2 L122.7 722.5 L123 724.4 L121.4 723.5 L119.8 724.4 L120.1 722.5 L118.7 721.2 L120.6 721 Z" fill="#8a2be2" stroke="#8a2be2" stroke-width="0.5"/><path d="M125.1 725.7 L125.9 727.4 L127.8 727.6 L126.4 728.9 L126.7 730.8 L125.1 729.9 L123.5 730.8 L123.8 728.9 L122.4 727.6 L124.3 727.4 Z" fill="#8a2be2" stroke="#8a2be2" stroke-width="0.5"/><path d="M128.7 732.4 L129.5 734.1 L131.4 734.3 L130 735.6 L130.3 737.5 L128.7 736.6 L127.1 737.5 L127.4 735.6 L126 734.3 L127.9 734.1 Z" fill="#8a2be2" stroke="#8a2be2" stroke-width="0.5"/><path d="M133.4 739 L134.2 740.7 L136.1 740.9 L134.7 742.2 L135 744.1 L133.4 743.2 L131.8 744.1 L132.1 742.2 L130.7 740.9 L132.6 740.7 Z" fill="#8a2be2" stroke="#8a2be2" stroke-width="0.5"/><path d="M136.8 745.7 L137.6 747.4 L139.5 747.6 L138.1 748.9 L138.4 750.8 L136.8 749.9 L135.2 750.8 L135.5 748.9 L134.1 747.6 L136 747.4 Z" fill="#8a2be2" stroke="#8a2be2" stroke-width="0.5"/><path d="M141 752.4 L141.8 754.1 L143.7 754.3 L142.3 755.6 L142.6 757.5 L141 756.6 L139.4 757.5 L139.7 755.6 L138.3 754.3 L140.2 754.1 Z" fill="#8a2be2" stroke="#8a2be2" stroke-width="0.5"/><path d="M145.1 757.4 L145.9 759.1 L147.8 759.3 L146.4 760.6 L146.7 762.5 L145.1 761.6 L143.5 762.5 L143.8 760.6 L142.4 759.3 L144.3 759.1 Z" fill="#8a2be2" stroke="#8a2be2" stroke-width="0.5"/><path d="M149.2 764.2 L150 765.9 L151.9 766.1 L150.5 767.4 L150.8 769.3 L149.2 768.4 L147.6 769.3 L147.9 767.4 L146.5 766.1 L148.4 765.9 Z" fill="#8a2be2" stroke="#8a2be2" stroke-width="0.5"/><path d="M152.6 772.2 L153.4 773.9 L155.3 774.1 L153.9 775.4 L154.2 777.3 L152.6 776.4 L151 777.3 L151.3 775.4 L149.9 774.1 L151.8 773.9 Z" fill="#8a2be2" stroke="#8a2be2" stroke-width="0.5"/><path d="M156.3 782.7 L157.1 784.4 L159 784.6 L157.6 785.9 L157.9 787.8 L156.3 786.9 L154.7 787.8 L155 785.9 L153.6 784.6 L155.5 784.4 Z" fill="#8a2be2" stroke="#8a2be2" stroke-width="0.5"/><path d="M120 686 L156.3 785.5" fill="none" stroke="#20b2aa" stroke-width="2.0" stroke-linejoin="round" stroke-linecap="round"/><circle cx="120" cy="686" r="1.9" fill="#008080"/><circle cx="122.4" cy="692.6" r="1.9" fill="#008080"/><circle cx="124.8" cy="699.3" r="1.9" fill="#008080"/><circle cx="127.3" cy="705.9" r="1.9" fill="#008080"/><circle cx="129.7" cy="712.5" r="1.9" fill="#008080"/><circle cx="132.1" cy="719.2" r="1.9" fill="#008080"/><circle cx="134.5" cy="725.8" r="1.9" fill="#008080"/><circle cx="136.9" cy="732.4" r="1.9" fill="#008080"/><circle cx="139.4" cy="739.1" r="1.9" fill="#008080"/><circle cx="141.8" cy="745.7" r="1.9" fill="#008080"/><circle cx="144.2" cy="752.3" r="1.9" fill="#008080"/><circle cx="146.6" cy="759" r="1.9" fill="#008080"/><circle cx="149" cy="765.6" r="1.9" fill="#008080"/><circle cx="151.5" cy="772.2" r="1.9" fill="#008080"/><circle cx="153.9" cy="778.9" r="1.9" fill="#008080"/><circle cx="156.3" cy="785.5" r="1.9" fill="#008080"/><path d="M145.9 742.7 L146.4 739.3 L148.4 737.7 L151 740.2 L152.6 746.8 L153.5 755.2 L154.3 763.5 L156 773.6 L157.6 783.6" fill="none" stroke="#ffa500" stroke-width="2.0" stroke-linejoin="round" stroke-linecap="round"/><circle cx="145.9" cy="742.7" r="1.9" fill="#ff8c00"/><circle cx="146.4" cy="739.3" r="1.9" fill="#ff8c00"/><circle cx="148.4" cy="737.7" r="1.9" fill="#ff8c00"/><circle cx="151" cy="740.2" r="1.9" fill="#ff8c00"/><circle cx="152.6" cy="746.8" r="1.9" fill="#ff8c00"/><circle cx="153.5" cy="755.2" r="1.9" fill="#ff8c00"/><circle cx="154.3" cy="763.5" r="1.9" fill="#ff8c00"/><circle cx="156" cy="773.6" r="1.9" fill="#ff8c00"/><circle cx="157.6" cy="783.6" r="1.9" fill="#ff8c00"/><path d="M111.7 656.7 L156.3 785.5" fill="none" stroke="#d2691e" stroke-width="2.0" stroke-linejoin="round" stroke-linecap="round"/><circle cx="111.7" cy="656.7" r="1.9" fill="#a0522d"/><circle cx="114" cy="663.5" r="1.9" fill="#a0522d"/><circle cx="116.4" cy="670.3" r="1.9" fill="#a0522d"/><circle cx="118.7" cy="677" r="1.9" fill="#a0522d"/><circle cx="121.1" cy="683.8" r="1.9" fill="#a0522d"/><circle cx="123.4" cy="690.6" r="1.9" fill="#a0522d"/><circle cx="125.8" cy="697.4" r="1.9" fill="#a0522d"/><circle cx="128.1" cy="704.2" r="1.9" fill="#a0522d"/><circle cx="130.5" cy="710.9" r="1.9" fill="#a0522d"/><circle cx="132.8" cy="717.7" r="1.9" fill="#a0522d"/><circle cx="135.2" cy="724.5" r="1.9" fill="#a0522d"/><circle cx="137.5" cy="731.3" r="1.9" fill="#a0522d"/><circle cx="139.9" cy="738" r="1.9" fill="#a0522d"/><circle cx="142.2" cy="744.8" r="1.9" fill="#a0522d"/><circle cx="144.6" cy="751.6" r="1.9" fill="#a0522d"/><circle cx="146.9" cy="758.4" r="1.9" fill="#a0522d"/><circle cx="149.3" cy="765.2" r="1.9" fill="#a0522d"/><circle cx="151.6" cy="771.9" r="1.9" fill="#a0522d"/><circle cx="154" cy="778.7" r="1.9" fill="#a0522d"/><circle cx="156.3" cy="785.5" r="1.9" fill="#a0522d"/><path d="M122.6 686.4 L126 696 L128.5 704.5 L130.9 712.6 L134.2 722 L137.6 731 L140.9 740.2 L144 749 L147.5 758 L150.5 767 L153.5 776 L156.3 785.5" fill="none" stroke="#2e8b57" stroke-width="2.0" stroke-linejoin="round" stroke-linecap="round"/><circle cx="122.6" cy="686.4" r="1.9" fill="#006400"/><circle cx="126" cy="696" r="1.9" fill="#006400"/><circle cx="128.5" cy="704.5" r="1.9" fill="#006400"/><circle cx="130.9" cy="712.6" r="1.9" fill="#006400"/><circle cx="134.2" cy="722" r="1.9" fill="#006400"/><circle cx="137.6" cy="731" r="1.9" fill="#006400"/><circle cx="140.9" cy="740.2" r="1.9" fill="#006400"/><circle cx="144" cy="749" r="1.9" fill="#006400"/><circle cx="147.5" cy="758" r="1.9" fill="#006400"/><circle cx="150.5" cy="767" r="1.9" fill="#006400"/><circle cx="153.5" cy="776" r="1.9" fill="#006400"/><circle cx="156.3" cy="785.5" r="1.9" fill="#006400"/><path d="M126.7 747.7 L130.1 741.8 L133.4 740.2 L137.6 742.7 L140.9 746.8 L144.3 751.9 L147.6 758.5 L151 765.2 L153.5 772 L156.3 785.5" fill="none" stroke="#f08080" stroke-width="2.0" stroke-linejoin="round" stroke-linecap="butt" stroke-dasharray="6,2.4"/><circle cx="126.7" cy="747.7" r="1.9" fill="#cd5c5c"/><circle cx="130.1" cy="741.8" r="1.9" fill="#cd5c5c"/><circle cx="133.4" cy="740.2" r="1.9" fill="#cd5c5c"/><circle cx="137.6" cy="742.7" r="1.9" fill="#cd5c5c"/><circle cx="140.9" cy="746.8" r="1.9" fill="#cd5c5c"/><circle cx="144.3" cy="751.9" r="1.9" fill="#cd5c5c"/><circle cx="147.6" cy="758.5" r="1.9" fill="#cd5c5c"/><circle cx="151" cy="765.2" r="1.9" fill="#cd5c5c"/><circle cx="153.5" cy="772" r="1.9" fill="#cd5c5c"/><circle cx="156.3" cy="785.5" r="1.9" fill="#cd5c5c"/><path d="M118.7 685.4 L121.7 690.5 L124.7 697.2 L127.5 704.5 L130 710.4 L133.1 717.2 L135.9 723.8 L138.4 731.3 L141 738.5 L143.8 746 L146.8 754 L149.8 762 L152.8 770 L156.3 785.5" fill="none" stroke="#6495ed" stroke-width="2.0" stroke-linejoin="round" stroke-linecap="butt" stroke-dasharray="6,2.4"/><circle cx="118.7" cy="685.4" r="1.9" fill="#4169e1"/><circle cx="121.7" cy="690.5" r="1.9" fill="#4169e1"/><circle cx="124.7" cy="697.2" r="1.9" fill="#4169e1"/><circle cx="127.5" cy="704.5" r="1.9" fill="#4169e1"/><circle cx="130" cy="710.4" r="1.9" fill="#4169e1"/><circle cx="133.1" cy="717.2" r="1.9" fill="#4169e1"/><circle cx="135.9" cy="723.8" r="1.9" fill="#4169e1"/><circle cx="138.4" cy="731.3" r="1.9" fill="#4169e1"/><circle cx="141" cy="738.5" r="1.9" fill="#4169e1"/><circle cx="143.8" cy="746" r="1.9" fill="#4169e1"/><circle cx="146.8" cy="754" r="1.9" fill="#4169e1"/><circle cx="149.8" cy="762" r="1.9" fill="#4169e1"/><circle cx="152.8" cy="770" r="1.9" fill="#4169e1"/><circle cx="156.3" cy="785.5" r="1.9" fill="#4169e1"/><path d="M125.9 684.2 L128.4 690 L130.9 696.5 L132.6 703.4 L135 710.5 L136.8 717.6 L139.3 724.7 L141.4 731.8 L143.6 739.3 L145.9 746.8 L148.4 754.4 L151.5 763.5 L153.5 771 L156.3 785.5" fill="none" stroke="#9acd32" stroke-width="2.0" stroke-linejoin="round" stroke-linecap="butt" stroke-dasharray="6,2.4"/><circle cx="125.9" cy="684.2" r="1.9" fill="#6b8e23"/><circle cx="128.4" cy="690" r="1.9" fill="#6b8e23"/><circle cx="130.9" cy="696.5" r="1.9" fill="#6b8e23"/><circle cx="132.6" cy="703.4" r="1.9" fill="#6b8e23"/><circle cx="135" cy="710.5" r="1.9" fill="#6b8e23"/><circle cx="136.8" cy="717.6" r="1.9" fill="#6b8e23"/><circle cx="139.3" cy="724.7" r="1.9" fill="#6b8e23"/><circle cx="141.4" cy="731.8" r="1.9" fill="#6b8e23"/><circle cx="143.6" cy="739.3" r="1.9" fill="#6b8e23"/><circle cx="145.9" cy="746.8" r="1.9" fill="#6b8e23"/><circle cx="148.4" cy="754.4" r="1.9" fill="#6b8e23"/><circle cx="151.5" cy="763.5" r="1.9" fill="#6b8e23"/><circle cx="153.5" cy="771" r="1.9" fill="#6b8e23"/><circle cx="156.3" cy="785.5" r="1.9" fill="#6b8e23"/><path d="M97.5 691.4 L156.3 785.5" fill="none" stroke="#dc143c" stroke-width="2.0" stroke-linejoin="round" stroke-linecap="round"/><circle cx="97.5" cy="691.4" r="1.9" fill="#ff4500"/><circle cx="101.4" cy="697.7" r="1.9" fill="#ff4500"/><circle cx="105.3" cy="703.9" r="1.9" fill="#ff4500"/><circle cx="109.3" cy="710.2" r="1.9" fill="#ff4500"/><circle cx="113.2" cy="716.5" r="1.9" fill="#ff4500"/><circle cx="117.1" cy="722.8" r="1.9" fill="#ff4500"/><circle cx="121" cy="729" r="1.9" fill="#ff4500"/><circle cx="124.9" cy="735.3" r="1.9" fill="#ff4500"/><circle cx="128.9" cy="741.6" r="1.9" fill="#ff4500"/><circle cx="132.8" cy="747.9" r="1.9" fill="#ff4500"/><circle cx="136.7" cy="754.1" r="1.9" fill="#ff4500"/><circle cx="140.6" cy="760.4" r="1.9" fill="#ff4500"/><circle cx="144.5" cy="766.7" r="1.9" fill="#ff4500"/><circle cx="148.5" cy="773" r="1.9" fill="#ff4500"/><circle cx="152.4" cy="779.2" r="1.9" fill="#ff4500"/><circle cx="156.3" cy="785.5" r="1.9" fill="#ff4500"/></g><g><path d="M548.8 792.8 L553.5 801.3 L559.6 808 L559.2 816.5 L555 825 L546.9 831.1 L537.9 837.4 L526.9 845.5 L517.1 852.6" fill="none" stroke="#4169e1" stroke-width="2.0" stroke-linejoin="round" stroke-linecap="round"/><circle cx="548.8" cy="792.8" r="2.3" fill="#1e90ff"/><circle cx="553.5" cy="801.3" r="2.3" fill="#1e90ff"/><circle cx="559.6" cy="808" r="2.3" fill="#1e90ff"/><circle cx="559.2" cy="816.5" r="2.3" fill="#1e90ff"/><circle cx="555" cy="825" r="2.3" fill="#1e90ff"/><circle cx="546.9" cy="831.1" r="2.3" fill="#1e90ff"/><circle cx="537.9" cy="837.4" r="2.3" fill="#1e90ff"/><circle cx="526.9" cy="845.5" r="2.3" fill="#1e90ff"/><circle cx="517.1" cy="852.6" r="2.3" fill="#1e90ff"/><path d="M546.7 688.2 L539.8 775 L542.5 783.5" fill="none" stroke="#9370db" stroke-width="1.6" stroke-linejoin="round" stroke-linecap="butt" stroke-dasharray="5.6,2.4"/><path d="M546.7 685.4 L547.5 687.1 L549.4 687.3 L548 688.6 L548.3 690.5 L546.7 689.6 L545.1 690.5 L545.4 688.6 L544 687.3 L545.9 687.1 Z" fill="#8a2be2" stroke="#8a2be2" stroke-width="0.5"/><path d="M546.3 691 L547.1 692.7 L548.9 693 L547.6 694.3 L547.9 696.1 L546.3 695.2 L544.6 696.1 L544.9 694.3 L543.6 693 L545.4 692.7 Z" fill="#8a2be2" stroke="#8a2be2" stroke-width="0.5"/><path d="M545.8 696.7 L546.6 698.3 L548.5 698.6 L547.1 699.9 L547.5 701.7 L545.8 700.9 L544.2 701.7 L544.5 699.9 L543.1 698.6 L545 698.3 Z" fill="#8a2be2" stroke="#8a2be2" stroke-width="0.5"/><path d="M545.4 702.3 L546.2 704 L548 704.2 L546.7 705.5 L547 707.4 L545.4 706.5 L543.7 707.4 L544 705.5 L542.7 704.2 L544.5 704 Z" fill="#8a2be2" stroke="#8a2be2" stroke-width="0.5"/><path d="M544.9 707.9 L545.7 709.6 L547.6 709.9 L546.2 711.1 L546.6 713 L544.9 712.1 L543.3 713 L543.6 711.1 L542.2 709.9 L544.1 709.6 Z" fill="#8a2be2" stroke="#8a2be2" stroke-width="0.5"/><path d="M544.5 713.5 L545.3 715.2 L547.1 715.5 L545.8 716.8 L546.1 718.6 L544.5 717.7 L542.8 718.6 L543.1 716.8 L541.8 715.5 L543.6 715.2 Z" fill="#8a2be2" stroke="#8a2be2" stroke-width="0.5"/><path d="M544 719.2 L544.8 720.8 L546.7 721.1 L545.3 722.4 L545.7 724.2 L544 723.4 L542.4 724.2 L542.7 722.4 L541.4 721.1 L543.2 720.8 Z" fill="#8a2be2" stroke="#8a2be2" stroke-width="0.5"/><path d="M543.6 724.8 L544.4 726.5 L546.2 726.7 L544.9 728 L545.2 729.9 L543.6 729 L541.9 729.9 L542.2 728 L540.9 726.7 L542.7 726.5 Z" fill="#8a2be2" stroke="#8a2be2" stroke-width="0.5"/><path d="M543.1 730.4 L543.9 732.1 L545.8 732.4 L544.5 733.7 L544.8 735.5 L543.1 734.6 L541.5 735.5 L541.8 733.7 L540.5 732.4 L542.3 732.1 Z" fill="#8a2be2" stroke="#8a2be2" stroke-width="0.5"/><path d="M542.7 736.1 L543.5 737.7 L545.3 738 L544 739.3 L544.3 741.1 L542.7 740.3 L541 741.1 L541.3 739.3 L540 738 L541.9 737.7 Z" fill="#8a2be2" stroke="#8a2be2" stroke-width="0.5"/><path d="M542.2 741.7 L543 743.4 L544.9 743.6 L543.6 744.9 L543.9 746.8 L542.2 745.9 L540.6 746.8 L540.9 744.9 L539.6 743.6 L541.4 743.4 Z" fill="#8a2be2" stroke="#8a2be2" stroke-width="0.5"/><path d="M541.8 747.3 L542.6 749 L544.4 749.3 L543.1 750.5 L543.4 752.4 L541.8 751.5 L540.1 752.4 L540.4 750.5 L539.1 749.3 L541 749 Z" fill="#8a2be2" stroke="#8a2be2" stroke-width="0.5"/><path d="M541.3 752.9 L542.2 754.6 L544 754.9 L542.7 756.2 L543 758 L541.3 757.1 L539.7 758 L540 756.2 L538.7 754.9 L540.5 754.6 Z" fill="#8a2be2" stroke="#8a2be2" stroke-width="0.5"/><path d="M540.9 758.6 L541.7 760.2 L543.5 760.5 L542.2 761.8 L542.5 763.6 L540.9 762.8 L539.2 763.6 L539.6 761.8 L538.2 760.5 L540.1 760.2 Z" fill="#8a2be2" stroke="#8a2be2" stroke-width="0.5"/><path d="M540.4 764.2 L541.3 765.9 L543.1 766.1 L541.8 767.4 L542.1 769.3 L540.4 768.4 L538.8 769.3 L539.1 767.4 L537.8 766.1 L539.6 765.9 Z" fill="#8a2be2" stroke="#8a2be2" stroke-width="0.5"/><path d="M540 769.8 L540.8 771.5 L542.7 771.8 L541.3 773.1 L541.6 774.9 L540 774 L538.3 774.9 L538.7 773.1 L537.3 771.8 L539.2 771.5 Z" fill="#8a2be2" stroke="#8a2be2" stroke-width="0.5"/><path d="M540.8 775.3 L541.6 777 L543.5 777.3 L542.1 778.6 L542.4 780.4 L540.8 779.5 L539.1 780.4 L539.5 778.6 L538.1 777.3 L540 777 Z" fill="#8a2be2" stroke="#8a2be2" stroke-width="0.5"/><path d="M542.5 780.7 L543.3 782.4 L545.2 782.6 L543.8 783.9 L544.1 785.8 L542.5 784.9 L540.9 785.8 L541.2 783.9 L539.8 782.6 L541.7 782.4 Z" fill="#8a2be2" stroke="#8a2be2" stroke-width="0.5"/><path d="M492.9 661.4 L548.1 788.4" fill="none" stroke="#20b2aa" stroke-width="2.0" stroke-linejoin="round" stroke-linecap="round"/><circle cx="492.9" cy="661.4" r="1.9" fill="#008080"/><circle cx="496.3" cy="669.3" r="1.9" fill="#008080"/><circle cx="499.8" cy="677.3" r="1.9" fill="#008080"/><circle cx="503.2" cy="685.2" r="1.9" fill="#008080"/><circle cx="506.7" cy="693.1" r="1.9" fill="#008080"/><circle cx="510.1" cy="701.1" r="1.9" fill="#008080"/><circle cx="513.6" cy="709" r="1.9" fill="#008080"/><circle cx="517" cy="717" r="1.9" fill="#008080"/><circle cx="520.5" cy="724.9" r="1.9" fill="#008080"/><circle cx="524" cy="732.8" r="1.9" fill="#008080"/><circle cx="527.4" cy="740.8" r="1.9" fill="#008080"/><circle cx="530.9" cy="748.7" r="1.9" fill="#008080"/><circle cx="534.3" cy="756.6" r="1.9" fill="#008080"/><circle cx="537.8" cy="764.6" r="1.9" fill="#008080"/><circle cx="541.2" cy="772.5" r="1.9" fill="#008080"/><circle cx="544.6" cy="780.5" r="1.9" fill="#008080"/><circle cx="548.1" cy="788.4" r="1.9" fill="#008080"/><path d="M496.4 773.5 L503 769.5 L511.3 764.8 L516.5 762.5 L521.8 760.4 L527 764 L532 769 L537 775 L543.5 784" fill="none" stroke="#ffa500" stroke-width="2.0" stroke-linejoin="round" stroke-linecap="round"/><circle cx="496.4" cy="773.5" r="1.9" fill="#ff8c00"/><circle cx="503" cy="769.5" r="1.9" fill="#ff8c00"/><circle cx="511.3" cy="764.8" r="1.9" fill="#ff8c00"/><circle cx="516.5" cy="762.5" r="1.9" fill="#ff8c00"/><circle cx="521.8" cy="760.4" r="1.9" fill="#ff8c00"/><circle cx="527" cy="764" r="1.9" fill="#ff8c00"/><circle cx="532" cy="769" r="1.9" fill="#ff8c00"/><circle cx="537" cy="775" r="1.9" fill="#ff8c00"/><circle cx="543.5" cy="784" r="1.9" fill="#ff8c00"/><path d="M497.3 701.7 L543.5 784" fill="none" stroke="#d2691e" stroke-width="2.0" stroke-linejoin="round" stroke-linecap="round"/><circle cx="497.3" cy="701.7" r="1.9" fill="#a0522d"/><circle cx="500.4" cy="707.2" r="1.9" fill="#a0522d"/><circle cx="503.5" cy="712.7" r="1.9" fill="#a0522d"/><circle cx="506.5" cy="718.2" r="1.9" fill="#a0522d"/><circle cx="509.6" cy="723.6" r="1.9" fill="#a0522d"/><circle cx="512.7" cy="729.1" r="1.9" fill="#a0522d"/><circle cx="515.8" cy="734.6" r="1.9" fill="#a0522d"/><circle cx="518.9" cy="740.1" r="1.9" fill="#a0522d"/><circle cx="521.9" cy="745.6" r="1.9" fill="#a0522d"/><circle cx="525" cy="751.1" r="1.9" fill="#a0522d"/><circle cx="528.1" cy="756.6" r="1.9" fill="#a0522d"/><circle cx="531.2" cy="762.1" r="1.9" fill="#a0522d"/><circle cx="534.3" cy="767.5" r="1.9" fill="#a0522d"/><circle cx="537.3" cy="773" r="1.9" fill="#a0522d"/><circle cx="540.4" cy="778.5" r="1.9" fill="#a0522d"/><circle cx="543.5" cy="784" r="1.9" fill="#a0522d"/><path d="M476.6 693.4 L543.5 784" fill="none" stroke="#2e8b57" stroke-width="2.0" stroke-linejoin="round" stroke-linecap="round"/><circle cx="476.6" cy="693.4" r="1.9" fill="#006400"/><circle cx="480.8" cy="699.1" r="1.9" fill="#006400"/><circle cx="485" cy="704.7" r="1.9" fill="#006400"/><circle cx="489.1" cy="710.4" r="1.9" fill="#006400"/><circle cx="493.3" cy="716" r="1.9" fill="#006400"/><circle cx="497.5" cy="721.7" r="1.9" fill="#006400"/><circle cx="501.7" cy="727.4" r="1.9" fill="#006400"/><circle cx="505.9" cy="733" r="1.9" fill="#006400"/><circle cx="510.1" cy="738.7" r="1.9" fill="#006400"/><circle cx="514.2" cy="744.4" r="1.9" fill="#006400"/><circle cx="518.4" cy="750" r="1.9" fill="#006400"/><circle cx="522.6" cy="755.7" r="1.9" fill="#006400"/><circle cx="526.8" cy="761.4" r="1.9" fill="#006400"/><circle cx="531" cy="767" r="1.9" fill="#006400"/><circle cx="535.1" cy="772.7" r="1.9" fill="#006400"/><circle cx="539.3" cy="778.3" r="1.9" fill="#006400"/><circle cx="543.5" cy="784" r="1.9" fill="#006400"/><path d="M457.9 692.9 L543.5 784" fill="none" stroke="#f08080" stroke-width="2.0" stroke-linejoin="round" stroke-linecap="butt" stroke-dasharray="6,2.4"/><circle cx="457.9" cy="692.9" r="1.9" fill="#cd5c5c"/><circle cx="463.2" cy="698.6" r="1.9" fill="#cd5c5c"/><circle cx="468.6" cy="704.3" r="1.9" fill="#cd5c5c"/><circle cx="473.9" cy="710" r="1.9" fill="#cd5c5c"/><circle cx="479.3" cy="715.7" r="1.9" fill="#cd5c5c"/><circle cx="484.6" cy="721.4" r="1.9" fill="#cd5c5c"/><circle cx="490" cy="727.1" r="1.9" fill="#cd5c5c"/><circle cx="495.3" cy="732.8" r="1.9" fill="#cd5c5c"/><circle cx="500.7" cy="738.5" r="1.9" fill="#cd5c5c"/><circle cx="506.1" cy="744.1" r="1.9" fill="#cd5c5c"/><circle cx="511.4" cy="749.8" r="1.9" fill="#cd5c5c"/><circle cx="516.8" cy="755.5" r="1.9" fill="#cd5c5c"/><circle cx="522.1" cy="761.2" r="1.9" fill="#cd5c5c"/><circle cx="527.5" cy="766.9" r="1.9" fill="#cd5c5c"/><circle cx="532.8" cy="772.6" r="1.9" fill="#cd5c5c"/><circle cx="538.1" cy="778.3" r="1.9" fill="#cd5c5c"/><circle cx="543.5" cy="784" r="1.9" fill="#cd5c5c"/><path d="M492 692 L543.5 784" fill="none" stroke="#6495ed" stroke-width="2.0" stroke-linejoin="round" stroke-linecap="butt" stroke-dasharray="6,2.4"/><circle cx="492" cy="692" r="1.9" fill="#4169e1"/><circle cx="495.4" cy="698.1" r="1.9" fill="#4169e1"/><circle cx="498.9" cy="704.3" r="1.9" fill="#4169e1"/><circle cx="502.3" cy="710.4" r="1.9" fill="#4169e1"/><circle cx="505.7" cy="716.5" r="1.9" fill="#4169e1"/><circle cx="509.2" cy="722.7" r="1.9" fill="#4169e1"/><circle cx="512.6" cy="728.8" r="1.9" fill="#4169e1"/><circle cx="516" cy="734.9" r="1.9" fill="#4169e1"/><circle cx="519.5" cy="741.1" r="1.9" fill="#4169e1"/><circle cx="522.9" cy="747.2" r="1.9" fill="#4169e1"/><circle cx="526.3" cy="753.3" r="1.9" fill="#4169e1"/><circle cx="529.8" cy="759.5" r="1.9" fill="#4169e1"/><circle cx="533.2" cy="765.6" r="1.9" fill="#4169e1"/><circle cx="536.6" cy="771.7" r="1.9" fill="#4169e1"/><circle cx="540.1" cy="777.9" r="1.9" fill="#4169e1"/><circle cx="543.5" cy="784" r="1.9" fill="#4169e1"/><path d="M552 689.4 L541.1 779.6 L543.5 784" fill="none" stroke="#9acd32" stroke-width="2.0" stroke-linejoin="round" stroke-linecap="butt" stroke-dasharray="6,2.4"/><circle cx="552" cy="689.4" r="1.9" fill="#6b8e23"/><circle cx="551.2" cy="695.7" r="1.9" fill="#6b8e23"/><circle cx="550.5" cy="702.1" r="1.9" fill="#6b8e23"/><circle cx="549.7" cy="708.4" r="1.9" fill="#6b8e23"/><circle cx="548.9" cy="714.8" r="1.9" fill="#6b8e23"/><circle cx="548.2" cy="721.1" r="1.9" fill="#6b8e23"/><circle cx="547.4" cy="727.5" r="1.9" fill="#6b8e23"/><circle cx="546.6" cy="733.8" r="1.9" fill="#6b8e23"/><circle cx="545.9" cy="740.2" r="1.9" fill="#6b8e23"/><circle cx="545.1" cy="746.5" r="1.9" fill="#6b8e23"/><circle cx="544.3" cy="752.9" r="1.9" fill="#6b8e23"/><circle cx="543.6" cy="759.2" r="1.9" fill="#6b8e23"/><circle cx="542.8" cy="765.5" r="1.9" fill="#6b8e23"/><circle cx="542" cy="771.9" r="1.9" fill="#6b8e23"/><circle cx="541.3" cy="778.2" r="1.9" fill="#6b8e23"/><circle cx="543.5" cy="784" r="1.9" fill="#6b8e23"/><path d="M546.4 693.8 L542.5 776 L543.5 784" fill="none" stroke="#dc143c" stroke-width="2.0" stroke-linejoin="round" stroke-linecap="round"/><circle cx="546.4" cy="693.8" r="1.9" fill="#ff4500"/><circle cx="546.1" cy="699.1" r="1.9" fill="#ff4500"/><circle cx="545.9" cy="704.4" r="1.9" fill="#ff4500"/><circle cx="545.6" cy="709.7" r="1.9" fill="#ff4500"/><circle cx="545.4" cy="715" r="1.9" fill="#ff4500"/><circle cx="545.1" cy="720.3" r="1.9" fill="#ff4500"/><circle cx="544.9" cy="725.7" r="1.9" fill="#ff4500"/><circle cx="544.6" cy="731" r="1.9" fill="#ff4500"/><circle cx="544.4" cy="736.3" r="1.9" fill="#ff4500"/><circle cx="544.1" cy="741.6" r="1.9" fill="#ff4500"/><circle cx="543.9" cy="746.9" r="1.9" fill="#ff4500"/><circle cx="543.6" cy="752.2" r="1.9" fill="#ff4500"/><circle cx="543.4" cy="757.5" r="1.9" fill="#ff4500"/><circle cx="543.1" cy="762.8" r="1.9" fill="#ff4500"/><circle cx="542.9" cy="768.1" r="1.9" fill="#ff4500"/><circle cx="542.6" cy="773.4" r="1.9" fill="#ff4500"/><circle cx="542.8" cy="778.7" r="1.9" fill="#ff4500"/><circle cx="543.5" cy="784" r="1.9" fill="#ff4500"/></g><g opacity="0.93" fill="#a6ea87"><rect x="137.0" y="54.1" width="117.3" height="47.8" rx="6.5"/><path d="M137.5 61 L101.2 58.9 L137.5 72 Z"/></g><g style="font-family:'Liberation Sans',sans-serif;font-weight:bold;font-size:8.5px"><text x="149.5" y="65.9"><tspan fill="#000">Sichuan eight zero six</tspan></text><text x="149.5" y="76.1"><tspan fill="#000">five </tspan><tspan fill="#3d61b5">descend maintain</tspan></text><text x="149.5" y="86.4"><tspan fill="#3d61b5">nine thousand five</tspan></text><text x="149.5" y="96.6"><tspan fill="#3d61b5">hundred meters</tspan></text></g><g opacity="0.93" fill="#a6ea87"><rect x="372.1" y="160.5" width="123.4" height="48.8" rx="6.5"/><path d="M495 187.4 L512.2 198 L495 206 Z"/></g><g style="font-family:'Liberation Sans',sans-serif;font-weight:bold;font-size:8.5px"><text x="385.2" y="172.8"><tspan fill="#000">Air China four two two</tspan></text><text x="385.2" y="183.2"><tspan fill="#000">two </tspan><tspan fill="#0a70c8">climb maintain ten</tspan></text><text x="385.2" y="193.6"><tspan fill="#0a70c8">thousand four hundred</tspan></text><text x="385.2" y="204"><tspan fill="#0a70c8">meters</tspan></text></g><g opacity="0.93" fill="#a6ea87"><rect x="115.5" y="394.9" width="129.6" height="48.1" rx="6.5"/><path d="M134.6 442.5 L174.6 473.7 L169.6 442.5 Z"/></g><g style="font-family:'Liberation Sans',sans-serif;font-weight:bold;font-size:8.5px"><text x="128.6" y="406.5"><tspan fill="#000">China eastern five eight</tspan></text><text x="128.6" y="416.9"><tspan fill="#000">four two </tspan><tspan fill="#0a70c8">increase mach</tspan></text><text x="128.6" y="427.2"><tspan fill="#0a70c8">number decimal seven</tspan></text><text x="128.6" y="437.6"><tspan fill="#0a70c8">seven</tspan><tspan fill="#000"> due to separation</tspan></text></g><g opacity="0.93" fill="#a6ea87"><rect x="474.1" y="379.9" width="111.8" height="36.2" rx="6.5"/><path d="M489.7 415.5 L484 437.4 L517.2 415.5 Z"/></g><g style="font-family:'Liberation Sans',sans-serif;font-weight:bold;font-size:8.5px"><text x="486.4" y="390.5"><tspan fill="#000">China eastern five</tspan></text><text x="486.4" y="400.9"><tspan fill="#000">five three two </tspan><tspan fill="#0a70c8">offset</tspan></text><text x="486.4" y="411.2"><tspan fill="#0a70c8">right five miles</tspan></text></g><g opacity="0.93" fill="#a6ea87"><rect x="22.0" y="766.6" width="105.8" height="43.3" rx="6.5"/><path d="M127.3 786.5 L156.2 792.4 L127.3 799 Z"/></g><g style="font-family:'Liberation Sans',sans-serif;font-weight:bold;font-size:8.5px"><text x="35.1" y="776.4"><tspan fill="#000">Shenzhen nine four</tspan></text><text x="35.1" y="786.7"><tspan fill="#000">zero three </tspan><tspan fill="#0a70c8">cancel</tspan></text><text x="35.1" y="797"><tspan fill="#0a70c8">offset</tspan><tspan fill="#a8392f"> direct to</tspan></text><text x="35.1" y="807.3"><tspan fill="#a8392f">IRVED</tspan></text></g><g opacity="0.93" fill="#a6ea87"><rect x="402.7" y="763.2" width="110.8" height="46.5" rx="6.5"/><path d="M513 789.7 L551.6 792.9 L513 798.2 Z"/></g><g style="font-family:'Liberation Sans',sans-serif;font-weight:bold;font-size:8.5px"><text x="415.5" y="774.8"><tspan fill="#000">Xizang nine eight</tspan></text><text x="415.5" y="785.1"><tspan fill="#000">zero six </tspan><tspan fill="#0a70c8">turn right</tspan></text><text x="415.5" y="795.3"><tspan fill="#a8392f">direct to SUMUN join</tspan></text><text x="415.5" y="805.6"><tspan fill="#a8392f">flight plan route</tspan></text></g><path d="M85.2 657 L86.7 661.1 L91.1 661.3 L87.7 664 L88.8 668.2 L85.2 665.8 L81.6 668.2 L82.7 664 L79.3 661.3 L83.7 661.1 Z" fill="#daa520" stroke="#ff0000" stroke-width="1.3" stroke-linejoin="miter"/><text x="85.5" y="678.8" text-anchor="middle" fill="#ff0000" style="font-family:'Liberation Sans',sans-serif;font-size:11.1px">IRVED</text><path d="M554.1 651.1 L555.6 655.1 L559.8 655.2 L556.5 657.9 L557.6 662 L554.1 659.6 L550.6 662 L551.7 657.9 L548.4 655.2 L552.6 655.1 Z" fill="#daa520" stroke="#ff0000" stroke-width="1.3" stroke-linejoin="miter"/><text x="561.8" y="659.9" fill="#ff0000" style="font-family:'Liberation Sans',sans-serif;font-size:11px">SUMUN</text><g><rect x="533.4" y="1.8" width="114.7" height="152.9" rx="2.5" fill="#ffffff" fill-opacity="0.8" stroke="#cccccc" stroke-width="0.9"/><path d="M537.2 10 L559.9 10" stroke="#4169e1" stroke-width="2.0"/><circle cx="548.5" cy="10" r="2.3" fill="#1e90ff"/><text x="567.6" y="13.8" style="font-family:'Liberation Sans',sans-serif;font-size:10.5px" fill="#000">Inputs</text><path d="M537.2 25.1 L559.9 25.1" stroke="#9370db" stroke-width="1.6" stroke-dasharray="5.6,2.4"/><path d="M548.5 22.3 L549.3 23.9 L551.2 24.2 L549.8 25.5 L550.1 27.3 L548.5 26.5 L546.9 27.3 L547.2 25.5 L545.8 24.2 L547.7 23.9 Z" fill="#8a2be2" stroke="#8a2be2" stroke-width="0.5"/><text x="567.6" y="28.9" style="font-family:'Liberation Sans',sans-serif;font-size:10.5px" fill="#000">Ground truth</text><path d="M537.2 40.1 L559.9 40.1" stroke="#20b2aa" stroke-width="2.0"/><circle cx="548.5" cy="40.1" r="1.9" fill="#008080"/><text x="567.6" y="43.9" style="font-family:'Liberation Sans',sans-serif;font-size:10.5px" fill="#000">LSTM</text><path d="M537.2 55.2 L559.9 55.2" stroke="#ffa500" stroke-width="2.0"/><circle cx="548.5" cy="55.2" r="1.9" fill="#ff8c00"/><text x="567.6" y="59" style="font-family:'Liberation Sans',sans-serif;font-size:10.5px" fill="#000">Transformer</text><path d="M537.2 70.3 L559.9 70.3" stroke="#d2691e" stroke-width="2.0"/><circle cx="548.5" cy="70.3" r="1.9" fill="#a0522d"/><text x="567.6" y="74.1" style="font-family:'Liberation Sans',sans-serif;font-size:10.5px" fill="#000">Kalman Filter</text><path d="M537.2 85.3 L559.9 85.3" stroke="#2e8b57" stroke-width="2.0"/><circle cx="548.5" cy="85.3" r="1.9" fill="#006400"/><text x="567.6" y="89.1" style="font-family:'Liberation Sans',sans-serif;font-size:10.5px" fill="#000">FlightBERT</text><path d="M537.2 100.4 L559.9 100.4" stroke="#f08080" stroke-width="2.0" stroke-dasharray="6,2.4"/><circle cx="548.5" cy="100.4" r="1.9" fill="#cd5c5c"/><text x="567.6" y="104.2" style="font-family:'Liberation Sans',sans-serif;font-size:10.5px" fill="#000">WTFTP</text><path d="M537.2 115.5 L559.9 115.5" stroke="#6495ed" stroke-width="2.0" stroke-dasharray="6,2.4"/><circle cx="548.5" cy="115.5" r="1.9" fill="#4169e1"/><text x="567.6" y="119.3" style="font-family:'Liberation Sans',sans-serif;font-size:10.5px" fill="#000">LSTM+Attention</text><path d="M537.2 130.6 L559.9 130.6" stroke="#9acd32" stroke-width="2.0" stroke-dasharray="6,2.4"/><circle cx="548.5" cy="130.6" r="1.9" fill="#6b8e23"/><text x="567.6" y="134.4" style="font-family:'Liberation Sans',sans-serif;font-size:10.5px" fill="#000">FlightBERT++</text><path d="M537.2 145.6 L559.9 145.6" stroke="#dc143c" stroke-width="2.0"/><circle cx="548.5" cy="145.6" r="1.9" fill="#ff4500"/><text x="567.6" y="149.4" style="font-family:'Liberation Sans',sans-serif;font-size:10.5px" fill="#000">SIA-FTP</text></g><text x="-1" y="22.2" style="font-family:'Liberation Sans',sans-serif;font-weight:bold;font-size:16.5px" fill="#000">a</text><text x="375" y="22.2" style="font-family:'Liberation Sans',sans-serif;font-weight:bold;font-size:16.5px" fill="#000">b</text><text x="-1" y="323.6" style="font-family:'Liberation Sans',sans-serif;font-weight:bold;font-size:16.5px" fill="#000">c</text><text x="375" y="323.6" style="font-family:'Liberation Sans',sans-serif;font-weight:bold;font-size:16.5px" fill="#000">d</text><text x="-1" y="625" style="font-family:'Liberation Sans',sans-serif;font-weight:bold;font-size:16.5px" fill="#000">e</text><text x="375" y="625" style="font-family:'Liberation Sans',sans-serif;font-weight:bold;font-size:16.5px" fill="#000">f</text></svg>

</body></html>
